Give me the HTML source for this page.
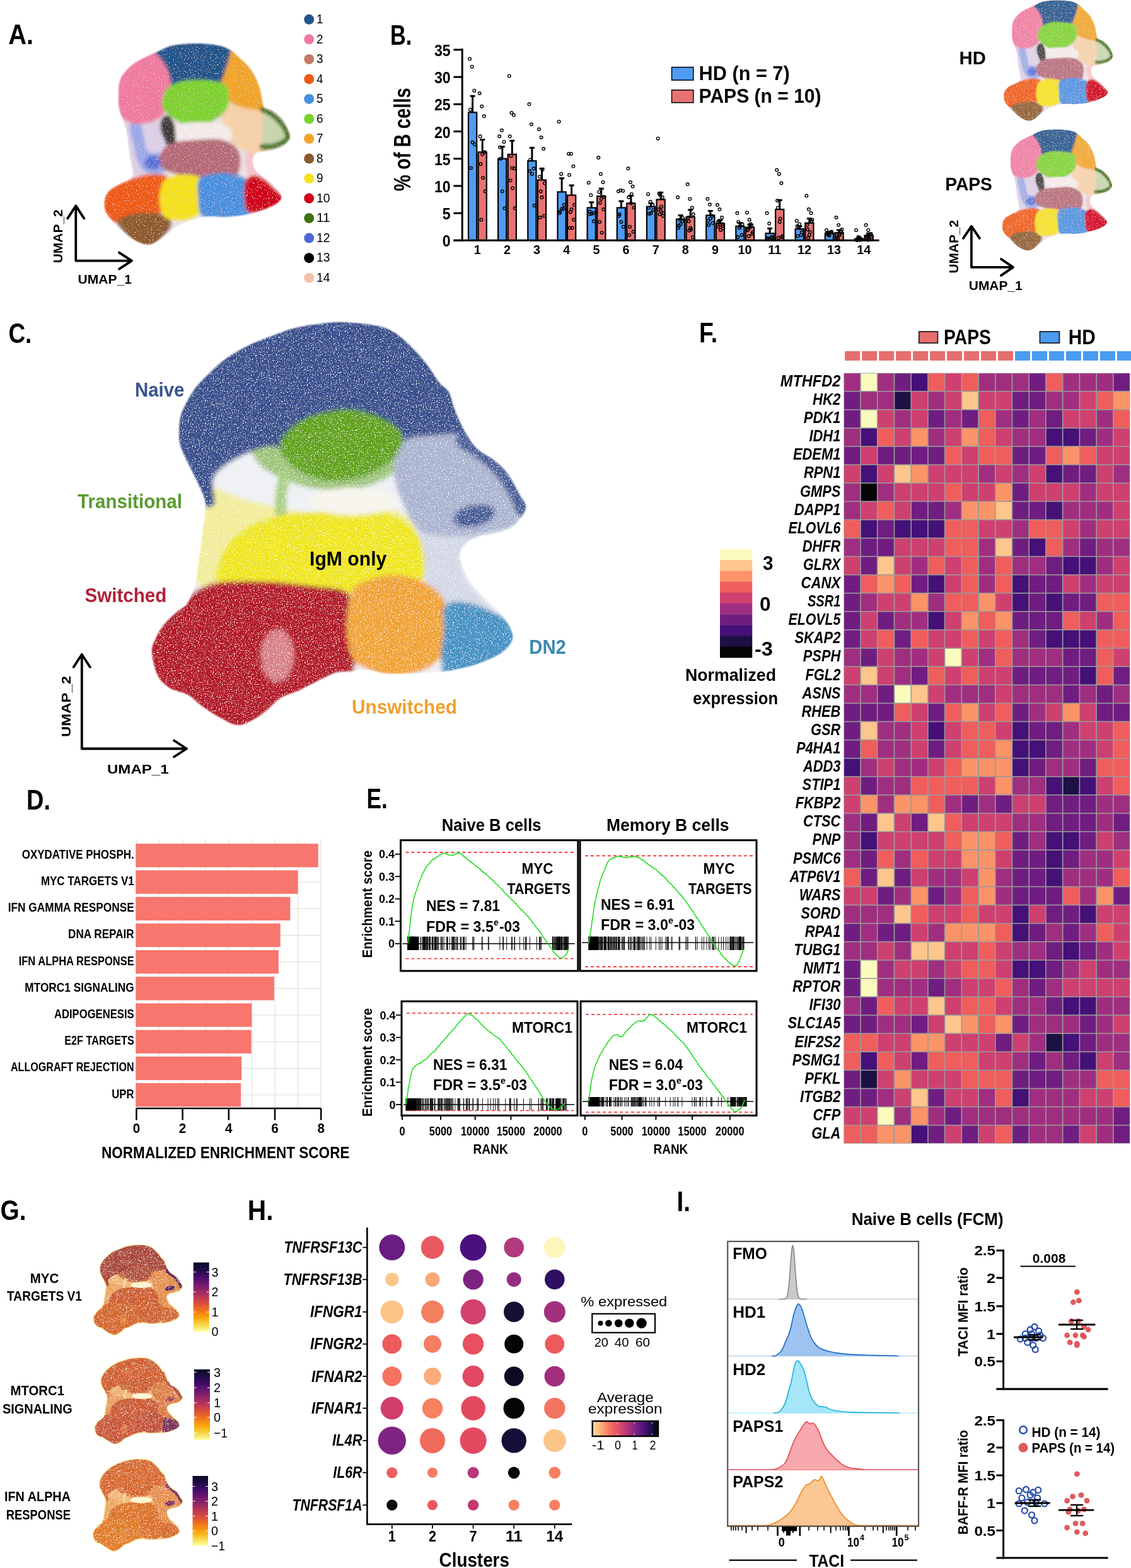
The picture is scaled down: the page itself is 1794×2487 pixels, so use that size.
<!DOCTYPE html>
<html><head><meta charset="utf-8"><title>Figure</title>
<style>
html,body{margin:0;padding:0;background:#fff;overflow:hidden;}
svg{display:block;}
text{font-family:"Liberation Sans",Arial,sans-serif;}
</style></head><body>
<svg width="1794" height="2487" viewBox="0 0 1794 2487">
<rect width="1794" height="2487" fill="#fff"/>
<defs><filter id="soft" x="-5%" y="-5%" width="110%" height="110%"><feGaussianBlur stdDeviation="1.1"/></filter><filter id="blA" x="-10%" y="-10%" width="120%" height="120%"><feGaussianBlur stdDeviation="2.2"/></filter><filter id="blC" x="-10%" y="-10%" width="120%" height="120%"><feGaussianBlur stdDeviation="3"/></filter><filter id="speck" x="0" y="0" width="100%" height="100%"><feTurbulence type="fractalNoise" baseFrequency="0.55" numOctaves="2" seed="4" result="n"/><feColorMatrix in="n" type="matrix" values="0 0 0 0 1  0 0 0 0 1  0 0 0 0 1  -7 0 0 0 2.75" result="w"/><feComposite in="w" in2="SourceAlpha" operator="in" result="wd"/><feMerge><feMergeNode in="SourceGraphic"/><feMergeNode in="wd"/></feMerge></filter><filter id="speckA" x="0" y="0" width="100%" height="100%"><feTurbulence type="fractalNoise" baseFrequency="0.5" numOctaves="2" seed="9" result="n"/><feColorMatrix in="n" type="matrix" values="0 0 0 0 0.85  0 0 0 0 0.6  0 0 0 0 0.5  -8 0 0 0 2.95" result="w"/><feComposite in="w" in2="SourceAlpha" operator="in" result="wd"/><feMerge><feMergeNode in="SourceGraphic"/><feMergeNode in="wd"/></feMerge></filter><clipPath id="silA"><path d="M188.0,150.0 C188.2,142.7 188.0,134.3 190.0,128.0 C192.0,121.7 195.8,116.8 200.0,112.0 C204.2,107.2 209.7,102.7 215.0,99.0 C220.3,95.3 226.2,92.8 232.0,90.0 C237.8,87.2 243.7,84.8 250.0,82.0 C256.3,79.2 262.5,75.1 270.0,73.0 C277.5,70.9 285.8,70.1 295.0,69.5 C304.2,68.9 315.8,68.9 325.0,69.5 C334.2,70.1 342.8,71.1 350.0,73.0 C357.2,74.9 363.0,77.8 368.0,81.0 C373.0,84.2 375.8,88.2 380.0,92.0 C384.2,95.8 389.0,99.3 393.0,104.0 C397.0,108.7 400.8,114.0 404.0,120.0 C407.2,126.0 410.0,133.3 412.0,140.0 C414.0,146.7 414.8,155.0 416.0,160.0 C417.2,165.0 416.2,167.3 419.0,170.0 C421.8,172.7 428.3,173.0 433.0,176.0 C437.7,179.0 443.2,183.3 447.0,188.0 C450.8,192.7 453.8,199.0 456.0,204.0 C458.2,209.0 460.7,213.8 460.0,218.0 C459.3,222.2 455.7,226.0 452.0,229.0 C448.3,232.0 443.3,234.2 438.0,236.0 C432.7,237.8 425.3,238.8 420.0,240.0 C414.7,241.2 409.2,240.5 406.0,243.0 C402.8,245.5 401.2,250.5 401.0,255.0 C400.8,259.5 402.5,265.8 405.0,270.0 C407.5,274.2 411.7,276.3 416.0,280.0 C420.3,283.7 426.0,287.0 431.0,292.0 C436.0,297.0 444.5,305.0 446.0,310.0 C447.5,315.0 444.3,318.3 440.0,322.0 C435.7,325.7 426.7,329.3 420.0,332.0 C413.3,334.7 406.7,336.3 400.0,338.0 C393.3,339.7 387.5,341.0 380.0,342.0 C372.5,343.0 362.5,343.8 355.0,344.0 C347.5,344.2 341.2,342.8 335.0,343.0 C328.8,343.2 323.8,343.8 318.0,345.0 C312.2,346.2 306.0,347.8 300.0,350.0 C294.0,352.2 287.7,354.7 282.0,358.0 C276.3,361.3 271.3,366.0 266.0,370.0 C260.7,374.0 255.2,379.0 250.0,382.0 C244.8,385.0 240.3,387.8 235.0,388.0 C229.7,388.2 223.8,385.8 218.0,383.0 C212.2,380.2 206.2,376.0 200.0,371.0 C193.8,366.0 186.3,358.8 181.0,353.0 C175.7,347.2 170.5,341.8 168.0,336.0 C165.5,330.2 165.2,323.5 166.0,318.0 C166.8,312.5 169.0,307.3 173.0,303.0 C177.0,298.7 184.7,295.0 190.0,292.0 C195.3,289.0 201.5,287.8 205.0,285.0 C208.5,282.2 210.5,279.5 211.0,275.0 C211.5,270.5 209.0,263.8 208.0,258.0 C207.0,252.2 205.8,246.0 205.0,240.0 C204.2,234.0 203.8,227.8 203.0,222.0 C202.2,216.2 201.3,210.3 200.0,205.0 C198.7,199.7 196.8,195.5 195.0,190.0 C193.2,184.5 190.2,178.7 189.0,172.0 C187.8,165.3 187.8,157.3 188.0,150.0Z"/></clipPath><clipPath id="silC"><path d="M284.0,690.0 C284.0,682.7 284.0,670.7 286.0,662.0 C288.0,653.3 291.8,646.0 296.0,638.0 C300.2,630.0 305.7,621.0 311.0,614.0 C316.3,607.0 322.0,602.0 328.0,596.0 C334.0,590.0 340.5,583.5 347.0,578.0 C353.5,572.5 358.8,568.2 367.0,563.0 C375.2,557.8 386.2,551.7 396.0,547.0 C405.8,542.3 414.5,539.3 426.0,535.0 C437.5,530.7 452.0,524.5 465.0,521.0 C478.0,517.5 491.0,515.7 504.0,514.0 C517.0,512.3 527.2,510.5 543.0,511.0 C558.8,511.5 584.8,514.0 599.0,517.0 C613.2,520.0 618.3,522.7 628.0,529.0 C637.7,535.3 648.8,546.8 657.0,555.0 C665.2,563.2 670.3,569.3 677.0,578.0 C683.7,586.7 691.2,599.7 697.0,607.0 C702.8,614.3 708.0,615.0 712.0,622.0 C716.0,629.0 717.0,639.0 721.0,649.0 C725.0,659.0 730.2,671.7 736.0,682.0 C741.8,692.3 747.8,702.8 756.0,711.0 C764.2,719.2 776.8,724.3 785.0,731.0 C793.2,737.7 798.5,742.2 805.0,751.0 C811.5,759.8 819.2,774.8 824.0,784.0 C828.8,793.2 835.3,797.8 834.0,806.0 C832.7,814.2 823.3,826.5 816.0,833.0 C808.7,839.5 799.3,842.0 790.0,845.0 C780.7,848.0 768.3,848.3 760.0,851.0 C751.7,853.7 745.2,856.2 740.0,861.0 C734.8,865.8 729.7,872.7 729.0,880.0 C728.3,887.3 732.3,896.7 736.0,905.0 C739.7,913.3 745.2,922.5 751.0,930.0 C756.8,937.5 764.3,943.3 771.0,950.0 C777.7,956.7 785.2,963.3 791.0,970.0 C796.8,976.7 802.3,982.8 806.0,990.0 C809.7,997.2 814.7,1005.5 813.0,1013.0 C811.3,1020.5 804.8,1028.5 796.0,1035.0 C787.2,1041.5 772.3,1047.5 760.0,1052.0 C747.7,1056.5 733.7,1059.7 722.0,1062.0 C710.3,1064.3 702.0,1065.0 690.0,1066.0 C678.0,1067.0 663.0,1067.7 650.0,1068.0 C637.0,1068.3 623.7,1069.0 612.0,1068.0 C600.3,1067.0 589.2,1062.5 580.0,1062.0 C570.8,1061.5 564.8,1064.2 557.0,1065.0 C549.2,1065.8 541.8,1064.5 533.0,1067.0 C524.2,1069.5 513.8,1075.3 504.0,1080.0 C494.2,1084.7 483.8,1090.5 474.0,1095.0 C464.2,1099.5 453.0,1102.2 445.0,1107.0 C437.0,1111.8 432.5,1118.7 426.0,1124.0 C419.5,1129.3 414.2,1134.7 406.0,1139.0 C397.8,1143.3 386.8,1150.3 377.0,1150.0 C367.2,1149.7 356.8,1142.3 347.0,1137.0 C337.2,1131.7 326.2,1123.8 318.0,1118.0 C309.8,1112.2 306.2,1106.5 298.0,1102.0 C289.8,1097.5 277.0,1096.2 269.0,1091.0 C261.0,1085.8 254.7,1080.3 250.0,1071.0 C245.3,1061.7 241.7,1044.3 241.0,1035.0 C240.3,1025.7 243.0,1022.2 246.0,1015.0 C249.0,1007.8 253.5,999.2 259.0,992.0 C264.5,984.8 272.5,978.0 279.0,972.0 C285.5,966.0 292.8,963.8 298.0,956.0 C303.2,948.2 307.0,936.8 310.0,925.0 C313.0,913.2 314.0,899.2 316.0,885.0 C318.0,870.8 320.3,854.2 322.0,840.0 C323.7,825.8 326.7,810.8 326.0,800.0 C325.3,789.2 321.2,783.0 318.0,775.0 C314.8,767.0 310.8,759.8 307.0,752.0 C303.2,744.2 298.5,735.7 295.0,728.0 C291.5,720.3 287.8,712.3 286.0,706.0 C284.2,699.7 284.0,697.3 284.0,690.0Z"/></clipPath></defs>
<g id="umapC" filter="url(#speck)">
<g filter="url(#soft)"><g clip-path="url(#silC)"><g filter="url(#blC)">
<rect x="200" y="470" width="680" height="720" fill="#EEF0F4"/>
<path d="M700.0,690.0 C710.8,685.3 725.8,678.5 735.0,682.0 C744.2,685.5 746.7,702.8 755.0,711.0 C763.3,719.2 776.8,724.5 785.0,731.0 C793.2,737.5 797.5,741.2 804.0,750.0 C810.5,758.8 819.2,774.8 824.0,784.0 C828.8,793.2 834.5,797.3 833.0,805.0 C831.5,812.7 822.2,823.7 815.0,830.0 C807.8,836.3 799.2,839.7 790.0,843.0 C780.8,846.3 768.3,844.7 760.0,850.0 C751.7,855.3 744.2,865.0 740.0,875.0 C735.8,885.0 731.7,898.3 735.0,910.0 C738.3,921.7 751.7,934.2 760.0,945.0 C768.3,955.8 785.0,967.5 785.0,975.0 C785.0,982.5 773.3,992.5 760.0,990.0 C746.7,987.5 719.7,972.5 705.0,960.0 C690.3,947.5 678.8,930.0 672.0,915.0 C665.2,900.0 667.7,884.2 664.0,870.0 C660.3,855.8 654.0,843.3 650.0,830.0 C646.0,816.7 640.0,803.3 640.0,790.0 C640.0,776.7 645.0,763.3 650.0,750.0 C655.0,736.7 661.7,720.0 670.0,710.0 C678.3,700.0 689.2,694.7 700.0,690.0Z" fill="#D3D8E6"/>
<path d="M300.0,760.0 C308.3,749.2 331.7,770.0 345.0,775.0 C358.3,780.0 367.5,785.8 380.0,790.0 C392.5,794.2 405.0,796.7 420.0,800.0 C435.0,803.3 453.3,808.0 470.0,810.0 C486.7,812.0 498.3,812.3 520.0,812.0 C541.7,811.7 580.0,807.5 600.0,808.0 C620.0,808.5 630.0,808.0 640.0,815.0 C650.0,822.0 666.7,844.2 660.0,850.0 C653.3,855.8 633.3,848.3 600.0,850.0 C566.7,851.7 493.3,856.7 460.0,860.0 C426.7,863.3 415.0,863.3 400.0,870.0 C385.0,876.7 381.7,889.2 370.0,900.0 C358.3,910.8 341.7,935.0 330.0,935.0 C318.3,935.0 305.8,915.8 300.0,900.0 C294.2,884.2 295.0,863.3 295.0,840.0 C295.0,816.7 291.7,770.8 300.0,760.0Z" fill="#F2EC98"/>
<path d="M400.0,700.0 C405.0,688.8 423.3,677.2 440.0,668.0 C456.7,658.8 480.0,649.7 500.0,645.0 C520.0,640.3 540.0,638.3 560.0,640.0 C580.0,641.7 605.0,646.7 620.0,655.0 C635.0,663.3 646.7,677.5 650.0,690.0 C653.3,702.5 646.7,718.3 640.0,730.0 C633.3,741.7 623.3,752.5 610.0,760.0 C596.7,767.5 578.3,772.5 560.0,775.0 C541.7,777.5 518.3,777.5 500.0,775.0 C481.7,772.5 465.0,766.7 450.0,760.0 C435.0,753.3 418.3,745.0 410.0,735.0 C401.7,725.0 395.0,711.2 400.0,700.0Z" fill="#9DC47A"/>
<path d="M250.0,700.0 C245.0,685.0 250.8,656.7 255.0,640.0 C259.2,623.3 267.5,611.7 275.0,600.0 C282.5,588.3 290.8,579.2 300.0,570.0 C309.2,560.8 320.0,552.5 330.0,545.0 C340.0,537.5 349.0,531.7 360.0,525.0 C371.0,518.3 382.7,510.8 396.0,505.0 C409.3,499.2 422.7,494.2 440.0,490.0 C457.3,485.8 480.0,482.0 500.0,480.0 C520.0,478.0 540.0,476.3 560.0,478.0 C580.0,479.7 603.3,483.8 620.0,490.0 C636.7,496.2 648.3,505.8 660.0,515.0 C671.7,524.2 680.8,534.2 690.0,545.0 C699.2,555.8 707.5,568.3 715.0,580.0 C722.5,591.7 730.0,603.3 735.0,615.0 C740.0,626.7 743.3,639.2 745.0,650.0 C746.7,660.8 749.8,672.0 745.0,680.0 C740.2,688.0 731.8,694.3 716.0,698.0 C700.2,701.7 669.3,698.3 650.0,702.0 C630.7,705.7 618.3,713.7 600.0,720.0 C581.7,726.3 561.7,739.7 540.0,740.0 C518.3,740.3 488.3,727.3 470.0,722.0 C451.7,716.7 443.3,708.3 430.0,708.0 C416.7,707.7 402.5,714.7 390.0,720.0 C377.5,725.3 363.7,733.0 355.0,740.0 C346.3,747.0 340.5,752.0 338.0,762.0 C335.5,772.0 343.0,793.7 340.0,800.0 C337.0,806.3 326.7,806.7 320.0,800.0 C313.3,793.3 305.8,771.7 300.0,760.0 C294.2,748.3 293.3,740.0 285.0,730.0 C276.7,720.0 255.0,715.0 250.0,700.0Z" fill="#3B518E"/>
<path d="M640.0,700.0 C652.5,690.0 684.2,691.7 700.0,690.0 C715.8,688.3 723.3,686.3 735.0,690.0 C746.7,693.7 757.5,702.8 770.0,712.0 C782.5,721.2 800.0,732.0 810.0,745.0 C820.0,758.0 828.3,775.8 830.0,790.0 C831.7,804.2 828.3,820.8 820.0,830.0 C811.7,839.2 793.3,841.7 780.0,845.0 C766.7,848.3 753.3,849.2 740.0,850.0 C726.7,850.8 712.5,851.7 700.0,850.0 C687.5,848.3 675.0,848.3 665.0,840.0 C655.0,831.7 646.7,815.0 640.0,800.0 C633.3,785.0 625.0,766.7 625.0,750.0 C625.0,733.3 627.5,710.0 640.0,700.0Z" fill="#AAB4D0"/>
<path d="M738,698 C772,716 812,748 832,806" fill="none" stroke="#4C5F98" stroke-width="30" stroke-linecap="round"/>
<ellipse cx="752" cy="818" rx="34" ry="17" transform="rotate(-12 752 818)" fill="#4C5F98"/>
<path d="M445.0,700.0 C448.3,691.2 459.2,679.5 470.0,672.0 C480.8,664.5 495.0,658.7 510.0,655.0 C525.0,651.3 543.3,648.3 560.0,650.0 C576.7,651.7 597.0,658.3 610.0,665.0 C623.0,671.7 634.7,680.8 638.0,690.0 C641.3,699.2 636.3,710.8 630.0,720.0 C623.7,729.2 611.7,738.3 600.0,745.0 C588.3,751.7 573.3,757.2 560.0,760.0 C546.7,762.8 533.3,763.7 520.0,762.0 C506.7,760.3 491.7,756.2 480.0,750.0 C468.3,743.8 455.8,733.3 450.0,725.0 C444.2,716.7 441.7,708.8 445.0,700.0Z" fill="#62A21E"/>
<path d="M452,755 Q438,800 452,842 Q462,866 478,880" fill="none" stroke="#A8CE82" stroke-width="18" stroke-linecap="round"/>
<path d="M345.0,900.0 C347.8,890.3 353.7,872.8 362.0,862.0 C370.3,851.2 382.0,842.3 395.0,835.0 C408.0,827.7 422.5,821.8 440.0,818.0 C457.5,814.2 480.0,813.3 500.0,812.0 C520.0,810.7 541.7,809.7 560.0,810.0 C578.3,810.3 595.8,811.0 610.0,814.0 C624.2,817.0 635.3,820.3 645.0,828.0 C654.7,835.7 663.5,845.3 668.0,860.0 C672.5,874.7 676.7,902.7 672.0,916.0 C667.3,929.3 655.5,934.8 640.0,940.0 C624.5,945.2 594.7,947.0 579.0,947.0 C563.3,947.0 562.5,942.0 546.0,940.0 C529.5,938.0 501.0,936.3 480.0,935.0 C459.0,933.7 438.3,932.8 420.0,932.0 C401.7,931.2 382.5,932.0 370.0,930.0 C357.5,928.0 349.2,925.0 345.0,920.0 C340.8,915.0 342.2,909.7 345.0,900.0Z" fill="#EFE61C"/>
<path d="M215.0,1035.0 C214.2,1022.5 215.8,1010.0 220.0,1000.0 C224.2,990.0 232.0,982.5 240.0,975.0 C248.0,967.5 258.3,960.0 268.0,955.0 C277.7,950.0 289.7,948.7 298.0,945.0 C306.3,941.3 311.0,936.3 318.0,933.0 C325.0,929.7 331.8,926.8 340.0,925.0 C348.2,923.2 356.0,922.5 367.0,922.0 C378.0,921.5 393.0,921.7 406.0,922.0 C419.0,922.3 429.3,922.7 445.0,924.0 C460.7,925.3 484.2,928.2 500.0,930.0 C515.8,931.8 530.5,931.7 540.0,935.0 C549.5,938.3 552.8,939.2 557.0,950.0 C561.2,960.8 564.5,980.8 565.0,1000.0 C565.5,1019.2 565.3,1053.3 560.0,1065.0 C554.7,1076.7 542.3,1065.8 533.0,1070.0 C523.7,1074.2 513.8,1083.3 504.0,1090.0 C494.2,1096.7 483.8,1104.2 474.0,1110.0 C464.2,1115.8 453.0,1119.2 445.0,1125.0 C437.0,1130.8 432.5,1138.3 426.0,1145.0 C419.5,1151.7 414.2,1160.0 406.0,1165.0 C397.8,1170.0 386.8,1175.0 377.0,1175.0 C367.2,1175.0 356.8,1170.0 347.0,1165.0 C337.2,1160.0 327.5,1151.7 318.0,1145.0 C308.5,1138.3 300.5,1131.7 290.0,1125.0 C279.5,1118.3 265.8,1113.3 255.0,1105.0 C244.2,1096.7 231.7,1086.7 225.0,1075.0 C218.3,1063.3 215.8,1047.5 215.0,1035.0Z" fill="#B31C2C"/>
<path d="M557.0,940.0 C562.0,927.0 569.5,926.7 580.0,922.0 C590.5,917.3 605.8,912.3 620.0,912.0 C634.2,911.7 651.7,914.5 665.0,920.0 C678.3,925.5 691.8,933.3 700.0,945.0 C708.2,956.7 712.7,975.8 714.0,990.0 C715.3,1004.2 713.3,1018.7 708.0,1030.0 C702.7,1041.3 693.3,1051.0 682.0,1058.0 C670.7,1065.0 651.7,1069.7 640.0,1072.0 C628.3,1074.3 622.0,1074.0 612.0,1072.0 C602.0,1070.0 588.7,1064.5 580.0,1060.0 C571.3,1055.5 565.0,1055.0 560.0,1045.0 C555.0,1035.0 550.5,1017.5 550.0,1000.0 C549.5,982.5 552.0,953.0 557.0,940.0Z" fill="#F0A334"/>
<path d="M705.0,962.0 C710.2,954.5 723.0,954.0 735.0,955.0 C747.0,956.0 763.7,962.2 777.0,968.0 C790.3,973.8 805.3,982.5 815.0,990.0 C824.7,997.5 835.8,1003.8 835.0,1013.0 C834.2,1022.2 820.8,1036.3 810.0,1045.0 C799.2,1053.7 783.3,1059.2 770.0,1065.0 C756.7,1070.8 740.8,1077.5 730.0,1080.0 C719.2,1082.5 710.0,1086.7 705.0,1080.0 C700.0,1073.3 700.2,1053.3 700.0,1040.0 C699.8,1026.7 703.2,1013.0 704.0,1000.0 C704.8,987.0 699.8,969.5 705.0,962.0Z" fill="#4792C4"/>
<ellipse cx="440" cy="1040" rx="26" ry="42" fill="#E6A0A6" opacity="0.75"/>
<ellipse cx="560" cy="795" rx="70" ry="22" fill="#F6F4EC"/>
</g></g></g></g>
<defs>
<g id="g1src" filter="url(#speck)">
<path d="M284.0,690.0 C284.0,682.7 284.0,670.7 286.0,662.0 C288.0,653.3 291.8,646.0 296.0,638.0 C300.2,630.0 305.7,621.0 311.0,614.0 C316.3,607.0 322.0,602.0 328.0,596.0 C334.0,590.0 340.5,583.5 347.0,578.0 C353.5,572.5 358.8,568.2 367.0,563.0 C375.2,557.8 386.2,551.7 396.0,547.0 C405.8,542.3 414.5,539.3 426.0,535.0 C437.5,530.7 452.0,524.5 465.0,521.0 C478.0,517.5 491.0,515.7 504.0,514.0 C517.0,512.3 527.2,510.5 543.0,511.0 C558.8,511.5 584.8,514.0 599.0,517.0 C613.2,520.0 618.3,522.7 628.0,529.0 C637.7,535.3 648.8,546.8 657.0,555.0 C665.2,563.2 670.3,569.3 677.0,578.0 C683.7,586.7 691.2,599.7 697.0,607.0 C702.8,614.3 708.0,615.0 712.0,622.0 C716.0,629.0 717.0,639.0 721.0,649.0 C725.0,659.0 730.2,671.7 736.0,682.0 C741.8,692.3 747.8,702.8 756.0,711.0 C764.2,719.2 776.8,724.3 785.0,731.0 C793.2,737.7 798.5,742.2 805.0,751.0 C811.5,759.8 819.2,774.8 824.0,784.0 C828.8,793.2 835.3,797.8 834.0,806.0 C832.7,814.2 823.3,826.5 816.0,833.0 C808.7,839.5 799.3,842.0 790.0,845.0 C780.7,848.0 768.3,848.3 760.0,851.0 C751.7,853.7 745.2,856.2 740.0,861.0 C734.8,865.8 729.7,872.7 729.0,880.0 C728.3,887.3 732.3,896.7 736.0,905.0 C739.7,913.3 745.2,922.5 751.0,930.0 C756.8,937.5 764.3,943.3 771.0,950.0 C777.7,956.7 785.2,963.3 791.0,970.0 C796.8,976.7 802.3,982.8 806.0,990.0 C809.7,997.2 814.7,1005.5 813.0,1013.0 C811.3,1020.5 804.8,1028.5 796.0,1035.0 C787.2,1041.5 772.3,1047.5 760.0,1052.0 C747.7,1056.5 733.7,1059.7 722.0,1062.0 C710.3,1064.3 702.0,1065.0 690.0,1066.0 C678.0,1067.0 663.0,1067.7 650.0,1068.0 C637.0,1068.3 623.7,1069.0 612.0,1068.0 C600.3,1067.0 589.2,1062.5 580.0,1062.0 C570.8,1061.5 564.8,1064.2 557.0,1065.0 C549.2,1065.8 541.8,1064.5 533.0,1067.0 C524.2,1069.5 513.8,1075.3 504.0,1080.0 C494.2,1084.7 483.8,1090.5 474.0,1095.0 C464.2,1099.5 453.0,1102.2 445.0,1107.0 C437.0,1111.8 432.5,1118.7 426.0,1124.0 C419.5,1129.3 414.2,1134.7 406.0,1139.0 C397.8,1143.3 386.8,1150.3 377.0,1150.0 C367.2,1149.7 356.8,1142.3 347.0,1137.0 C337.2,1131.7 326.2,1123.8 318.0,1118.0 C309.8,1112.2 306.2,1106.5 298.0,1102.0 C289.8,1097.5 277.0,1096.2 269.0,1091.0 C261.0,1085.8 254.7,1080.3 250.0,1071.0 C245.3,1061.7 241.7,1044.3 241.0,1035.0 C240.3,1025.7 243.0,1022.2 246.0,1015.0 C249.0,1007.8 253.5,999.2 259.0,992.0 C264.5,984.8 272.5,978.0 279.0,972.0 C285.5,966.0 292.8,963.8 298.0,956.0 C303.2,948.2 307.0,936.8 310.0,925.0 C313.0,913.2 314.0,899.2 316.0,885.0 C318.0,870.8 320.3,854.2 322.0,840.0 C323.7,825.8 326.7,810.8 326.0,800.0 C325.3,789.2 321.2,783.0 318.0,775.0 C314.8,767.0 310.8,759.8 307.0,752.0 C303.2,744.2 298.5,735.7 295.0,728.0 C291.5,720.3 287.8,712.3 286.0,706.0 C284.2,699.7 284.0,697.3 284.0,690.0Z" fill="#FBEFB4" stroke="#FBEFB4" stroke-width="14" stroke-linejoin="round"/>
<g filter="url(#soft)"><g clip-path="url(#silC)"><g filter="url(#blC)">
<rect x="200" y="470" width="680" height="720" fill="#F2B676"/>
<path d="M700.0,690.0 C710.8,685.3 725.8,678.5 735.0,682.0 C744.2,685.5 746.7,702.8 755.0,711.0 C763.3,719.2 776.8,724.5 785.0,731.0 C793.2,737.5 797.5,741.2 804.0,750.0 C810.5,758.8 819.2,774.8 824.0,784.0 C828.8,793.2 834.5,797.3 833.0,805.0 C831.5,812.7 822.2,823.7 815.0,830.0 C807.8,836.3 799.2,839.7 790.0,843.0 C780.8,846.3 768.3,844.7 760.0,850.0 C751.7,855.3 744.2,865.0 740.0,875.0 C735.8,885.0 731.7,898.3 735.0,910.0 C738.3,921.7 751.7,934.2 760.0,945.0 C768.3,955.8 785.0,967.5 785.0,975.0 C785.0,982.5 773.3,992.5 760.0,990.0 C746.7,987.5 719.7,972.5 705.0,960.0 C690.3,947.5 678.8,930.0 672.0,915.0 C665.2,900.0 667.7,884.2 664.0,870.0 C660.3,855.8 654.0,843.3 650.0,830.0 C646.0,816.7 640.0,803.3 640.0,790.0 C640.0,776.7 645.0,763.3 650.0,750.0 C655.0,736.7 661.7,720.0 670.0,710.0 C678.3,700.0 689.2,694.7 700.0,690.0Z" fill="#E2904E"/>
<path d="M300.0,760.0 C308.3,749.2 331.7,770.0 345.0,775.0 C358.3,780.0 367.5,785.8 380.0,790.0 C392.5,794.2 405.0,796.7 420.0,800.0 C435.0,803.3 453.3,808.0 470.0,810.0 C486.7,812.0 498.3,812.3 520.0,812.0 C541.7,811.7 580.0,807.5 600.0,808.0 C620.0,808.5 630.0,808.0 640.0,815.0 C650.0,822.0 666.7,844.2 660.0,850.0 C653.3,855.8 633.3,848.3 600.0,850.0 C566.7,851.7 493.3,856.7 460.0,860.0 C426.7,863.3 415.0,863.3 400.0,870.0 C385.0,876.7 381.7,889.2 370.0,900.0 C358.3,910.8 341.7,935.0 330.0,935.0 C318.3,935.0 305.8,915.8 300.0,900.0 C294.2,884.2 295.0,863.3 295.0,840.0 C295.0,816.7 291.7,770.8 300.0,760.0Z" fill="#EAA462"/>
<path d="M400.0,700.0 C405.0,688.8 423.3,677.2 440.0,668.0 C456.7,658.8 480.0,649.7 500.0,645.0 C520.0,640.3 540.0,638.3 560.0,640.0 C580.0,641.7 605.0,646.7 620.0,655.0 C635.0,663.3 646.7,677.5 650.0,690.0 C653.3,702.5 646.7,718.3 640.0,730.0 C633.3,741.7 623.3,752.5 610.0,760.0 C596.7,767.5 578.3,772.5 560.0,775.0 C541.7,777.5 518.3,777.5 500.0,775.0 C481.7,772.5 465.0,766.7 450.0,760.0 C435.0,753.3 418.3,745.0 410.0,735.0 C401.7,725.0 395.0,711.2 400.0,700.0Z" fill="#C8704A"/>
<path d="M250.0,700.0 C245.0,685.0 250.8,656.7 255.0,640.0 C259.2,623.3 267.5,611.7 275.0,600.0 C282.5,588.3 290.8,579.2 300.0,570.0 C309.2,560.8 320.0,552.5 330.0,545.0 C340.0,537.5 349.0,531.7 360.0,525.0 C371.0,518.3 382.7,510.8 396.0,505.0 C409.3,499.2 422.7,494.2 440.0,490.0 C457.3,485.8 480.0,482.0 500.0,480.0 C520.0,478.0 540.0,476.3 560.0,478.0 C580.0,479.7 603.3,483.8 620.0,490.0 C636.7,496.2 648.3,505.8 660.0,515.0 C671.7,524.2 680.8,534.2 690.0,545.0 C699.2,555.8 707.5,568.3 715.0,580.0 C722.5,591.7 730.0,603.3 735.0,615.0 C740.0,626.7 743.3,639.2 745.0,650.0 C746.7,660.8 749.8,672.0 745.0,680.0 C740.2,688.0 731.8,694.3 716.0,698.0 C700.2,701.7 669.3,698.3 650.0,702.0 C630.7,705.7 618.3,713.7 600.0,720.0 C581.7,726.3 561.7,739.7 540.0,740.0 C518.3,740.3 488.3,727.3 470.0,722.0 C451.7,716.7 443.3,708.3 430.0,708.0 C416.7,707.7 402.5,714.7 390.0,720.0 C377.5,725.3 363.7,733.0 355.0,740.0 C346.3,747.0 340.5,752.0 338.0,762.0 C335.5,772.0 343.0,793.7 340.0,800.0 C337.0,806.3 326.7,806.7 320.0,800.0 C313.3,793.3 305.8,771.7 300.0,760.0 C294.2,748.3 293.3,740.0 285.0,730.0 C276.7,720.0 255.0,715.0 250.0,700.0Z" fill="#AA4A3E"/>
<path d="M640.0,700.0 C652.5,690.0 684.2,691.7 700.0,690.0 C715.8,688.3 723.3,686.3 735.0,690.0 C746.7,693.7 757.5,702.8 770.0,712.0 C782.5,721.2 800.0,732.0 810.0,745.0 C820.0,758.0 828.3,775.8 830.0,790.0 C831.7,804.2 828.3,820.8 820.0,830.0 C811.7,839.2 793.3,841.7 780.0,845.0 C766.7,848.3 753.3,849.2 740.0,850.0 C726.7,850.8 712.5,851.7 700.0,850.0 C687.5,848.3 675.0,848.3 665.0,840.0 C655.0,831.7 646.7,815.0 640.0,800.0 C633.3,785.0 625.0,766.7 625.0,750.0 C625.0,733.3 627.5,710.0 640.0,700.0Z" fill="#E2904E"/>
<path d="M738,698 C772,716 812,748 832,806" fill="none" stroke="#5E2462" stroke-width="30" stroke-linecap="round"/>
<ellipse cx="752" cy="818" rx="34" ry="17" transform="rotate(-12 752 818)" fill="#5E2462"/>
<path d="M445.0,700.0 C448.3,691.2 459.2,679.5 470.0,672.0 C480.8,664.5 495.0,658.7 510.0,655.0 C525.0,651.3 543.3,648.3 560.0,650.0 C576.7,651.7 597.0,658.3 610.0,665.0 C623.0,671.7 634.7,680.8 638.0,690.0 C641.3,699.2 636.3,710.8 630.0,720.0 C623.7,729.2 611.7,738.3 600.0,745.0 C588.3,751.7 573.3,757.2 560.0,760.0 C546.7,762.8 533.3,763.7 520.0,762.0 C506.7,760.3 491.7,756.2 480.0,750.0 C468.3,743.8 455.8,733.3 450.0,725.0 C444.2,716.7 441.7,708.8 445.0,700.0Z" fill="#B0503C"/>
<path d="M452,755 Q438,800 452,842 Q462,866 478,880" fill="none" stroke="#F4D090" stroke-width="18" stroke-linecap="round"/>
<path d="M345.0,900.0 C347.8,890.3 353.7,872.8 362.0,862.0 C370.3,851.2 382.0,842.3 395.0,835.0 C408.0,827.7 422.5,821.8 440.0,818.0 C457.5,814.2 480.0,813.3 500.0,812.0 C520.0,810.7 541.7,809.7 560.0,810.0 C578.3,810.3 595.8,811.0 610.0,814.0 C624.2,817.0 635.3,820.3 645.0,828.0 C654.7,835.7 663.5,845.3 668.0,860.0 C672.5,874.7 676.7,902.7 672.0,916.0 C667.3,929.3 655.5,934.8 640.0,940.0 C624.5,945.2 594.7,947.0 579.0,947.0 C563.3,947.0 562.5,942.0 546.0,940.0 C529.5,938.0 501.0,936.3 480.0,935.0 C459.0,933.7 438.3,932.8 420.0,932.0 C401.7,931.2 382.5,932.0 370.0,930.0 C357.5,928.0 349.2,925.0 345.0,920.0 C340.8,915.0 342.2,909.7 345.0,900.0Z" fill="#CE5E30"/>
<path d="M215.0,1035.0 C214.2,1022.5 215.8,1010.0 220.0,1000.0 C224.2,990.0 232.0,982.5 240.0,975.0 C248.0,967.5 258.3,960.0 268.0,955.0 C277.7,950.0 289.7,948.7 298.0,945.0 C306.3,941.3 311.0,936.3 318.0,933.0 C325.0,929.7 331.8,926.8 340.0,925.0 C348.2,923.2 356.0,922.5 367.0,922.0 C378.0,921.5 393.0,921.7 406.0,922.0 C419.0,922.3 429.3,922.7 445.0,924.0 C460.7,925.3 484.2,928.2 500.0,930.0 C515.8,931.8 530.5,931.7 540.0,935.0 C549.5,938.3 552.8,939.2 557.0,950.0 C561.2,960.8 564.5,980.8 565.0,1000.0 C565.5,1019.2 565.3,1053.3 560.0,1065.0 C554.7,1076.7 542.3,1065.8 533.0,1070.0 C523.7,1074.2 513.8,1083.3 504.0,1090.0 C494.2,1096.7 483.8,1104.2 474.0,1110.0 C464.2,1115.8 453.0,1119.2 445.0,1125.0 C437.0,1130.8 432.5,1138.3 426.0,1145.0 C419.5,1151.7 414.2,1160.0 406.0,1165.0 C397.8,1170.0 386.8,1175.0 377.0,1175.0 C367.2,1175.0 356.8,1170.0 347.0,1165.0 C337.2,1160.0 327.5,1151.7 318.0,1145.0 C308.5,1138.3 300.5,1131.7 290.0,1125.0 C279.5,1118.3 265.8,1113.3 255.0,1105.0 C244.2,1096.7 231.7,1086.7 225.0,1075.0 C218.3,1063.3 215.8,1047.5 215.0,1035.0Z" fill="#D4682E"/>
<path d="M557.0,940.0 C562.0,927.0 569.5,926.7 580.0,922.0 C590.5,917.3 605.8,912.3 620.0,912.0 C634.2,911.7 651.7,914.5 665.0,920.0 C678.3,925.5 691.8,933.3 700.0,945.0 C708.2,956.7 712.7,975.8 714.0,990.0 C715.3,1004.2 713.3,1018.7 708.0,1030.0 C702.7,1041.3 693.3,1051.0 682.0,1058.0 C670.7,1065.0 651.7,1069.7 640.0,1072.0 C628.3,1074.3 622.0,1074.0 612.0,1072.0 C602.0,1070.0 588.7,1064.5 580.0,1060.0 C571.3,1055.5 565.0,1055.0 560.0,1045.0 C555.0,1035.0 550.5,1017.5 550.0,1000.0 C549.5,982.5 552.0,953.0 557.0,940.0Z" fill="#CE6232"/>
<path d="M705.0,962.0 C710.2,954.5 723.0,954.0 735.0,955.0 C747.0,956.0 763.7,962.2 777.0,968.0 C790.3,973.8 805.3,982.5 815.0,990.0 C824.7,997.5 835.8,1003.8 835.0,1013.0 C834.2,1022.2 820.8,1036.3 810.0,1045.0 C799.2,1053.7 783.3,1059.2 770.0,1065.0 C756.7,1070.8 740.8,1077.5 730.0,1080.0 C719.2,1082.5 710.0,1086.7 705.0,1080.0 C700.0,1073.3 700.2,1053.3 700.0,1040.0 C699.8,1026.7 703.2,1013.0 704.0,1000.0 C704.8,987.0 699.8,969.5 705.0,962.0Z" fill="#D26A30"/>
<ellipse cx="440" cy="1040" rx="26" ry="42" fill="#E0843E" opacity="0.75"/>
<ellipse cx="560" cy="795" rx="70" ry="22" fill="#FFF4D0"/>
</g></g></g></g>
<g id="g2src" filter="url(#speck)">
<path d="M284.0,690.0 C284.0,682.7 284.0,670.7 286.0,662.0 C288.0,653.3 291.8,646.0 296.0,638.0 C300.2,630.0 305.7,621.0 311.0,614.0 C316.3,607.0 322.0,602.0 328.0,596.0 C334.0,590.0 340.5,583.5 347.0,578.0 C353.5,572.5 358.8,568.2 367.0,563.0 C375.2,557.8 386.2,551.7 396.0,547.0 C405.8,542.3 414.5,539.3 426.0,535.0 C437.5,530.7 452.0,524.5 465.0,521.0 C478.0,517.5 491.0,515.7 504.0,514.0 C517.0,512.3 527.2,510.5 543.0,511.0 C558.8,511.5 584.8,514.0 599.0,517.0 C613.2,520.0 618.3,522.7 628.0,529.0 C637.7,535.3 648.8,546.8 657.0,555.0 C665.2,563.2 670.3,569.3 677.0,578.0 C683.7,586.7 691.2,599.7 697.0,607.0 C702.8,614.3 708.0,615.0 712.0,622.0 C716.0,629.0 717.0,639.0 721.0,649.0 C725.0,659.0 730.2,671.7 736.0,682.0 C741.8,692.3 747.8,702.8 756.0,711.0 C764.2,719.2 776.8,724.3 785.0,731.0 C793.2,737.7 798.5,742.2 805.0,751.0 C811.5,759.8 819.2,774.8 824.0,784.0 C828.8,793.2 835.3,797.8 834.0,806.0 C832.7,814.2 823.3,826.5 816.0,833.0 C808.7,839.5 799.3,842.0 790.0,845.0 C780.7,848.0 768.3,848.3 760.0,851.0 C751.7,853.7 745.2,856.2 740.0,861.0 C734.8,865.8 729.7,872.7 729.0,880.0 C728.3,887.3 732.3,896.7 736.0,905.0 C739.7,913.3 745.2,922.5 751.0,930.0 C756.8,937.5 764.3,943.3 771.0,950.0 C777.7,956.7 785.2,963.3 791.0,970.0 C796.8,976.7 802.3,982.8 806.0,990.0 C809.7,997.2 814.7,1005.5 813.0,1013.0 C811.3,1020.5 804.8,1028.5 796.0,1035.0 C787.2,1041.5 772.3,1047.5 760.0,1052.0 C747.7,1056.5 733.7,1059.7 722.0,1062.0 C710.3,1064.3 702.0,1065.0 690.0,1066.0 C678.0,1067.0 663.0,1067.7 650.0,1068.0 C637.0,1068.3 623.7,1069.0 612.0,1068.0 C600.3,1067.0 589.2,1062.5 580.0,1062.0 C570.8,1061.5 564.8,1064.2 557.0,1065.0 C549.2,1065.8 541.8,1064.5 533.0,1067.0 C524.2,1069.5 513.8,1075.3 504.0,1080.0 C494.2,1084.7 483.8,1090.5 474.0,1095.0 C464.2,1099.5 453.0,1102.2 445.0,1107.0 C437.0,1111.8 432.5,1118.7 426.0,1124.0 C419.5,1129.3 414.2,1134.7 406.0,1139.0 C397.8,1143.3 386.8,1150.3 377.0,1150.0 C367.2,1149.7 356.8,1142.3 347.0,1137.0 C337.2,1131.7 326.2,1123.8 318.0,1118.0 C309.8,1112.2 306.2,1106.5 298.0,1102.0 C289.8,1097.5 277.0,1096.2 269.0,1091.0 C261.0,1085.8 254.7,1080.3 250.0,1071.0 C245.3,1061.7 241.7,1044.3 241.0,1035.0 C240.3,1025.7 243.0,1022.2 246.0,1015.0 C249.0,1007.8 253.5,999.2 259.0,992.0 C264.5,984.8 272.5,978.0 279.0,972.0 C285.5,966.0 292.8,963.8 298.0,956.0 C303.2,948.2 307.0,936.8 310.0,925.0 C313.0,913.2 314.0,899.2 316.0,885.0 C318.0,870.8 320.3,854.2 322.0,840.0 C323.7,825.8 326.7,810.8 326.0,800.0 C325.3,789.2 321.2,783.0 318.0,775.0 C314.8,767.0 310.8,759.8 307.0,752.0 C303.2,744.2 298.5,735.7 295.0,728.0 C291.5,720.3 287.8,712.3 286.0,706.0 C284.2,699.7 284.0,697.3 284.0,690.0Z" fill="#FBEFB4" stroke="#FBEFB4" stroke-width="14" stroke-linejoin="round"/>
<g filter="url(#soft)"><g clip-path="url(#silC)"><g filter="url(#blC)">
<rect x="200" y="470" width="680" height="720" fill="#F0B070"/>
<path d="M700.0,690.0 C710.8,685.3 725.8,678.5 735.0,682.0 C744.2,685.5 746.7,702.8 755.0,711.0 C763.3,719.2 776.8,724.5 785.0,731.0 C793.2,737.5 797.5,741.2 804.0,750.0 C810.5,758.8 819.2,774.8 824.0,784.0 C828.8,793.2 834.5,797.3 833.0,805.0 C831.5,812.7 822.2,823.7 815.0,830.0 C807.8,836.3 799.2,839.7 790.0,843.0 C780.8,846.3 768.3,844.7 760.0,850.0 C751.7,855.3 744.2,865.0 740.0,875.0 C735.8,885.0 731.7,898.3 735.0,910.0 C738.3,921.7 751.7,934.2 760.0,945.0 C768.3,955.8 785.0,967.5 785.0,975.0 C785.0,982.5 773.3,992.5 760.0,990.0 C746.7,987.5 719.7,972.5 705.0,960.0 C690.3,947.5 678.8,930.0 672.0,915.0 C665.2,900.0 667.7,884.2 664.0,870.0 C660.3,855.8 654.0,843.3 650.0,830.0 C646.0,816.7 640.0,803.3 640.0,790.0 C640.0,776.7 645.0,763.3 650.0,750.0 C655.0,736.7 661.7,720.0 670.0,710.0 C678.3,700.0 689.2,694.7 700.0,690.0Z" fill="#DC8048"/>
<path d="M300.0,760.0 C308.3,749.2 331.7,770.0 345.0,775.0 C358.3,780.0 367.5,785.8 380.0,790.0 C392.5,794.2 405.0,796.7 420.0,800.0 C435.0,803.3 453.3,808.0 470.0,810.0 C486.7,812.0 498.3,812.3 520.0,812.0 C541.7,811.7 580.0,807.5 600.0,808.0 C620.0,808.5 630.0,808.0 640.0,815.0 C650.0,822.0 666.7,844.2 660.0,850.0 C653.3,855.8 633.3,848.3 600.0,850.0 C566.7,851.7 493.3,856.7 460.0,860.0 C426.7,863.3 415.0,863.3 400.0,870.0 C385.0,876.7 381.7,889.2 370.0,900.0 C358.3,910.8 341.7,935.0 330.0,935.0 C318.3,935.0 305.8,915.8 300.0,900.0 C294.2,884.2 295.0,863.3 295.0,840.0 C295.0,816.7 291.7,770.8 300.0,760.0Z" fill="#E89C5C"/>
<path d="M400.0,700.0 C405.0,688.8 423.3,677.2 440.0,668.0 C456.7,658.8 480.0,649.7 500.0,645.0 C520.0,640.3 540.0,638.3 560.0,640.0 C580.0,641.7 605.0,646.7 620.0,655.0 C635.0,663.3 646.7,677.5 650.0,690.0 C653.3,702.5 646.7,718.3 640.0,730.0 C633.3,741.7 623.3,752.5 610.0,760.0 C596.7,767.5 578.3,772.5 560.0,775.0 C541.7,777.5 518.3,777.5 500.0,775.0 C481.7,772.5 465.0,766.7 450.0,760.0 C435.0,753.3 418.3,745.0 410.0,735.0 C401.7,725.0 395.0,711.2 400.0,700.0Z" fill="#D06E40"/>
<path d="M250.0,700.0 C245.0,685.0 250.8,656.7 255.0,640.0 C259.2,623.3 267.5,611.7 275.0,600.0 C282.5,588.3 290.8,579.2 300.0,570.0 C309.2,560.8 320.0,552.5 330.0,545.0 C340.0,537.5 349.0,531.7 360.0,525.0 C371.0,518.3 382.7,510.8 396.0,505.0 C409.3,499.2 422.7,494.2 440.0,490.0 C457.3,485.8 480.0,482.0 500.0,480.0 C520.0,478.0 540.0,476.3 560.0,478.0 C580.0,479.7 603.3,483.8 620.0,490.0 C636.7,496.2 648.3,505.8 660.0,515.0 C671.7,524.2 680.8,534.2 690.0,545.0 C699.2,555.8 707.5,568.3 715.0,580.0 C722.5,591.7 730.0,603.3 735.0,615.0 C740.0,626.7 743.3,639.2 745.0,650.0 C746.7,660.8 749.8,672.0 745.0,680.0 C740.2,688.0 731.8,694.3 716.0,698.0 C700.2,701.7 669.3,698.3 650.0,702.0 C630.7,705.7 618.3,713.7 600.0,720.0 C581.7,726.3 561.7,739.7 540.0,740.0 C518.3,740.3 488.3,727.3 470.0,722.0 C451.7,716.7 443.3,708.3 430.0,708.0 C416.7,707.7 402.5,714.7 390.0,720.0 C377.5,725.3 363.7,733.0 355.0,740.0 C346.3,747.0 340.5,752.0 338.0,762.0 C335.5,772.0 343.0,793.7 340.0,800.0 C337.0,806.3 326.7,806.7 320.0,800.0 C313.3,793.3 305.8,771.7 300.0,760.0 C294.2,748.3 293.3,740.0 285.0,730.0 C276.7,720.0 255.0,715.0 250.0,700.0Z" fill="#D06232"/>
<path d="M640.0,700.0 C652.5,690.0 684.2,691.7 700.0,690.0 C715.8,688.3 723.3,686.3 735.0,690.0 C746.7,693.7 757.5,702.8 770.0,712.0 C782.5,721.2 800.0,732.0 810.0,745.0 C820.0,758.0 828.3,775.8 830.0,790.0 C831.7,804.2 828.3,820.8 820.0,830.0 C811.7,839.2 793.3,841.7 780.0,845.0 C766.7,848.3 753.3,849.2 740.0,850.0 C726.7,850.8 712.5,851.7 700.0,850.0 C687.5,848.3 675.0,848.3 665.0,840.0 C655.0,831.7 646.7,815.0 640.0,800.0 C633.3,785.0 625.0,766.7 625.0,750.0 C625.0,733.3 627.5,710.0 640.0,700.0Z" fill="#DC8048"/>
<path d="M738,698 C772,716 812,748 832,806" fill="none" stroke="#A84850" stroke-width="30" stroke-linecap="round"/>
<ellipse cx="752" cy="818" rx="34" ry="17" transform="rotate(-12 752 818)" fill="#A84850"/>
<path d="M445.0,700.0 C448.3,691.2 459.2,679.5 470.0,672.0 C480.8,664.5 495.0,658.7 510.0,655.0 C525.0,651.3 543.3,648.3 560.0,650.0 C576.7,651.7 597.0,658.3 610.0,665.0 C623.0,671.7 634.7,680.8 638.0,690.0 C641.3,699.2 636.3,710.8 630.0,720.0 C623.7,729.2 611.7,738.3 600.0,745.0 C588.3,751.7 573.3,757.2 560.0,760.0 C546.7,762.8 533.3,763.7 520.0,762.0 C506.7,760.3 491.7,756.2 480.0,750.0 C468.3,743.8 455.8,733.3 450.0,725.0 C444.2,716.7 441.7,708.8 445.0,700.0Z" fill="#CC5E32"/>
<path d="M452,755 Q438,800 452,842 Q462,866 478,880" fill="none" stroke="#F4D090" stroke-width="18" stroke-linecap="round"/>
<path d="M345.0,900.0 C347.8,890.3 353.7,872.8 362.0,862.0 C370.3,851.2 382.0,842.3 395.0,835.0 C408.0,827.7 422.5,821.8 440.0,818.0 C457.5,814.2 480.0,813.3 500.0,812.0 C520.0,810.7 541.7,809.7 560.0,810.0 C578.3,810.3 595.8,811.0 610.0,814.0 C624.2,817.0 635.3,820.3 645.0,828.0 C654.7,835.7 663.5,845.3 668.0,860.0 C672.5,874.7 676.7,902.7 672.0,916.0 C667.3,929.3 655.5,934.8 640.0,940.0 C624.5,945.2 594.7,947.0 579.0,947.0 C563.3,947.0 562.5,942.0 546.0,940.0 C529.5,938.0 501.0,936.3 480.0,935.0 C459.0,933.7 438.3,932.8 420.0,932.0 C401.7,931.2 382.5,932.0 370.0,930.0 C357.5,928.0 349.2,925.0 345.0,920.0 C340.8,915.0 342.2,909.7 345.0,900.0Z" fill="#CC5C36"/>
<path d="M215.0,1035.0 C214.2,1022.5 215.8,1010.0 220.0,1000.0 C224.2,990.0 232.0,982.5 240.0,975.0 C248.0,967.5 258.3,960.0 268.0,955.0 C277.7,950.0 289.7,948.7 298.0,945.0 C306.3,941.3 311.0,936.3 318.0,933.0 C325.0,929.7 331.8,926.8 340.0,925.0 C348.2,923.2 356.0,922.5 367.0,922.0 C378.0,921.5 393.0,921.7 406.0,922.0 C419.0,922.3 429.3,922.7 445.0,924.0 C460.7,925.3 484.2,928.2 500.0,930.0 C515.8,931.8 530.5,931.7 540.0,935.0 C549.5,938.3 552.8,939.2 557.0,950.0 C561.2,960.8 564.5,980.8 565.0,1000.0 C565.5,1019.2 565.3,1053.3 560.0,1065.0 C554.7,1076.7 542.3,1065.8 533.0,1070.0 C523.7,1074.2 513.8,1083.3 504.0,1090.0 C494.2,1096.7 483.8,1104.2 474.0,1110.0 C464.2,1115.8 453.0,1119.2 445.0,1125.0 C437.0,1130.8 432.5,1138.3 426.0,1145.0 C419.5,1151.7 414.2,1160.0 406.0,1165.0 C397.8,1170.0 386.8,1175.0 377.0,1175.0 C367.2,1175.0 356.8,1170.0 347.0,1165.0 C337.2,1160.0 327.5,1151.7 318.0,1145.0 C308.5,1138.3 300.5,1131.7 290.0,1125.0 C279.5,1118.3 265.8,1113.3 255.0,1105.0 C244.2,1096.7 231.7,1086.7 225.0,1075.0 C218.3,1063.3 215.8,1047.5 215.0,1035.0Z" fill="#C85838"/>
<path d="M557.0,940.0 C562.0,927.0 569.5,926.7 580.0,922.0 C590.5,917.3 605.8,912.3 620.0,912.0 C634.2,911.7 651.7,914.5 665.0,920.0 C678.3,925.5 691.8,933.3 700.0,945.0 C708.2,956.7 712.7,975.8 714.0,990.0 C715.3,1004.2 713.3,1018.7 708.0,1030.0 C702.7,1041.3 693.3,1051.0 682.0,1058.0 C670.7,1065.0 651.7,1069.7 640.0,1072.0 C628.3,1074.3 622.0,1074.0 612.0,1072.0 C602.0,1070.0 588.7,1064.5 580.0,1060.0 C571.3,1055.5 565.0,1055.0 560.0,1045.0 C555.0,1035.0 550.5,1017.5 550.0,1000.0 C549.5,982.5 552.0,953.0 557.0,940.0Z" fill="#C4543C"/>
<path d="M705.0,962.0 C710.2,954.5 723.0,954.0 735.0,955.0 C747.0,956.0 763.7,962.2 777.0,968.0 C790.3,973.8 805.3,982.5 815.0,990.0 C824.7,997.5 835.8,1003.8 835.0,1013.0 C834.2,1022.2 820.8,1036.3 810.0,1045.0 C799.2,1053.7 783.3,1059.2 770.0,1065.0 C756.7,1070.8 740.8,1077.5 730.0,1080.0 C719.2,1082.5 710.0,1086.7 705.0,1080.0 C700.0,1073.3 700.2,1053.3 700.0,1040.0 C699.8,1026.7 703.2,1013.0 704.0,1000.0 C704.8,987.0 699.8,969.5 705.0,962.0Z" fill="#7C3058"/>
<ellipse cx="440" cy="1040" rx="26" ry="42" fill="#D8743C" opacity="0.75"/>
<ellipse cx="560" cy="795" rx="70" ry="22" fill="#FFF4D0"/>
</g></g></g></g>
<g id="g3src" filter="url(#speck)">
<path d="M284.0,690.0 C284.0,682.7 284.0,670.7 286.0,662.0 C288.0,653.3 291.8,646.0 296.0,638.0 C300.2,630.0 305.7,621.0 311.0,614.0 C316.3,607.0 322.0,602.0 328.0,596.0 C334.0,590.0 340.5,583.5 347.0,578.0 C353.5,572.5 358.8,568.2 367.0,563.0 C375.2,557.8 386.2,551.7 396.0,547.0 C405.8,542.3 414.5,539.3 426.0,535.0 C437.5,530.7 452.0,524.5 465.0,521.0 C478.0,517.5 491.0,515.7 504.0,514.0 C517.0,512.3 527.2,510.5 543.0,511.0 C558.8,511.5 584.8,514.0 599.0,517.0 C613.2,520.0 618.3,522.7 628.0,529.0 C637.7,535.3 648.8,546.8 657.0,555.0 C665.2,563.2 670.3,569.3 677.0,578.0 C683.7,586.7 691.2,599.7 697.0,607.0 C702.8,614.3 708.0,615.0 712.0,622.0 C716.0,629.0 717.0,639.0 721.0,649.0 C725.0,659.0 730.2,671.7 736.0,682.0 C741.8,692.3 747.8,702.8 756.0,711.0 C764.2,719.2 776.8,724.3 785.0,731.0 C793.2,737.7 798.5,742.2 805.0,751.0 C811.5,759.8 819.2,774.8 824.0,784.0 C828.8,793.2 835.3,797.8 834.0,806.0 C832.7,814.2 823.3,826.5 816.0,833.0 C808.7,839.5 799.3,842.0 790.0,845.0 C780.7,848.0 768.3,848.3 760.0,851.0 C751.7,853.7 745.2,856.2 740.0,861.0 C734.8,865.8 729.7,872.7 729.0,880.0 C728.3,887.3 732.3,896.7 736.0,905.0 C739.7,913.3 745.2,922.5 751.0,930.0 C756.8,937.5 764.3,943.3 771.0,950.0 C777.7,956.7 785.2,963.3 791.0,970.0 C796.8,976.7 802.3,982.8 806.0,990.0 C809.7,997.2 814.7,1005.5 813.0,1013.0 C811.3,1020.5 804.8,1028.5 796.0,1035.0 C787.2,1041.5 772.3,1047.5 760.0,1052.0 C747.7,1056.5 733.7,1059.7 722.0,1062.0 C710.3,1064.3 702.0,1065.0 690.0,1066.0 C678.0,1067.0 663.0,1067.7 650.0,1068.0 C637.0,1068.3 623.7,1069.0 612.0,1068.0 C600.3,1067.0 589.2,1062.5 580.0,1062.0 C570.8,1061.5 564.8,1064.2 557.0,1065.0 C549.2,1065.8 541.8,1064.5 533.0,1067.0 C524.2,1069.5 513.8,1075.3 504.0,1080.0 C494.2,1084.7 483.8,1090.5 474.0,1095.0 C464.2,1099.5 453.0,1102.2 445.0,1107.0 C437.0,1111.8 432.5,1118.7 426.0,1124.0 C419.5,1129.3 414.2,1134.7 406.0,1139.0 C397.8,1143.3 386.8,1150.3 377.0,1150.0 C367.2,1149.7 356.8,1142.3 347.0,1137.0 C337.2,1131.7 326.2,1123.8 318.0,1118.0 C309.8,1112.2 306.2,1106.5 298.0,1102.0 C289.8,1097.5 277.0,1096.2 269.0,1091.0 C261.0,1085.8 254.7,1080.3 250.0,1071.0 C245.3,1061.7 241.7,1044.3 241.0,1035.0 C240.3,1025.7 243.0,1022.2 246.0,1015.0 C249.0,1007.8 253.5,999.2 259.0,992.0 C264.5,984.8 272.5,978.0 279.0,972.0 C285.5,966.0 292.8,963.8 298.0,956.0 C303.2,948.2 307.0,936.8 310.0,925.0 C313.0,913.2 314.0,899.2 316.0,885.0 C318.0,870.8 320.3,854.2 322.0,840.0 C323.7,825.8 326.7,810.8 326.0,800.0 C325.3,789.2 321.2,783.0 318.0,775.0 C314.8,767.0 310.8,759.8 307.0,752.0 C303.2,744.2 298.5,735.7 295.0,728.0 C291.5,720.3 287.8,712.3 286.0,706.0 C284.2,699.7 284.0,697.3 284.0,690.0Z" fill="#FBEFB4" stroke="#FBEFB4" stroke-width="14" stroke-linejoin="round"/>
<g filter="url(#soft)"><g clip-path="url(#silC)"><g filter="url(#blC)">
<rect x="200" y="470" width="680" height="720" fill="#F2B676"/>
<path d="M700.0,690.0 C710.8,685.3 725.8,678.5 735.0,682.0 C744.2,685.5 746.7,702.8 755.0,711.0 C763.3,719.2 776.8,724.5 785.0,731.0 C793.2,737.5 797.5,741.2 804.0,750.0 C810.5,758.8 819.2,774.8 824.0,784.0 C828.8,793.2 834.5,797.3 833.0,805.0 C831.5,812.7 822.2,823.7 815.0,830.0 C807.8,836.3 799.2,839.7 790.0,843.0 C780.8,846.3 768.3,844.7 760.0,850.0 C751.7,855.3 744.2,865.0 740.0,875.0 C735.8,885.0 731.7,898.3 735.0,910.0 C738.3,921.7 751.7,934.2 760.0,945.0 C768.3,955.8 785.0,967.5 785.0,975.0 C785.0,982.5 773.3,992.5 760.0,990.0 C746.7,987.5 719.7,972.5 705.0,960.0 C690.3,947.5 678.8,930.0 672.0,915.0 C665.2,900.0 667.7,884.2 664.0,870.0 C660.3,855.8 654.0,843.3 650.0,830.0 C646.0,816.7 640.0,803.3 640.0,790.0 C640.0,776.7 645.0,763.3 650.0,750.0 C655.0,736.7 661.7,720.0 670.0,710.0 C678.3,700.0 689.2,694.7 700.0,690.0Z" fill="#E49050"/>
<path d="M300.0,760.0 C308.3,749.2 331.7,770.0 345.0,775.0 C358.3,780.0 367.5,785.8 380.0,790.0 C392.5,794.2 405.0,796.7 420.0,800.0 C435.0,803.3 453.3,808.0 470.0,810.0 C486.7,812.0 498.3,812.3 520.0,812.0 C541.7,811.7 580.0,807.5 600.0,808.0 C620.0,808.5 630.0,808.0 640.0,815.0 C650.0,822.0 666.7,844.2 660.0,850.0 C653.3,855.8 633.3,848.3 600.0,850.0 C566.7,851.7 493.3,856.7 460.0,860.0 C426.7,863.3 415.0,863.3 400.0,870.0 C385.0,876.7 381.7,889.2 370.0,900.0 C358.3,910.8 341.7,935.0 330.0,935.0 C318.3,935.0 305.8,915.8 300.0,900.0 C294.2,884.2 295.0,863.3 295.0,840.0 C295.0,816.7 291.7,770.8 300.0,760.0Z" fill="#ECA864"/>
<path d="M400.0,700.0 C405.0,688.8 423.3,677.2 440.0,668.0 C456.7,658.8 480.0,649.7 500.0,645.0 C520.0,640.3 540.0,638.3 560.0,640.0 C580.0,641.7 605.0,646.7 620.0,655.0 C635.0,663.3 646.7,677.5 650.0,690.0 C653.3,702.5 646.7,718.3 640.0,730.0 C633.3,741.7 623.3,752.5 610.0,760.0 C596.7,767.5 578.3,772.5 560.0,775.0 C541.7,777.5 518.3,777.5 500.0,775.0 C481.7,772.5 465.0,766.7 450.0,760.0 C435.0,753.3 418.3,745.0 410.0,735.0 C401.7,725.0 395.0,711.2 400.0,700.0Z" fill="#DA7A44"/>
<path d="M250.0,700.0 C245.0,685.0 250.8,656.7 255.0,640.0 C259.2,623.3 267.5,611.7 275.0,600.0 C282.5,588.3 290.8,579.2 300.0,570.0 C309.2,560.8 320.0,552.5 330.0,545.0 C340.0,537.5 349.0,531.7 360.0,525.0 C371.0,518.3 382.7,510.8 396.0,505.0 C409.3,499.2 422.7,494.2 440.0,490.0 C457.3,485.8 480.0,482.0 500.0,480.0 C520.0,478.0 540.0,476.3 560.0,478.0 C580.0,479.7 603.3,483.8 620.0,490.0 C636.7,496.2 648.3,505.8 660.0,515.0 C671.7,524.2 680.8,534.2 690.0,545.0 C699.2,555.8 707.5,568.3 715.0,580.0 C722.5,591.7 730.0,603.3 735.0,615.0 C740.0,626.7 743.3,639.2 745.0,650.0 C746.7,660.8 749.8,672.0 745.0,680.0 C740.2,688.0 731.8,694.3 716.0,698.0 C700.2,701.7 669.3,698.3 650.0,702.0 C630.7,705.7 618.3,713.7 600.0,720.0 C581.7,726.3 561.7,739.7 540.0,740.0 C518.3,740.3 488.3,727.3 470.0,722.0 C451.7,716.7 443.3,708.3 430.0,708.0 C416.7,707.7 402.5,714.7 390.0,720.0 C377.5,725.3 363.7,733.0 355.0,740.0 C346.3,747.0 340.5,752.0 338.0,762.0 C335.5,772.0 343.0,793.7 340.0,800.0 C337.0,806.3 326.7,806.7 320.0,800.0 C313.3,793.3 305.8,771.7 300.0,760.0 C294.2,748.3 293.3,740.0 285.0,730.0 C276.7,720.0 255.0,715.0 250.0,700.0Z" fill="#D66A30"/>
<path d="M640.0,700.0 C652.5,690.0 684.2,691.7 700.0,690.0 C715.8,688.3 723.3,686.3 735.0,690.0 C746.7,693.7 757.5,702.8 770.0,712.0 C782.5,721.2 800.0,732.0 810.0,745.0 C820.0,758.0 828.3,775.8 830.0,790.0 C831.7,804.2 828.3,820.8 820.0,830.0 C811.7,839.2 793.3,841.7 780.0,845.0 C766.7,848.3 753.3,849.2 740.0,850.0 C726.7,850.8 712.5,851.7 700.0,850.0 C687.5,848.3 675.0,848.3 665.0,840.0 C655.0,831.7 646.7,815.0 640.0,800.0 C633.3,785.0 625.0,766.7 625.0,750.0 C625.0,733.3 627.5,710.0 640.0,700.0Z" fill="#E49050"/>
<path d="M738,698 C772,716 812,748 832,806" fill="none" stroke="#7A3060" stroke-width="30" stroke-linecap="round"/>
<ellipse cx="752" cy="818" rx="34" ry="17" transform="rotate(-12 752 818)" fill="#7A3060"/>
<path d="M445.0,700.0 C448.3,691.2 459.2,679.5 470.0,672.0 C480.8,664.5 495.0,658.7 510.0,655.0 C525.0,651.3 543.3,648.3 560.0,650.0 C576.7,651.7 597.0,658.3 610.0,665.0 C623.0,671.7 634.7,680.8 638.0,690.0 C641.3,699.2 636.3,710.8 630.0,720.0 C623.7,729.2 611.7,738.3 600.0,745.0 C588.3,751.7 573.3,757.2 560.0,760.0 C546.7,762.8 533.3,763.7 520.0,762.0 C506.7,760.3 491.7,756.2 480.0,750.0 C468.3,743.8 455.8,733.3 450.0,725.0 C444.2,716.7 441.7,708.8 445.0,700.0Z" fill="#D4682E"/>
<path d="M452,755 Q438,800 452,842 Q462,866 478,880" fill="none" stroke="#F4D090" stroke-width="18" stroke-linecap="round"/>
<path d="M345.0,900.0 C347.8,890.3 353.7,872.8 362.0,862.0 C370.3,851.2 382.0,842.3 395.0,835.0 C408.0,827.7 422.5,821.8 440.0,818.0 C457.5,814.2 480.0,813.3 500.0,812.0 C520.0,810.7 541.7,809.7 560.0,810.0 C578.3,810.3 595.8,811.0 610.0,814.0 C624.2,817.0 635.3,820.3 645.0,828.0 C654.7,835.7 663.5,845.3 668.0,860.0 C672.5,874.7 676.7,902.7 672.0,916.0 C667.3,929.3 655.5,934.8 640.0,940.0 C624.5,945.2 594.7,947.0 579.0,947.0 C563.3,947.0 562.5,942.0 546.0,940.0 C529.5,938.0 501.0,936.3 480.0,935.0 C459.0,933.7 438.3,932.8 420.0,932.0 C401.7,931.2 382.5,932.0 370.0,930.0 C357.5,928.0 349.2,925.0 345.0,920.0 C340.8,915.0 342.2,909.7 345.0,900.0Z" fill="#DC742C"/>
<path d="M215.0,1035.0 C214.2,1022.5 215.8,1010.0 220.0,1000.0 C224.2,990.0 232.0,982.5 240.0,975.0 C248.0,967.5 258.3,960.0 268.0,955.0 C277.7,950.0 289.7,948.7 298.0,945.0 C306.3,941.3 311.0,936.3 318.0,933.0 C325.0,929.7 331.8,926.8 340.0,925.0 C348.2,923.2 356.0,922.5 367.0,922.0 C378.0,921.5 393.0,921.7 406.0,922.0 C419.0,922.3 429.3,922.7 445.0,924.0 C460.7,925.3 484.2,928.2 500.0,930.0 C515.8,931.8 530.5,931.7 540.0,935.0 C549.5,938.3 552.8,939.2 557.0,950.0 C561.2,960.8 564.5,980.8 565.0,1000.0 C565.5,1019.2 565.3,1053.3 560.0,1065.0 C554.7,1076.7 542.3,1065.8 533.0,1070.0 C523.7,1074.2 513.8,1083.3 504.0,1090.0 C494.2,1096.7 483.8,1104.2 474.0,1110.0 C464.2,1115.8 453.0,1119.2 445.0,1125.0 C437.0,1130.8 432.5,1138.3 426.0,1145.0 C419.5,1151.7 414.2,1160.0 406.0,1165.0 C397.8,1170.0 386.8,1175.0 377.0,1175.0 C367.2,1175.0 356.8,1170.0 347.0,1165.0 C337.2,1160.0 327.5,1151.7 318.0,1145.0 C308.5,1138.3 300.5,1131.7 290.0,1125.0 C279.5,1118.3 265.8,1113.3 255.0,1105.0 C244.2,1096.7 231.7,1086.7 225.0,1075.0 C218.3,1063.3 215.8,1047.5 215.0,1035.0Z" fill="#E07C2C"/>
<path d="M557.0,940.0 C562.0,927.0 569.5,926.7 580.0,922.0 C590.5,917.3 605.8,912.3 620.0,912.0 C634.2,911.7 651.7,914.5 665.0,920.0 C678.3,925.5 691.8,933.3 700.0,945.0 C708.2,956.7 712.7,975.8 714.0,990.0 C715.3,1004.2 713.3,1018.7 708.0,1030.0 C702.7,1041.3 693.3,1051.0 682.0,1058.0 C670.7,1065.0 651.7,1069.7 640.0,1072.0 C628.3,1074.3 622.0,1074.0 612.0,1072.0 C602.0,1070.0 588.7,1064.5 580.0,1060.0 C571.3,1055.5 565.0,1055.0 560.0,1045.0 C555.0,1035.0 550.5,1017.5 550.0,1000.0 C549.5,982.5 552.0,953.0 557.0,940.0Z" fill="#DA702E"/>
<path d="M705.0,962.0 C710.2,954.5 723.0,954.0 735.0,955.0 C747.0,956.0 763.7,962.2 777.0,968.0 C790.3,973.8 805.3,982.5 815.0,990.0 C824.7,997.5 835.8,1003.8 835.0,1013.0 C834.2,1022.2 820.8,1036.3 810.0,1045.0 C799.2,1053.7 783.3,1059.2 770.0,1065.0 C756.7,1070.8 740.8,1077.5 730.0,1080.0 C719.2,1082.5 710.0,1086.7 705.0,1080.0 C700.0,1073.3 700.2,1053.3 700.0,1040.0 C699.8,1026.7 703.2,1013.0 704.0,1000.0 C704.8,987.0 699.8,969.5 705.0,962.0Z" fill="#D66C30"/>
<ellipse cx="440" cy="1040" rx="26" ry="42" fill="#E8903C" opacity="0.75"/>
<ellipse cx="560" cy="795" rx="70" ry="22" fill="#FFF4D0"/>
</g></g></g></g>
</defs>
<use href="#g1src" transform="translate(91.85,1861.16) scale(0.2361,0.2225)"/>
<use href="#g2src" transform="translate(94.36,2044.97) scale(0.2335,0.2131)"/>
<use href="#g3src" transform="translate(90.71,2198.22) scale(0.2379,0.2276)"/>
<defs><g id="umapAsrc" filter="url(#speckA)"><g filter="url(#soft)"><g clip-path="url(#silA)"><g filter="url(#blA)">
<rect x="150" y="55" width="330" height="350" fill="#ECE2E6"/>
<path d="M352.0,165.0 C357.8,162.2 374.2,164.8 385.0,165.0 C395.8,165.2 410.2,162.7 417.0,166.0 C423.8,169.3 423.8,177.7 426.0,185.0 C428.2,192.3 429.8,200.8 430.0,210.0 C430.2,219.2 431.2,234.3 427.0,240.0 C422.8,245.7 412.5,244.7 405.0,244.0 C397.5,243.3 388.5,239.7 382.0,236.0 C375.5,232.3 370.3,228.0 366.0,222.0 C361.7,216.0 358.7,206.7 356.0,200.0 C353.3,193.3 350.7,187.8 350.0,182.0 C349.3,176.2 346.2,167.8 352.0,165.0Z" fill="#F6D2AA"/>
<path d="M198.0,185.0 C204.0,176.7 229.3,187.5 240.0,190.0 C250.7,192.5 258.0,190.8 262.0,200.0 C266.0,209.2 264.0,231.3 264.0,245.0 C264.0,258.7 267.7,275.5 262.0,282.0 C256.3,288.5 238.7,285.7 230.0,284.0 C221.3,282.3 214.3,279.3 210.0,272.0 C205.7,264.7 206.0,254.5 204.0,240.0 C202.0,225.5 192.0,193.3 198.0,185.0Z" fill="#DCD0E8"/>
<path d="M392.0,242.0 C395.3,239.2 405.0,243.3 410.0,248.0 C415.0,252.7 419.0,262.7 422.0,270.0 C425.0,277.3 431.3,289.2 428.0,292.0 C424.7,294.8 408.3,291.5 402.0,287.0 C395.7,282.5 391.7,272.5 390.0,265.0 C388.3,257.5 388.7,244.8 392.0,242.0Z" fill="#F4C6CC"/>
<path d="M210.0,192.0 C212.7,190.3 219.0,191.2 222.0,195.0 C225.0,198.8 225.8,207.5 228.0,215.0 C230.2,222.5 230.0,235.0 235.0,240.0 C240.0,245.0 253.5,240.3 258.0,245.0 C262.5,249.7 263.3,262.8 262.0,268.0 C260.7,273.2 255.3,275.3 250.0,276.0 C244.7,276.7 235.3,275.5 230.0,272.0 C224.7,268.5 221.0,262.0 218.0,255.0 C215.0,248.0 214.0,238.3 212.0,230.0 C210.0,221.7 206.3,211.3 206.0,205.0 C205.7,198.7 207.3,193.7 210.0,192.0Z" fill="#9AA8EA"/>
<path d="M181.3,167.5 C180.0,160.2 180.8,148.3 182.4,140.0 C184.1,131.8 187.0,124.8 191.2,118.0 C195.4,111.2 201.3,104.6 207.7,99.3 C214.1,94.0 222.0,90.0 229.7,86.1 C237.4,82.3 248.1,75.5 253.9,76.2 C259.8,77.0 261.6,85.0 264.9,90.5 C268.2,96.0 271.2,102.5 273.7,109.2 C276.3,116.0 280.7,124.3 280.3,131.2 C280.0,138.2 274.1,145.0 271.5,151.0 C269.0,157.1 267.3,162.0 264.9,167.5 C262.5,173.0 262.2,179.4 257.2,184.0 C252.3,188.6 243.5,193.2 235.2,195.0 C227.0,196.9 215.2,196.9 207.7,195.0 C200.2,193.2 194.5,188.6 190.1,184.0 C185.7,179.4 182.6,174.9 181.3,167.5Z" fill="#F07AA0"/>
<path d="M243.7,77.9 C245.5,73.5 258.7,71.1 267.9,69.1 C277.0,67.1 288.0,66.4 298.7,65.8 C309.3,65.3 322.1,65.1 331.7,65.8 C341.2,66.5 348.2,67.5 355.9,70.2 C363.6,73.0 375.3,77.4 377.9,82.3 C380.4,87.3 373.5,93.7 371.3,99.9 C369.1,106.1 366.9,113.1 364.7,119.7 C362.5,126.3 365.0,136.9 358.1,139.5 C351.1,142.1 333.5,136.0 322.9,135.1 C312.2,134.2 302.3,133.1 294.3,134.0 C286.2,134.9 278.9,143.5 274.5,140.6 C270.1,137.7 270.8,123.9 267.9,116.4 C264.9,108.9 260.9,101.9 256.9,95.5 C252.8,89.1 241.8,82.3 243.7,77.9Z" fill="#22548C"/>
<path d="M368.8,77.3 C372.1,75.5 377.6,82.1 382.0,86.1 C386.4,90.2 391.0,95.9 395.2,101.5 C399.4,107.2 403.8,113.3 407.3,120.2 C410.8,127.2 413.9,134.7 416.1,143.3 C418.3,152.0 423.3,166.8 420.5,171.9 C417.8,177.1 407.9,175.2 399.6,174.1 C391.4,173.0 378.7,169.0 371.0,165.3 C363.3,161.7 357.1,156.9 353.4,152.1 C349.8,147.4 348.7,142.6 349.0,136.7 C349.4,130.9 353.4,123.5 355.6,116.9 C357.8,110.3 360.0,103.7 362.2,97.1 C364.4,90.5 365.5,79.2 368.8,77.3Z" fill="#F0A428"/>
<path d="M257.2,159.7 C257.9,153.6 260.8,145.0 266.0,139.9 C271.1,134.8 278.8,131.1 288.0,128.9 C297.1,126.7 309.6,126.0 321.0,126.7 C332.3,127.4 349.2,129.3 356.2,133.3 C363.1,137.3 361.8,145.0 362.8,150.9 C363.7,156.8 363.9,163.0 361.7,168.5 C359.5,174.0 356.0,178.9 349.6,183.9 C343.1,188.8 331.6,195.4 323.2,198.2 C314.7,200.9 306.3,201.7 299.0,200.4 C291.6,199.1 285.4,194.5 279.2,190.5 C272.9,186.5 265.2,181.3 261.6,176.2 C257.9,171.1 256.4,165.7 257.2,159.7Z" fill="#7CD22E"/>
<path d="M280.7,198.8 C289.9,193.3 327.1,193.3 341.2,194.4 C355.3,195.5 361.8,200.6 365.4,205.4 C369.1,210.2 369.1,220.1 363.2,223.0 C357.4,225.9 343.1,222.3 330.2,223.0 C317.4,223.7 294.5,231.4 286.2,227.4 C278.0,223.4 271.5,204.3 280.7,198.8Z" fill="#F4ECEC"/>
<path d="M256.9,187.8 C259.1,184.3 264.6,181.5 267.9,183.4 C271.2,185.2 274.9,192.2 276.8,198.8 C278.6,205.4 278.2,216.4 278.9,223.0 C279.7,229.6 282.6,235.4 281.1,238.4 C279.7,241.3 273.4,243.1 270.1,240.6 C266.8,238.0 263.9,229.0 261.4,223.0 C258.8,216.9 255.5,210.1 254.8,204.3 C254.0,198.4 254.8,191.2 256.9,187.8Z" fill="#3A3A3A"/>
<path d="M252.7,249.0 C254.8,242.8 259.7,232.8 269.4,228.3 C279.2,223.7 297.2,223.0 311.1,222.0 C325.0,220.9 341.7,219.2 352.8,222.0 C363.9,224.8 373.3,230.6 377.8,238.6 C382.3,246.6 382.2,262.0 379.8,269.9 C377.3,277.9 373.0,284.5 363.2,286.6 C353.5,288.6 335.3,284.1 321.4,282.4 C307.6,280.6 290.6,278.8 279.9,276.0 C269.1,273.2 261.4,270.3 256.9,265.8 C252.4,261.3 250.6,255.3 252.7,249.0Z" fill="#B46A78"/>
<path d="M154.6,327.0 C154.6,320.9 155.0,311.9 160.1,306.1 C165.2,300.2 177.2,295.6 185.4,291.8 C193.7,287.9 201.0,285.5 209.6,283.0 C218.2,280.4 227.9,276.9 237.1,276.4 C246.3,275.8 259.1,276.0 264.6,279.7 C270.1,283.3 269.7,290.7 270.1,298.4 C270.5,306.1 269.2,319.4 266.8,325.9 C264.4,332.3 261.7,333.7 255.8,336.9 C249.9,340.0 240.2,342.5 231.6,344.6 C223.0,346.6 212.3,347.5 204.1,349.0 C195.8,350.4 189.4,354.5 182.1,353.4 C174.8,352.3 164.7,346.8 160.1,342.4 C155.5,338.0 154.6,333.0 154.6,327.0Z" fill="#EE5A14"/>
<path d="M185.9,351.0 C187.7,346.3 198.7,342.2 207.9,340.0 C217.1,337.8 231.4,337.3 240.9,337.8 C250.4,338.4 260.0,340.0 265.1,343.3 C270.2,346.6 272.8,352.3 271.7,357.6 C270.6,362.9 264.4,369.0 258.5,375.2 C252.6,381.5 243.8,393.0 236.5,395.0 C229.2,397.0 221.1,391.7 214.5,387.3 C207.9,382.9 201.7,374.7 196.9,368.6 C192.1,362.6 184.1,355.8 185.9,351.0Z" fill="#8C5A2E"/>
<path d="M255.1,298.6 C256.9,292.4 258.0,286.9 263.9,283.2 C269.8,279.6 280.8,276.6 290.3,276.6 C299.8,276.6 314.9,278.6 321.1,283.2 C327.3,287.8 327.3,296.1 327.7,304.1 C328.1,312.2 327.7,324.3 323.3,331.6 C318.9,339.0 309.6,345.2 301.3,348.1 C293.1,351.1 280.8,350.1 273.8,349.2 C266.8,348.3 263.0,347.4 259.5,342.6 C256.0,337.9 253.6,328.0 252.9,320.6 C252.2,313.3 253.3,304.9 255.1,298.6Z" fill="#F5E21E"/>
<path d="M314.3,287.9 C316.5,282.6 319.8,280.2 327.5,278.0 C335.2,275.8 350.5,274.0 360.5,274.7 C370.6,275.5 381.1,278.0 388.0,282.4 C395.0,286.8 400.0,292.3 402.3,301.1 C404.7,309.9 407.1,327.3 402.3,335.2 C397.6,343.1 383.5,346.0 373.7,348.4 C364.0,350.8 353.2,350.8 344.0,349.5 C334.9,348.2 323.7,347.3 318.7,340.7 C313.8,334.1 315.1,318.7 314.3,309.9 C313.6,301.1 312.1,293.2 314.3,287.9Z" fill="#4A90E0"/>
<path d="M389.7,285.9 C392.4,280.2 398.8,278.2 404.0,278.2 C409.1,278.2 414.8,282.0 420.5,285.9 C426.1,289.8 432.6,296.2 438.1,301.3 C443.6,306.4 453.5,312.3 453.5,316.7 C453.5,321.1 444.5,324.4 438.1,327.7 C431.6,331.0 422.5,335.0 415.0,336.5 C407.4,338.0 397.5,340.5 393.0,336.5 C388.4,332.5 388.0,320.7 387.5,312.3 C386.9,303.9 386.9,291.6 389.7,285.9Z" fill="#D0001C"/>
<path d="M417,174 C432,178 452,196 458,217 C452,228 436,234 416,233" fill="#C6D6AE" stroke="#3E7210" stroke-width="9" stroke-linecap="round"/>
<ellipse cx="242" cy="258" rx="13" ry="11" fill="#5A70D8"/>
</g></g></g></g></defs>
<use href="#umapAsrc"/>
<use href="#umapAsrc" opacity="0.9" transform="translate(1494.72,-41.01) scale(0.5881,0.5996)"/>
<use href="#umapAsrc" opacity="0.9" transform="translate(1491.64,163.55) scale(0.5922,0.6030)"/>
<text x="13.2" y="70.0" font-size="44.51" font-weight="bold" textLength="40.0" lengthAdjust="spacingAndGlyphs">A.</text>
<text x="618.9" y="71.1" font-size="44.51" font-weight="bold" textLength="34.3" lengthAdjust="spacingAndGlyphs">B.</text>
<text x="13.4" y="544.0" font-size="44.51" font-weight="bold" textLength="37.0" lengthAdjust="spacingAndGlyphs">C.</text>
<text x="42.0" y="1283.5" font-size="44.51" font-weight="bold" textLength="38.0" lengthAdjust="spacingAndGlyphs">D.</text>
<text x="581.5" y="1282.3" font-size="44.51" font-weight="bold" textLength="33.3" lengthAdjust="spacingAndGlyphs">E.</text>
<text x="1109.0" y="543.0" font-size="44.51" font-weight="bold" textLength="29.0" lengthAdjust="spacingAndGlyphs">F.</text>
<text x="0.5" y="1934.6" font-size="44.51" font-weight="bold" textLength="41.0" lengthAdjust="spacingAndGlyphs">G.</text>
<text x="392.8" y="1935.0" font-size="44.51" font-weight="bold" textLength="40.7" lengthAdjust="spacingAndGlyphs">H.</text>
<text x="1073.5" y="1920.6" font-size="44.51" font-weight="bold" textLength="21.5" lengthAdjust="spacingAndGlyphs">I.</text>
<rect x="743.0" y="178.3" width="13.2" height="203.0" fill="#4F9BF4" stroke="#000" stroke-width="2.2"/>
<line x1="749.6" y1="178.3" x2="749.6" y2="152.3" stroke="#000" stroke-width="3"/>
<line x1="745.6" y1="152.3" x2="753.6" y2="152.3" stroke="#000" stroke-width="3"/>
<circle cx="745.1" cy="93.6" r="2.3" fill="none" stroke="#000" stroke-width="1.4"/>
<circle cx="748.7" cy="105.7" r="2.3" fill="none" stroke="#000" stroke-width="1.4"/>
<circle cx="752.3" cy="143.7" r="2.3" fill="none" stroke="#000" stroke-width="1.4"/>
<circle cx="746.0" cy="173.9" r="2.3" fill="none" stroke="#000" stroke-width="1.4"/>
<circle cx="749.6" cy="225.8" r="2.3" fill="none" stroke="#000" stroke-width="1.4"/>
<circle cx="753.2" cy="229.2" r="2.3" fill="none" stroke="#000" stroke-width="1.4"/>
<circle cx="746.9" cy="266.4" r="2.3" fill="none" stroke="#000" stroke-width="1.4"/>
<rect x="758.6" y="241.3" width="13.2" height="140.0" fill="#E87272" stroke="#000" stroke-width="2.2"/>
<line x1="765.2" y1="241.3" x2="765.2" y2="221.5" stroke="#000" stroke-width="3"/>
<line x1="761.2" y1="221.5" x2="769.2" y2="221.5" stroke="#000" stroke-width="3"/>
<circle cx="760.7" cy="148.0" r="2.3" fill="none" stroke="#000" stroke-width="1.4"/>
<circle cx="764.3" cy="168.8" r="2.3" fill="none" stroke="#000" stroke-width="1.4"/>
<circle cx="767.9" cy="184.3" r="2.3" fill="none" stroke="#000" stroke-width="1.4"/>
<circle cx="761.6" cy="216.3" r="2.3" fill="none" stroke="#000" stroke-width="1.4"/>
<circle cx="765.2" cy="244.8" r="2.3" fill="none" stroke="#000" stroke-width="1.4"/>
<circle cx="768.8" cy="241.3" r="2.3" fill="none" stroke="#000" stroke-width="1.4"/>
<circle cx="762.5" cy="260.3" r="2.3" fill="none" stroke="#000" stroke-width="1.4"/>
<circle cx="766.1" cy="281.9" r="2.3" fill="none" stroke="#000" stroke-width="1.4"/>
<circle cx="769.7" cy="303.5" r="2.3" fill="none" stroke="#000" stroke-width="1.4"/>
<circle cx="763.4" cy="348.5" r="2.3" fill="none" stroke="#000" stroke-width="1.4"/>
<text x="757.3" y="403.0" font-size="19.76" font-weight="bold" text-anchor="middle">1</text>
<rect x="790.1" y="251.7" width="13.2" height="129.6" fill="#4F9BF4" stroke="#000" stroke-width="2.2"/>
<line x1="796.8" y1="251.7" x2="796.8" y2="232.7" stroke="#000" stroke-width="3"/>
<line x1="792.8" y1="232.7" x2="800.8" y2="232.7" stroke="#000" stroke-width="3"/>
<circle cx="792.2" cy="216.3" r="2.3" fill="none" stroke="#000" stroke-width="1.4"/>
<circle cx="795.9" cy="206.8" r="2.3" fill="none" stroke="#000" stroke-width="1.4"/>
<circle cx="799.5" cy="224.9" r="2.3" fill="none" stroke="#000" stroke-width="1.4"/>
<circle cx="793.1" cy="233.6" r="2.3" fill="none" stroke="#000" stroke-width="1.4"/>
<circle cx="796.8" cy="303.5" r="2.3" fill="none" stroke="#000" stroke-width="1.4"/>
<circle cx="800.4" cy="330.3" r="2.3" fill="none" stroke="#000" stroke-width="1.4"/>
<circle cx="794.0" cy="251.7" r="2.3" fill="none" stroke="#000" stroke-width="1.4"/>
<rect x="805.7" y="244.8" width="13.2" height="136.5" fill="#E87272" stroke="#000" stroke-width="2.2"/>
<line x1="812.3" y1="244.8" x2="812.3" y2="223.2" stroke="#000" stroke-width="3"/>
<line x1="808.3" y1="223.2" x2="816.3" y2="223.2" stroke="#000" stroke-width="3"/>
<circle cx="807.8" cy="120.4" r="2.3" fill="none" stroke="#000" stroke-width="1.4"/>
<circle cx="811.4" cy="179.1" r="2.3" fill="none" stroke="#000" stroke-width="1.4"/>
<circle cx="815.0" cy="182.6" r="2.3" fill="none" stroke="#000" stroke-width="1.4"/>
<circle cx="808.7" cy="216.3" r="2.3" fill="none" stroke="#000" stroke-width="1.4"/>
<circle cx="812.3" cy="266.4" r="2.3" fill="none" stroke="#000" stroke-width="1.4"/>
<circle cx="815.9" cy="267.3" r="2.3" fill="none" stroke="#000" stroke-width="1.4"/>
<circle cx="809.6" cy="286.3" r="2.3" fill="none" stroke="#000" stroke-width="1.4"/>
<circle cx="813.2" cy="298.4" r="2.3" fill="none" stroke="#000" stroke-width="1.4"/>
<circle cx="816.8" cy="330.3" r="2.3" fill="none" stroke="#000" stroke-width="1.4"/>
<circle cx="810.5" cy="247.4" r="2.3" fill="none" stroke="#000" stroke-width="1.4"/>
<text x="804.4" y="403.0" font-size="19.76" font-weight="bold" text-anchor="middle">2</text>
<rect x="837.3" y="255.2" width="13.2" height="126.1" fill="#4F9BF4" stroke="#000" stroke-width="2.2"/>
<line x1="843.9" y1="255.2" x2="843.9" y2="234.4" stroke="#000" stroke-width="3"/>
<line x1="839.9" y1="234.4" x2="847.9" y2="234.4" stroke="#000" stroke-width="3"/>
<circle cx="839.4" cy="165.3" r="2.3" fill="none" stroke="#000" stroke-width="1.4"/>
<circle cx="843.0" cy="197.3" r="2.3" fill="none" stroke="#000" stroke-width="1.4"/>
<circle cx="846.6" cy="267.3" r="2.3" fill="none" stroke="#000" stroke-width="1.4"/>
<circle cx="840.3" cy="271.6" r="2.3" fill="none" stroke="#000" stroke-width="1.4"/>
<circle cx="843.9" cy="275.9" r="2.3" fill="none" stroke="#000" stroke-width="1.4"/>
<circle cx="847.5" cy="326.0" r="2.3" fill="none" stroke="#000" stroke-width="1.4"/>
<circle cx="841.2" cy="253.4" r="2.3" fill="none" stroke="#000" stroke-width="1.4"/>
<rect x="852.9" y="285.4" width="13.2" height="95.9" fill="#E87272" stroke="#000" stroke-width="2.2"/>
<line x1="859.5" y1="285.4" x2="859.5" y2="267.3" stroke="#000" stroke-width="3"/>
<line x1="855.5" y1="267.3" x2="863.5" y2="267.3" stroke="#000" stroke-width="3"/>
<circle cx="855.0" cy="205.0" r="2.3" fill="none" stroke="#000" stroke-width="1.4"/>
<circle cx="858.6" cy="218.0" r="2.3" fill="none" stroke="#000" stroke-width="1.4"/>
<circle cx="862.2" cy="236.1" r="2.3" fill="none" stroke="#000" stroke-width="1.4"/>
<circle cx="855.9" cy="280.2" r="2.3" fill="none" stroke="#000" stroke-width="1.4"/>
<circle cx="859.5" cy="313.0" r="2.3" fill="none" stroke="#000" stroke-width="1.4"/>
<circle cx="863.1" cy="342.4" r="2.3" fill="none" stroke="#000" stroke-width="1.4"/>
<circle cx="856.8" cy="345.0" r="2.3" fill="none" stroke="#000" stroke-width="1.4"/>
<circle cx="860.4" cy="269.0" r="2.3" fill="none" stroke="#000" stroke-width="1.4"/>
<circle cx="864.0" cy="290.6" r="2.3" fill="none" stroke="#000" stroke-width="1.4"/>
<circle cx="857.7" cy="303.5" r="2.3" fill="none" stroke="#000" stroke-width="1.4"/>
<text x="851.6" y="403.0" font-size="19.76" font-weight="bold" text-anchor="middle">3</text>
<rect x="884.5" y="304.4" width="13.2" height="76.9" fill="#4F9BF4" stroke="#000" stroke-width="2.2"/>
<line x1="891.1" y1="304.4" x2="891.1" y2="282.8" stroke="#000" stroke-width="3"/>
<line x1="887.1" y1="282.8" x2="895.1" y2="282.8" stroke="#000" stroke-width="3"/>
<circle cx="886.6" cy="192.9" r="2.3" fill="none" stroke="#000" stroke-width="1.4"/>
<circle cx="890.2" cy="275.9" r="2.3" fill="none" stroke="#000" stroke-width="1.4"/>
<circle cx="893.8" cy="331.2" r="2.3" fill="none" stroke="#000" stroke-width="1.4"/>
<circle cx="887.5" cy="338.1" r="2.3" fill="none" stroke="#000" stroke-width="1.4"/>
<circle cx="891.1" cy="331.2" r="2.3" fill="none" stroke="#000" stroke-width="1.4"/>
<circle cx="894.7" cy="325.1" r="2.3" fill="none" stroke="#000" stroke-width="1.4"/>
<circle cx="888.4" cy="335.5" r="2.3" fill="none" stroke="#000" stroke-width="1.4"/>
<rect x="900.0" y="309.6" width="13.2" height="71.7" fill="#E87272" stroke="#000" stroke-width="2.2"/>
<line x1="906.6" y1="309.6" x2="906.6" y2="294.0" stroke="#000" stroke-width="3"/>
<line x1="902.6" y1="294.0" x2="910.6" y2="294.0" stroke="#000" stroke-width="3"/>
<circle cx="902.1" cy="243.9" r="2.3" fill="none" stroke="#000" stroke-width="1.4"/>
<circle cx="905.8" cy="243.9" r="2.3" fill="none" stroke="#000" stroke-width="1.4"/>
<circle cx="909.4" cy="263.8" r="2.3" fill="none" stroke="#000" stroke-width="1.4"/>
<circle cx="903.0" cy="277.6" r="2.3" fill="none" stroke="#000" stroke-width="1.4"/>
<circle cx="906.6" cy="332.1" r="2.3" fill="none" stroke="#000" stroke-width="1.4"/>
<circle cx="910.2" cy="348.5" r="2.3" fill="none" stroke="#000" stroke-width="1.4"/>
<circle cx="903.9" cy="361.4" r="2.3" fill="none" stroke="#000" stroke-width="1.4"/>
<circle cx="907.5" cy="361.4" r="2.3" fill="none" stroke="#000" stroke-width="1.4"/>
<circle cx="911.1" cy="325.1" r="2.3" fill="none" stroke="#000" stroke-width="1.4"/>
<circle cx="904.9" cy="336.4" r="2.3" fill="none" stroke="#000" stroke-width="1.4"/>
<text x="898.8" y="403.0" font-size="19.76" font-weight="bold" text-anchor="middle">4</text>
<rect x="931.6" y="329.5" width="13.2" height="51.8" fill="#4F9BF4" stroke="#000" stroke-width="2.2"/>
<line x1="938.2" y1="329.5" x2="938.2" y2="320.8" stroke="#000" stroke-width="3"/>
<line x1="934.2" y1="320.8" x2="942.2" y2="320.8" stroke="#000" stroke-width="3"/>
<circle cx="933.7" cy="289.7" r="2.3" fill="none" stroke="#000" stroke-width="1.4"/>
<circle cx="937.3" cy="309.6" r="2.3" fill="none" stroke="#000" stroke-width="1.4"/>
<circle cx="940.9" cy="338.1" r="2.3" fill="none" stroke="#000" stroke-width="1.4"/>
<circle cx="934.6" cy="339.8" r="2.3" fill="none" stroke="#000" stroke-width="1.4"/>
<circle cx="938.2" cy="339.0" r="2.3" fill="none" stroke="#000" stroke-width="1.4"/>
<circle cx="941.8" cy="351.1" r="2.3" fill="none" stroke="#000" stroke-width="1.4"/>
<circle cx="935.5" cy="335.5" r="2.3" fill="none" stroke="#000" stroke-width="1.4"/>
<rect x="947.2" y="311.3" width="13.2" height="70.0" fill="#E87272" stroke="#000" stroke-width="2.2"/>
<line x1="953.8" y1="311.3" x2="953.8" y2="299.2" stroke="#000" stroke-width="3"/>
<line x1="949.8" y1="299.2" x2="957.8" y2="299.2" stroke="#000" stroke-width="3"/>
<circle cx="949.3" cy="250.0" r="2.3" fill="none" stroke="#000" stroke-width="1.4"/>
<circle cx="952.9" cy="275.9" r="2.3" fill="none" stroke="#000" stroke-width="1.4"/>
<circle cx="956.5" cy="288.9" r="2.3" fill="none" stroke="#000" stroke-width="1.4"/>
<circle cx="950.2" cy="304.4" r="2.3" fill="none" stroke="#000" stroke-width="1.4"/>
<circle cx="953.8" cy="315.6" r="2.3" fill="none" stroke="#000" stroke-width="1.4"/>
<circle cx="957.4" cy="332.1" r="2.3" fill="none" stroke="#000" stroke-width="1.4"/>
<circle cx="951.1" cy="351.9" r="2.3" fill="none" stroke="#000" stroke-width="1.4"/>
<circle cx="954.7" cy="369.2" r="2.3" fill="none" stroke="#000" stroke-width="1.4"/>
<circle cx="958.3" cy="312.2" r="2.3" fill="none" stroke="#000" stroke-width="1.4"/>
<circle cx="952.0" cy="321.7" r="2.3" fill="none" stroke="#000" stroke-width="1.4"/>
<text x="945.9" y="403.0" font-size="19.76" font-weight="bold" text-anchor="middle">5</text>
<rect x="978.8" y="329.5" width="13.2" height="51.8" fill="#4F9BF4" stroke="#000" stroke-width="2.2"/>
<line x1="985.4" y1="329.5" x2="985.4" y2="319.1" stroke="#000" stroke-width="3"/>
<line x1="981.4" y1="319.1" x2="989.4" y2="319.1" stroke="#000" stroke-width="3"/>
<circle cx="980.9" cy="303.5" r="2.3" fill="none" stroke="#000" stroke-width="1.4"/>
<circle cx="984.5" cy="301.8" r="2.3" fill="none" stroke="#000" stroke-width="1.4"/>
<circle cx="988.1" cy="302.7" r="2.3" fill="none" stroke="#000" stroke-width="1.4"/>
<circle cx="981.8" cy="342.4" r="2.3" fill="none" stroke="#000" stroke-width="1.4"/>
<circle cx="985.4" cy="351.9" r="2.3" fill="none" stroke="#000" stroke-width="1.4"/>
<circle cx="989.0" cy="359.7" r="2.3" fill="none" stroke="#000" stroke-width="1.4"/>
<circle cx="982.6" cy="339.8" r="2.3" fill="none" stroke="#000" stroke-width="1.4"/>
<rect x="994.3" y="322.5" width="13.2" height="58.8" fill="#E87272" stroke="#000" stroke-width="2.2"/>
<line x1="1000.9" y1="322.5" x2="1000.9" y2="310.5" stroke="#000" stroke-width="3"/>
<line x1="996.9" y1="310.5" x2="1004.9" y2="310.5" stroke="#000" stroke-width="3"/>
<circle cx="996.4" cy="267.3" r="2.3" fill="none" stroke="#000" stroke-width="1.4"/>
<circle cx="1000.0" cy="288.9" r="2.3" fill="none" stroke="#000" stroke-width="1.4"/>
<circle cx="1003.6" cy="295.8" r="2.3" fill="none" stroke="#000" stroke-width="1.4"/>
<circle cx="997.3" cy="313.0" r="2.3" fill="none" stroke="#000" stroke-width="1.4"/>
<circle cx="1000.9" cy="322.5" r="2.3" fill="none" stroke="#000" stroke-width="1.4"/>
<circle cx="1004.5" cy="367.5" r="2.3" fill="none" stroke="#000" stroke-width="1.4"/>
<circle cx="998.2" cy="372.7" r="2.3" fill="none" stroke="#000" stroke-width="1.4"/>
<circle cx="1001.8" cy="307.9" r="2.3" fill="none" stroke="#000" stroke-width="1.4"/>
<circle cx="1005.4" cy="329.5" r="2.3" fill="none" stroke="#000" stroke-width="1.4"/>
<circle cx="999.1" cy="359.7" r="2.3" fill="none" stroke="#000" stroke-width="1.4"/>
<text x="993.0" y="403.0" font-size="19.76" font-weight="bold" text-anchor="middle">6</text>
<rect x="1025.9" y="327.7" width="13.2" height="53.6" fill="#4F9BF4" stroke="#000" stroke-width="2.2"/>
<line x1="1032.5" y1="327.7" x2="1032.5" y2="322.5" stroke="#000" stroke-width="3"/>
<line x1="1028.5" y1="322.5" x2="1036.5" y2="322.5" stroke="#000" stroke-width="3"/>
<circle cx="1028.0" cy="307.9" r="2.3" fill="none" stroke="#000" stroke-width="1.4"/>
<circle cx="1031.6" cy="320.0" r="2.3" fill="none" stroke="#000" stroke-width="1.4"/>
<circle cx="1035.2" cy="325.1" r="2.3" fill="none" stroke="#000" stroke-width="1.4"/>
<circle cx="1028.9" cy="329.5" r="2.3" fill="none" stroke="#000" stroke-width="1.4"/>
<circle cx="1032.5" cy="338.1" r="2.3" fill="none" stroke="#000" stroke-width="1.4"/>
<circle cx="1036.1" cy="332.9" r="2.3" fill="none" stroke="#000" stroke-width="1.4"/>
<circle cx="1029.8" cy="339.0" r="2.3" fill="none" stroke="#000" stroke-width="1.4"/>
<rect x="1041.5" y="316.5" width="13.2" height="64.8" fill="#E87272" stroke="#000" stroke-width="2.2"/>
<line x1="1048.1" y1="316.5" x2="1048.1" y2="305.3" stroke="#000" stroke-width="3"/>
<line x1="1044.1" y1="305.3" x2="1052.1" y2="305.3" stroke="#000" stroke-width="3"/>
<circle cx="1043.6" cy="219.7" r="2.3" fill="none" stroke="#000" stroke-width="1.4"/>
<circle cx="1047.2" cy="309.6" r="2.3" fill="none" stroke="#000" stroke-width="1.4"/>
<circle cx="1050.8" cy="313.0" r="2.3" fill="none" stroke="#000" stroke-width="1.4"/>
<circle cx="1044.5" cy="332.1" r="2.3" fill="none" stroke="#000" stroke-width="1.4"/>
<circle cx="1048.1" cy="333.8" r="2.3" fill="none" stroke="#000" stroke-width="1.4"/>
<circle cx="1051.7" cy="342.4" r="2.3" fill="none" stroke="#000" stroke-width="1.4"/>
<circle cx="1045.4" cy="307.0" r="2.3" fill="none" stroke="#000" stroke-width="1.4"/>
<circle cx="1049.0" cy="327.7" r="2.3" fill="none" stroke="#000" stroke-width="1.4"/>
<circle cx="1052.6" cy="338.1" r="2.3" fill="none" stroke="#000" stroke-width="1.4"/>
<circle cx="1046.3" cy="339.8" r="2.3" fill="none" stroke="#000" stroke-width="1.4"/>
<text x="1040.2" y="403.0" font-size="19.76" font-weight="bold" text-anchor="middle">7</text>
<rect x="1073.0" y="347.6" width="13.2" height="33.7" fill="#4F9BF4" stroke="#000" stroke-width="2.2"/>
<line x1="1079.6" y1="347.6" x2="1079.6" y2="341.6" stroke="#000" stroke-width="3"/>
<line x1="1075.6" y1="341.6" x2="1083.6" y2="341.6" stroke="#000" stroke-width="3"/>
<circle cx="1075.1" cy="313.0" r="2.3" fill="none" stroke="#000" stroke-width="1.4"/>
<circle cx="1078.7" cy="348.5" r="2.3" fill="none" stroke="#000" stroke-width="1.4"/>
<circle cx="1082.3" cy="351.1" r="2.3" fill="none" stroke="#000" stroke-width="1.4"/>
<circle cx="1076.0" cy="361.4" r="2.3" fill="none" stroke="#000" stroke-width="1.4"/>
<circle cx="1079.6" cy="355.4" r="2.3" fill="none" stroke="#000" stroke-width="1.4"/>
<circle cx="1083.2" cy="345.9" r="2.3" fill="none" stroke="#000" stroke-width="1.4"/>
<circle cx="1076.9" cy="358.0" r="2.3" fill="none" stroke="#000" stroke-width="1.4"/>
<rect x="1088.6" y="344.1" width="13.2" height="37.2" fill="#E87272" stroke="#000" stroke-width="2.2"/>
<line x1="1095.2" y1="344.1" x2="1095.2" y2="332.9" stroke="#000" stroke-width="3"/>
<line x1="1091.2" y1="332.9" x2="1099.2" y2="332.9" stroke="#000" stroke-width="3"/>
<circle cx="1090.7" cy="292.3" r="2.3" fill="none" stroke="#000" stroke-width="1.4"/>
<circle cx="1094.3" cy="315.6" r="2.3" fill="none" stroke="#000" stroke-width="1.4"/>
<circle cx="1097.9" cy="329.5" r="2.3" fill="none" stroke="#000" stroke-width="1.4"/>
<circle cx="1091.6" cy="345.0" r="2.3" fill="none" stroke="#000" stroke-width="1.4"/>
<circle cx="1095.2" cy="361.4" r="2.3" fill="none" stroke="#000" stroke-width="1.4"/>
<circle cx="1098.8" cy="376.1" r="2.3" fill="none" stroke="#000" stroke-width="1.4"/>
<circle cx="1092.5" cy="351.1" r="2.3" fill="none" stroke="#000" stroke-width="1.4"/>
<circle cx="1096.1" cy="364.0" r="2.3" fill="none" stroke="#000" stroke-width="1.4"/>
<circle cx="1099.7" cy="339.8" r="2.3" fill="none" stroke="#000" stroke-width="1.4"/>
<circle cx="1093.4" cy="365.7" r="2.3" fill="none" stroke="#000" stroke-width="1.4"/>
<text x="1087.3" y="403.0" font-size="19.76" font-weight="bold" text-anchor="middle">8</text>
<rect x="1120.2" y="341.6" width="13.2" height="39.7" fill="#4F9BF4" stroke="#000" stroke-width="2.2"/>
<line x1="1126.8" y1="341.6" x2="1126.8" y2="334.6" stroke="#000" stroke-width="3"/>
<line x1="1122.8" y1="334.6" x2="1130.8" y2="334.6" stroke="#000" stroke-width="3"/>
<circle cx="1122.3" cy="315.6" r="2.3" fill="none" stroke="#000" stroke-width="1.4"/>
<circle cx="1125.9" cy="324.3" r="2.3" fill="none" stroke="#000" stroke-width="1.4"/>
<circle cx="1129.5" cy="342.4" r="2.3" fill="none" stroke="#000" stroke-width="1.4"/>
<circle cx="1123.2" cy="350.2" r="2.3" fill="none" stroke="#000" stroke-width="1.4"/>
<circle cx="1126.8" cy="346.7" r="2.3" fill="none" stroke="#000" stroke-width="1.4"/>
<circle cx="1130.4" cy="353.7" r="2.3" fill="none" stroke="#000" stroke-width="1.4"/>
<circle cx="1124.1" cy="357.1" r="2.3" fill="none" stroke="#000" stroke-width="1.4"/>
<rect x="1135.8" y="354.5" width="13.2" height="26.8" fill="#E87272" stroke="#000" stroke-width="2.2"/>
<line x1="1142.4" y1="354.5" x2="1142.4" y2="349.3" stroke="#000" stroke-width="3"/>
<line x1="1138.4" y1="349.3" x2="1146.4" y2="349.3" stroke="#000" stroke-width="3"/>
<circle cx="1137.9" cy="325.1" r="2.3" fill="none" stroke="#000" stroke-width="1.4"/>
<circle cx="1141.5" cy="332.1" r="2.3" fill="none" stroke="#000" stroke-width="1.4"/>
<circle cx="1145.1" cy="345.0" r="2.3" fill="none" stroke="#000" stroke-width="1.4"/>
<circle cx="1138.8" cy="351.9" r="2.3" fill="none" stroke="#000" stroke-width="1.4"/>
<circle cx="1142.4" cy="357.1" r="2.3" fill="none" stroke="#000" stroke-width="1.4"/>
<circle cx="1146.0" cy="355.4" r="2.3" fill="none" stroke="#000" stroke-width="1.4"/>
<circle cx="1139.7" cy="359.7" r="2.3" fill="none" stroke="#000" stroke-width="1.4"/>
<circle cx="1143.3" cy="364.9" r="2.3" fill="none" stroke="#000" stroke-width="1.4"/>
<circle cx="1146.9" cy="362.3" r="2.3" fill="none" stroke="#000" stroke-width="1.4"/>
<circle cx="1140.6" cy="350.2" r="2.3" fill="none" stroke="#000" stroke-width="1.4"/>
<text x="1134.5" y="403.0" font-size="19.76" font-weight="bold" text-anchor="middle">9</text>
<rect x="1167.3" y="358.8" width="13.2" height="22.5" fill="#4F9BF4" stroke="#000" stroke-width="2.2"/>
<line x1="1173.9" y1="358.8" x2="1173.9" y2="353.7" stroke="#000" stroke-width="3"/>
<line x1="1169.9" y1="353.7" x2="1177.9" y2="353.7" stroke="#000" stroke-width="3"/>
<circle cx="1169.4" cy="338.1" r="2.3" fill="none" stroke="#000" stroke-width="1.4"/>
<circle cx="1173.0" cy="361.4" r="2.3" fill="none" stroke="#000" stroke-width="1.4"/>
<circle cx="1176.6" cy="372.7" r="2.3" fill="none" stroke="#000" stroke-width="1.4"/>
<circle cx="1170.3" cy="376.1" r="2.3" fill="none" stroke="#000" stroke-width="1.4"/>
<circle cx="1173.9" cy="358.8" r="2.3" fill="none" stroke="#000" stroke-width="1.4"/>
<circle cx="1177.5" cy="355.4" r="2.3" fill="none" stroke="#000" stroke-width="1.4"/>
<circle cx="1171.2" cy="351.9" r="2.3" fill="none" stroke="#000" stroke-width="1.4"/>
<rect x="1182.9" y="360.6" width="13.2" height="20.7" fill="#E87272" stroke="#000" stroke-width="2.2"/>
<line x1="1189.5" y1="360.6" x2="1189.5" y2="356.2" stroke="#000" stroke-width="3"/>
<line x1="1185.5" y1="356.2" x2="1193.5" y2="356.2" stroke="#000" stroke-width="3"/>
<circle cx="1185.0" cy="337.2" r="2.3" fill="none" stroke="#000" stroke-width="1.4"/>
<circle cx="1188.6" cy="348.5" r="2.3" fill="none" stroke="#000" stroke-width="1.4"/>
<circle cx="1192.2" cy="357.1" r="2.3" fill="none" stroke="#000" stroke-width="1.4"/>
<circle cx="1185.9" cy="364.9" r="2.3" fill="none" stroke="#000" stroke-width="1.4"/>
<circle cx="1189.5" cy="360.6" r="2.3" fill="none" stroke="#000" stroke-width="1.4"/>
<circle cx="1193.1" cy="370.9" r="2.3" fill="none" stroke="#000" stroke-width="1.4"/>
<circle cx="1186.8" cy="364.0" r="2.3" fill="none" stroke="#000" stroke-width="1.4"/>
<circle cx="1190.4" cy="355.4" r="2.3" fill="none" stroke="#000" stroke-width="1.4"/>
<circle cx="1194.0" cy="368.3" r="2.3" fill="none" stroke="#000" stroke-width="1.4"/>
<circle cx="1187.7" cy="374.4" r="2.3" fill="none" stroke="#000" stroke-width="1.4"/>
<text x="1181.6" y="403.0" font-size="19.76" font-weight="bold" text-anchor="middle">10</text>
<rect x="1214.5" y="370.1" width="13.2" height="11.2" fill="#4F9BF4" stroke="#000" stroke-width="2.2"/>
<line x1="1221.1" y1="370.1" x2="1221.1" y2="362.3" stroke="#000" stroke-width="3"/>
<line x1="1217.1" y1="362.3" x2="1225.1" y2="362.3" stroke="#000" stroke-width="3"/>
<circle cx="1216.6" cy="338.1" r="2.3" fill="none" stroke="#000" stroke-width="1.4"/>
<circle cx="1220.2" cy="354.5" r="2.3" fill="none" stroke="#000" stroke-width="1.4"/>
<circle cx="1223.8" cy="376.1" r="2.3" fill="none" stroke="#000" stroke-width="1.4"/>
<circle cx="1217.5" cy="377.8" r="2.3" fill="none" stroke="#000" stroke-width="1.4"/>
<circle cx="1221.1" cy="378.7" r="2.3" fill="none" stroke="#000" stroke-width="1.4"/>
<circle cx="1224.7" cy="377.0" r="2.3" fill="none" stroke="#000" stroke-width="1.4"/>
<circle cx="1218.4" cy="379.6" r="2.3" fill="none" stroke="#000" stroke-width="1.4"/>
<rect x="1230.1" y="332.1" width="13.2" height="49.2" fill="#E87272" stroke="#000" stroke-width="2.2"/>
<line x1="1236.7" y1="332.1" x2="1236.7" y2="317.4" stroke="#000" stroke-width="3"/>
<line x1="1232.7" y1="317.4" x2="1240.7" y2="317.4" stroke="#000" stroke-width="3"/>
<circle cx="1232.2" cy="269.8" r="2.3" fill="none" stroke="#000" stroke-width="1.4"/>
<circle cx="1235.8" cy="275.9" r="2.3" fill="none" stroke="#000" stroke-width="1.4"/>
<circle cx="1239.4" cy="290.6" r="2.3" fill="none" stroke="#000" stroke-width="1.4"/>
<circle cx="1233.1" cy="318.2" r="2.3" fill="none" stroke="#000" stroke-width="1.4"/>
<circle cx="1236.7" cy="351.9" r="2.3" fill="none" stroke="#000" stroke-width="1.4"/>
<circle cx="1240.3" cy="376.1" r="2.3" fill="none" stroke="#000" stroke-width="1.4"/>
<circle cx="1234.0" cy="329.5" r="2.3" fill="none" stroke="#000" stroke-width="1.4"/>
<circle cx="1237.6" cy="346.7" r="2.3" fill="none" stroke="#000" stroke-width="1.4"/>
<circle cx="1241.2" cy="374.4" r="2.3" fill="none" stroke="#000" stroke-width="1.4"/>
<circle cx="1234.9" cy="377.0" r="2.3" fill="none" stroke="#000" stroke-width="1.4"/>
<text x="1228.8" y="403.0" font-size="19.76" font-weight="bold" text-anchor="middle">11</text>
<rect x="1261.6" y="363.2" width="13.2" height="18.1" fill="#4F9BF4" stroke="#000" stroke-width="2.2"/>
<line x1="1268.2" y1="363.2" x2="1268.2" y2="358.8" stroke="#000" stroke-width="3"/>
<line x1="1264.2" y1="358.8" x2="1272.2" y2="358.8" stroke="#000" stroke-width="3"/>
<circle cx="1263.7" cy="350.2" r="2.3" fill="none" stroke="#000" stroke-width="1.4"/>
<circle cx="1267.3" cy="361.4" r="2.3" fill="none" stroke="#000" stroke-width="1.4"/>
<circle cx="1270.9" cy="372.7" r="2.3" fill="none" stroke="#000" stroke-width="1.4"/>
<circle cx="1264.6" cy="358.8" r="2.3" fill="none" stroke="#000" stroke-width="1.4"/>
<circle cx="1268.2" cy="355.4" r="2.3" fill="none" stroke="#000" stroke-width="1.4"/>
<circle cx="1271.8" cy="368.3" r="2.3" fill="none" stroke="#000" stroke-width="1.4"/>
<circle cx="1265.5" cy="374.4" r="2.3" fill="none" stroke="#000" stroke-width="1.4"/>
<rect x="1277.2" y="353.7" width="13.2" height="27.6" fill="#E87272" stroke="#000" stroke-width="2.2"/>
<line x1="1283.8" y1="353.7" x2="1283.8" y2="346.7" stroke="#000" stroke-width="3"/>
<line x1="1279.8" y1="346.7" x2="1287.8" y2="346.7" stroke="#000" stroke-width="3"/>
<circle cx="1279.3" cy="310.5" r="2.3" fill="none" stroke="#000" stroke-width="1.4"/>
<circle cx="1282.9" cy="332.1" r="2.3" fill="none" stroke="#000" stroke-width="1.4"/>
<circle cx="1286.5" cy="338.1" r="2.3" fill="none" stroke="#000" stroke-width="1.4"/>
<circle cx="1280.2" cy="357.1" r="2.3" fill="none" stroke="#000" stroke-width="1.4"/>
<circle cx="1283.8" cy="372.7" r="2.3" fill="none" stroke="#000" stroke-width="1.4"/>
<circle cx="1287.4" cy="351.1" r="2.3" fill="none" stroke="#000" stroke-width="1.4"/>
<circle cx="1281.1" cy="364.0" r="2.3" fill="none" stroke="#000" stroke-width="1.4"/>
<circle cx="1284.7" cy="368.3" r="2.3" fill="none" stroke="#000" stroke-width="1.4"/>
<circle cx="1288.3" cy="348.5" r="2.3" fill="none" stroke="#000" stroke-width="1.4"/>
<circle cx="1282.0" cy="377.0" r="2.3" fill="none" stroke="#000" stroke-width="1.4"/>
<text x="1275.9" y="403.0" font-size="19.76" font-weight="bold" text-anchor="middle">12</text>
<rect x="1308.8" y="370.1" width="13.2" height="11.2" fill="#4F9BF4" stroke="#000" stroke-width="2.2"/>
<line x1="1315.4" y1="370.1" x2="1315.4" y2="367.5" stroke="#000" stroke-width="3"/>
<line x1="1311.4" y1="367.5" x2="1319.4" y2="367.5" stroke="#000" stroke-width="3"/>
<circle cx="1310.9" cy="364.9" r="2.3" fill="none" stroke="#000" stroke-width="1.4"/>
<circle cx="1314.5" cy="372.7" r="2.3" fill="none" stroke="#000" stroke-width="1.4"/>
<circle cx="1318.1" cy="368.3" r="2.3" fill="none" stroke="#000" stroke-width="1.4"/>
<circle cx="1311.8" cy="370.1" r="2.3" fill="none" stroke="#000" stroke-width="1.4"/>
<circle cx="1315.4" cy="373.5" r="2.3" fill="none" stroke="#000" stroke-width="1.4"/>
<circle cx="1319.0" cy="367.5" r="2.3" fill="none" stroke="#000" stroke-width="1.4"/>
<circle cx="1312.7" cy="371.8" r="2.3" fill="none" stroke="#000" stroke-width="1.4"/>
<rect x="1324.4" y="369.2" width="13.2" height="12.1" fill="#E87272" stroke="#000" stroke-width="2.2"/>
<line x1="1331.0" y1="369.2" x2="1331.0" y2="364.9" stroke="#000" stroke-width="3"/>
<line x1="1327.0" y1="364.9" x2="1335.0" y2="364.9" stroke="#000" stroke-width="3"/>
<circle cx="1326.5" cy="345.0" r="2.3" fill="none" stroke="#000" stroke-width="1.4"/>
<circle cx="1330.1" cy="357.1" r="2.3" fill="none" stroke="#000" stroke-width="1.4"/>
<circle cx="1333.7" cy="366.6" r="2.3" fill="none" stroke="#000" stroke-width="1.4"/>
<circle cx="1327.4" cy="374.4" r="2.3" fill="none" stroke="#000" stroke-width="1.4"/>
<circle cx="1331.0" cy="370.9" r="2.3" fill="none" stroke="#000" stroke-width="1.4"/>
<circle cx="1334.6" cy="368.3" r="2.3" fill="none" stroke="#000" stroke-width="1.4"/>
<circle cx="1328.3" cy="377.0" r="2.3" fill="none" stroke="#000" stroke-width="1.4"/>
<circle cx="1331.9" cy="372.7" r="2.3" fill="none" stroke="#000" stroke-width="1.4"/>
<circle cx="1335.5" cy="364.0" r="2.3" fill="none" stroke="#000" stroke-width="1.4"/>
<circle cx="1329.2" cy="378.7" r="2.3" fill="none" stroke="#000" stroke-width="1.4"/>
<text x="1323.1" y="403.0" font-size="19.76" font-weight="bold" text-anchor="middle">13</text>
<rect x="1356.0" y="378.7" width="13.2" height="2.6" fill="#4F9BF4" stroke="#000" stroke-width="2.2"/>
<line x1="1362.5" y1="378.7" x2="1362.5" y2="376.1" stroke="#000" stroke-width="3"/>
<line x1="1358.5" y1="376.1" x2="1366.5" y2="376.1" stroke="#000" stroke-width="3"/>
<circle cx="1358.0" cy="364.9" r="2.3" fill="none" stroke="#000" stroke-width="1.4"/>
<circle cx="1361.6" cy="376.1" r="2.3" fill="none" stroke="#000" stroke-width="1.4"/>
<circle cx="1365.2" cy="380.4" r="2.3" fill="none" stroke="#000" stroke-width="1.4"/>
<circle cx="1359.0" cy="380.9" r="2.3" fill="none" stroke="#000" stroke-width="1.4"/>
<circle cx="1362.5" cy="380.4" r="2.3" fill="none" stroke="#000" stroke-width="1.4"/>
<circle cx="1366.1" cy="379.6" r="2.3" fill="none" stroke="#000" stroke-width="1.4"/>
<circle cx="1359.8" cy="380.9" r="2.3" fill="none" stroke="#000" stroke-width="1.4"/>
<rect x="1371.5" y="373.5" width="13.2" height="7.8" fill="#E87272" stroke="#000" stroke-width="2.2"/>
<line x1="1378.1" y1="373.5" x2="1378.1" y2="370.1" stroke="#000" stroke-width="3"/>
<line x1="1374.1" y1="370.1" x2="1382.1" y2="370.1" stroke="#000" stroke-width="3"/>
<circle cx="1373.6" cy="357.1" r="2.3" fill="none" stroke="#000" stroke-width="1.4"/>
<circle cx="1377.2" cy="364.9" r="2.3" fill="none" stroke="#000" stroke-width="1.4"/>
<circle cx="1380.8" cy="372.7" r="2.3" fill="none" stroke="#000" stroke-width="1.4"/>
<circle cx="1374.5" cy="377.0" r="2.3" fill="none" stroke="#000" stroke-width="1.4"/>
<circle cx="1378.1" cy="378.7" r="2.3" fill="none" stroke="#000" stroke-width="1.4"/>
<circle cx="1381.7" cy="370.9" r="2.3" fill="none" stroke="#000" stroke-width="1.4"/>
<circle cx="1375.4" cy="374.4" r="2.3" fill="none" stroke="#000" stroke-width="1.4"/>
<circle cx="1379.0" cy="379.6" r="2.3" fill="none" stroke="#000" stroke-width="1.4"/>
<circle cx="1382.6" cy="376.1" r="2.3" fill="none" stroke="#000" stroke-width="1.4"/>
<circle cx="1376.3" cy="380.4" r="2.3" fill="none" stroke="#000" stroke-width="1.4"/>
<text x="1370.2" y="403.0" font-size="19.76" font-weight="bold" text-anchor="middle">14</text>
<line x1="733.2" y1="77.0" x2="733.2" y2="382.8" stroke="#000" stroke-width="3"/>
<line x1="719.4" y1="381.3" x2="1394.6" y2="381.3" stroke="#000" stroke-width="3"/>
<line x1="719.4" y1="381.3" x2="733.2" y2="381.3" stroke="#000" stroke-width="3"/>
<text x="714.6" y="391.3" font-size="24.96" font-weight="bold" text-anchor="end" textLength="12.9" lengthAdjust="spacingAndGlyphs">0</text>
<line x1="719.4" y1="338.1" x2="733.2" y2="338.1" stroke="#000" stroke-width="3"/>
<text x="714.6" y="348.1" font-size="24.96" font-weight="bold" text-anchor="end" textLength="12.9" lengthAdjust="spacingAndGlyphs">5</text>
<line x1="719.4" y1="294.9" x2="733.2" y2="294.9" stroke="#000" stroke-width="3"/>
<text x="714.6" y="304.9" font-size="24.96" font-weight="bold" text-anchor="end" textLength="25.7" lengthAdjust="spacingAndGlyphs">10</text>
<line x1="719.4" y1="251.7" x2="733.2" y2="251.7" stroke="#000" stroke-width="3"/>
<text x="714.6" y="261.7" font-size="24.96" font-weight="bold" text-anchor="end" textLength="25.7" lengthAdjust="spacingAndGlyphs">15</text>
<line x1="719.4" y1="208.5" x2="733.2" y2="208.5" stroke="#000" stroke-width="3"/>
<text x="714.6" y="218.5" font-size="24.96" font-weight="bold" text-anchor="end" textLength="25.7" lengthAdjust="spacingAndGlyphs">20</text>
<line x1="719.4" y1="165.3" x2="733.2" y2="165.3" stroke="#000" stroke-width="3"/>
<text x="714.6" y="175.3" font-size="24.96" font-weight="bold" text-anchor="end" textLength="25.7" lengthAdjust="spacingAndGlyphs">25</text>
<line x1="719.4" y1="122.1" x2="733.2" y2="122.1" stroke="#000" stroke-width="3"/>
<text x="714.6" y="132.1" font-size="24.96" font-weight="bold" text-anchor="end" textLength="25.7" lengthAdjust="spacingAndGlyphs">30</text>
<line x1="719.4" y1="78.9" x2="733.2" y2="78.9" stroke="#000" stroke-width="3"/>
<text x="714.6" y="88.9" font-size="24.96" font-weight="bold" text-anchor="end" textLength="25.7" lengthAdjust="spacingAndGlyphs">35</text>
<text x="651.3" y="303.2" font-size="36.4" font-weight="bold" textLength="164.0" lengthAdjust="spacingAndGlyphs" transform="rotate(-90 651.3 303.2)">% of B cells</text>
<rect x="1065.5" y="106.6" width="34.3" height="20.5" fill="#4F9BF4" stroke="#000" stroke-width="1.5"/>
<rect x="1065.5" y="142.8" width="34.3" height="20.0" fill="#E87272" stroke="#000" stroke-width="1.5"/>
<text x="1108.6" y="127.0" font-size="31.2" font-weight="bold" textLength="144.0" lengthAdjust="spacingAndGlyphs">HD (n = 7)</text>
<text x="1108.6" y="162.8" font-size="31.2" font-weight="bold" textLength="194.0" lengthAdjust="spacingAndGlyphs">PAPS (n = 10)</text>
<circle cx="490.2" cy="30.8" r="8.0" fill="#22548C"/>
<text x="502.0" y="37.0" font-size="20.8" textLength="10.5" lengthAdjust="spacingAndGlyphs">1</text>
<circle cx="490.2" cy="62.3" r="8.0" fill="#F07AA0"/>
<text x="502.0" y="68.5" font-size="20.8" textLength="10.5" lengthAdjust="spacingAndGlyphs">2</text>
<circle cx="490.2" cy="93.9" r="8.0" fill="#C47A68"/>
<text x="502.0" y="100.1" font-size="20.8" textLength="10.5" lengthAdjust="spacingAndGlyphs">3</text>
<circle cx="490.2" cy="125.4" r="8.0" fill="#EE5A14"/>
<text x="502.0" y="131.6" font-size="20.8" textLength="10.5" lengthAdjust="spacingAndGlyphs">4</text>
<circle cx="490.2" cy="156.9" r="8.0" fill="#4A90E0"/>
<text x="502.0" y="163.1" font-size="20.8" textLength="10.5" lengthAdjust="spacingAndGlyphs">5</text>
<circle cx="490.2" cy="188.5" r="8.0" fill="#7CD22E"/>
<text x="502.0" y="194.7" font-size="20.8" textLength="10.5" lengthAdjust="spacingAndGlyphs">6</text>
<circle cx="490.2" cy="220.0" r="8.0" fill="#F0A428"/>
<text x="502.0" y="226.2" font-size="20.8" textLength="10.5" lengthAdjust="spacingAndGlyphs">7</text>
<circle cx="490.2" cy="251.5" r="8.0" fill="#8C5A2E"/>
<text x="502.0" y="257.7" font-size="20.8" textLength="10.5" lengthAdjust="spacingAndGlyphs">8</text>
<circle cx="490.2" cy="283.0" r="8.0" fill="#F5E21E"/>
<text x="502.0" y="289.2" font-size="20.8" textLength="10.5" lengthAdjust="spacingAndGlyphs">9</text>
<circle cx="490.2" cy="314.6" r="8.0" fill="#D0001C"/>
<text x="502.0" y="320.8" font-size="20.8" textLength="21.5" lengthAdjust="spacingAndGlyphs">10</text>
<circle cx="490.2" cy="346.1" r="8.0" fill="#3E7210"/>
<text x="502.0" y="352.3" font-size="20.8" textLength="21.5" lengthAdjust="spacingAndGlyphs">11</text>
<circle cx="490.2" cy="377.6" r="8.0" fill="#5068D8"/>
<text x="502.0" y="383.8" font-size="20.8" textLength="21.5" lengthAdjust="spacingAndGlyphs">12</text>
<circle cx="490.2" cy="409.2" r="8.0" fill="#000000"/>
<text x="502.0" y="415.4" font-size="20.8" textLength="21.5" lengthAdjust="spacingAndGlyphs">13</text>
<circle cx="490.2" cy="440.7" r="8.0" fill="#F2C2A8"/>
<text x="502.0" y="446.9" font-size="20.8" textLength="21.5" lengthAdjust="spacingAndGlyphs">14</text>
<path d="M120.3,326.4 L120.3,413.6 L209,413.6 M107.3,346.4 L120.3,326.4 L133.3,346.4 M189,400.6 L209,413.6 L189,426.6" fill="none" stroke="#000" stroke-width="3.8" stroke-linejoin="round" stroke-linecap="round"/>
<text x="99.3" y="417.3" font-size="20.8" font-weight="bold" textLength="85.0" lengthAdjust="spacingAndGlyphs" transform="rotate(-90 99.3 417.3)">UMAP_2</text>
<text x="123.6" y="450.3" font-size="20.8" font-weight="bold" textLength="85.4" lengthAdjust="spacingAndGlyphs">UMAP_1</text>
<text x="1521.6" y="101.6" font-size="30.16" font-weight="bold" textLength="42.2" lengthAdjust="spacingAndGlyphs">HD</text>
<text x="1499.2" y="301.5" font-size="30.16" font-weight="bold" textLength="74.7" lengthAdjust="spacingAndGlyphs">PAPS</text>
<path d="M1540.9,358.9 L1540.9,423.9 L1607,423.9 M1527.9,377.9 L1540.9,358.9 L1553.9,377.9 M1588,410.9 L1607,423.9 L1588,436.9" fill="none" stroke="#000" stroke-width="3.8" stroke-linejoin="round" stroke-linecap="round"/>
<text x="1519.8" y="433.5" font-size="20.8" font-weight="bold" textLength="84.5" lengthAdjust="spacingAndGlyphs" transform="rotate(-90 1519.8 433.5)">UMAP_2</text>
<text x="1536.8" y="460.0" font-size="20.8" font-weight="bold" textLength="84.8" lengthAdjust="spacingAndGlyphs">UMAP_1</text>
<path d="M129.8,1038 L129.8,1187.5 L296,1187.5 M116.80000000000001,1058 L129.8,1038 L142.8,1058 M276,1174.5 L296,1187.5 L276,1200.5" fill="none" stroke="#000" stroke-width="3.8" stroke-linejoin="round" stroke-linecap="round"/>
<text x="111.5" y="1169.0" font-size="20.8" font-weight="bold" textLength="97.0" lengthAdjust="spacingAndGlyphs" transform="rotate(-90 111.5 1169.0)">UMAP_2</text>
<text x="170.0" y="1226.5" font-size="20.8" font-weight="bold" textLength="97.6" lengthAdjust="spacingAndGlyphs">UMAP_1</text>
<text x="213.9" y="629.3" font-size="31.2" font-weight="bold" fill="#3B5490" textLength="78.6" lengthAdjust="spacingAndGlyphs">Naive</text>
<text x="123.0" y="806.0" font-size="31.2" font-weight="bold" fill="#5A9A30" textLength="166.0" lengthAdjust="spacingAndGlyphs">Transitional</text>
<text x="491.0" y="897.0" font-size="31.2" font-weight="bold" textLength="122.3" lengthAdjust="spacingAndGlyphs">IgM only</text>
<text x="134.5" y="955.4" font-size="31.2" font-weight="bold" fill="#B22038" textLength="129.8" lengthAdjust="spacingAndGlyphs">Switched</text>
<text x="839.3" y="1036.8" font-size="31.2" font-weight="bold" fill="#3A88B0" textLength="58.5" lengthAdjust="spacingAndGlyphs">DN2</text>
<text x="558.0" y="1132.3" font-size="31.2" font-weight="bold" fill="#F0A030" textLength="167.0" lengthAdjust="spacingAndGlyphs">Unswitched</text>
<line x1="216.4" y1="1330.8" x2="216.4" y2="1758.0" stroke="#E3E3E3" stroke-width="1.3"/>
<line x1="253.0" y1="1330.8" x2="253.0" y2="1758.0" stroke="#E3E3E3" stroke-width="1.3"/>
<line x1="289.6" y1="1330.8" x2="289.6" y2="1758.0" stroke="#E3E3E3" stroke-width="1.3"/>
<line x1="326.2" y1="1330.8" x2="326.2" y2="1758.0" stroke="#E3E3E3" stroke-width="1.3"/>
<line x1="362.8" y1="1330.8" x2="362.8" y2="1758.0" stroke="#E3E3E3" stroke-width="1.3"/>
<line x1="399.4" y1="1330.8" x2="399.4" y2="1758.0" stroke="#E3E3E3" stroke-width="1.3"/>
<line x1="436.0" y1="1330.8" x2="436.0" y2="1758.0" stroke="#E3E3E3" stroke-width="1.3"/>
<line x1="472.6" y1="1330.8" x2="472.6" y2="1758.0" stroke="#E3E3E3" stroke-width="1.3"/>
<line x1="509.2" y1="1330.8" x2="509.2" y2="1758.0" stroke="#E3E3E3" stroke-width="1.3"/>
<line x1="216.4" y1="1356.9" x2="510.2" y2="1356.9" stroke="#E3E3E3" stroke-width="1.3"/>
<rect x="215.3" y="1338.2" width="289.4" height="37.3" fill="#F8766D"/>
<text x="212.7" y="1361.8" font-size="20.28" font-weight="bold" text-anchor="end" textLength="178.0" lengthAdjust="spacingAndGlyphs">OXYDATIVE PHOSPH.</text>
<line x1="216.4" y1="1399.1" x2="510.2" y2="1399.1" stroke="#E3E3E3" stroke-width="1.3"/>
<rect x="215.3" y="1380.4" width="257.2" height="37.3" fill="#F8766D"/>
<text x="212.7" y="1404.0" font-size="20.28" font-weight="bold" text-anchor="end" textLength="147.8" lengthAdjust="spacingAndGlyphs">MYC TARGETS V1</text>
<line x1="216.4" y1="1441.3" x2="510.2" y2="1441.3" stroke="#E3E3E3" stroke-width="1.3"/>
<rect x="215.3" y="1422.6" width="245.1" height="37.3" fill="#F8766D"/>
<text x="212.7" y="1446.2" font-size="20.28" font-weight="bold" text-anchor="end" textLength="200.0" lengthAdjust="spacingAndGlyphs">IFN GAMMA RESPONSE</text>
<line x1="216.4" y1="1483.5" x2="510.2" y2="1483.5" stroke="#E3E3E3" stroke-width="1.3"/>
<rect x="215.3" y="1464.8" width="229.4" height="37.3" fill="#F8766D"/>
<text x="212.7" y="1488.4" font-size="20.28" font-weight="bold" text-anchor="end" textLength="104.6" lengthAdjust="spacingAndGlyphs">DNA REPAIR</text>
<line x1="216.4" y1="1525.7" x2="510.2" y2="1525.7" stroke="#E3E3E3" stroke-width="1.3"/>
<rect x="215.3" y="1507.0" width="226.5" height="37.3" fill="#F8766D"/>
<text x="212.7" y="1530.6" font-size="20.28" font-weight="bold" text-anchor="end" textLength="183.0" lengthAdjust="spacingAndGlyphs">IFN ALPHA RESPONSE</text>
<line x1="216.4" y1="1567.9" x2="510.2" y2="1567.9" stroke="#E3E3E3" stroke-width="1.3"/>
<rect x="215.3" y="1549.2" width="219.5" height="37.3" fill="#F8766D"/>
<text x="212.7" y="1572.8" font-size="20.28" font-weight="bold" text-anchor="end" textLength="173.4" lengthAdjust="spacingAndGlyphs">MTORC1 SIGNALING</text>
<line x1="216.4" y1="1610.1" x2="510.2" y2="1610.1" stroke="#E3E3E3" stroke-width="1.3"/>
<rect x="215.3" y="1591.4" width="184.0" height="37.3" fill="#F8766D"/>
<text x="212.7" y="1615.0" font-size="20.28" font-weight="bold" text-anchor="end" textLength="126.8" lengthAdjust="spacingAndGlyphs">ADIPOGENESIS</text>
<line x1="216.4" y1="1652.3" x2="510.2" y2="1652.3" stroke="#E3E3E3" stroke-width="1.3"/>
<rect x="215.3" y="1633.6" width="183.3" height="37.3" fill="#F8766D"/>
<text x="212.7" y="1657.2" font-size="20.28" font-weight="bold" text-anchor="end" textLength="110.4" lengthAdjust="spacingAndGlyphs">E2F TARGETS</text>
<line x1="216.4" y1="1694.5" x2="510.2" y2="1694.5" stroke="#E3E3E3" stroke-width="1.3"/>
<rect x="215.3" y="1675.8" width="167.9" height="37.3" fill="#F8766D"/>
<text x="212.7" y="1699.4" font-size="20.28" font-weight="bold" text-anchor="end" textLength="195.7" lengthAdjust="spacingAndGlyphs">ALLOGRAFT REJECTION</text>
<line x1="216.4" y1="1736.7" x2="510.2" y2="1736.7" stroke="#E3E3E3" stroke-width="1.3"/>
<rect x="215.3" y="1718.0" width="166.8" height="37.3" fill="#F8766D"/>
<text x="212.7" y="1741.6" font-size="20.28" font-weight="bold" text-anchor="end" textLength="35.5" lengthAdjust="spacingAndGlyphs">UPR</text>
<line x1="216.4" y1="1758.0" x2="509.2" y2="1758.0" stroke="#000" stroke-width="2.5"/>
<line x1="216.4" y1="1758.0" x2="216.4" y2="1776.5" stroke="#000" stroke-width="2.5"/>
<text x="216.4" y="1797.0" font-size="21.84" font-weight="bold" text-anchor="middle" textLength="11.5" lengthAdjust="spacingAndGlyphs">0</text>
<line x1="289.6" y1="1758.0" x2="289.6" y2="1776.5" stroke="#000" stroke-width="2.5"/>
<text x="289.6" y="1797.0" font-size="21.84" font-weight="bold" text-anchor="middle" textLength="11.5" lengthAdjust="spacingAndGlyphs">2</text>
<line x1="362.8" y1="1758.0" x2="362.8" y2="1776.5" stroke="#000" stroke-width="2.5"/>
<text x="362.8" y="1797.0" font-size="21.84" font-weight="bold" text-anchor="middle" textLength="11.5" lengthAdjust="spacingAndGlyphs">4</text>
<line x1="436.0" y1="1758.0" x2="436.0" y2="1776.5" stroke="#000" stroke-width="2.5"/>
<text x="436.0" y="1797.0" font-size="21.84" font-weight="bold" text-anchor="middle" textLength="11.5" lengthAdjust="spacingAndGlyphs">6</text>
<line x1="509.2" y1="1758.0" x2="509.2" y2="1776.5" stroke="#000" stroke-width="2.5"/>
<text x="509.2" y="1797.0" font-size="21.84" font-weight="bold" text-anchor="middle" textLength="11.5" lengthAdjust="spacingAndGlyphs">8</text>
<text x="161.0" y="1837.0" font-size="26.52" font-weight="bold" textLength="393.5" lengthAdjust="spacingAndGlyphs">NORMALIZED ENRICHMENT SCORE</text>
<text x="700.8" y="1317.5" font-size="27.04" font-weight="bold" textLength="157.7" lengthAdjust="spacingAndGlyphs">Naive B cells</text>
<text x="962.0" y="1317.5" font-size="27.04" font-weight="bold" textLength="194.6" lengthAdjust="spacingAndGlyphs">Memory B cells</text>
<path d="M717.4,1485.7V1506.8M775.2,1485.7V1506.8M672.5,1485.7V1506.8M851.4,1485.7V1506.8M647.3,1485.7V1506.8M887.5,1485.7V1506.8M739.1,1485.7V1506.8M701.5,1485.7V1506.8M730.9,1485.7V1506.8M877.3,1485.7V1506.8M681.4,1485.7V1506.8M886.2,1485.7V1506.8M670.1,1485.7V1506.8M655.2,1485.7V1506.8M676.9,1485.7V1506.8M655.8,1485.7V1506.8M673.5,1485.7V1506.8M647.2,1485.7V1506.8M890.7,1485.7V1506.8M765.3,1485.7V1506.8M898.4,1485.7V1506.8M662.8,1485.7V1506.8M840.4,1485.7V1506.8M887.3,1485.7V1506.8M893.6,1485.7V1506.8M686.2,1485.7V1506.8M898.1,1485.7V1506.8M686.4,1485.7V1506.8M656.5,1485.7V1506.8M798.0,1485.7V1506.8M682.1,1485.7V1506.8M835.1,1485.7V1506.8M671.6,1485.7V1506.8M708.5,1485.7V1506.8M667.6,1485.7V1506.8M647.3,1485.7V1506.8M699.3,1485.7V1506.8M891.6,1485.7V1506.8M652.4,1485.7V1506.8M736.2,1485.7V1506.8M815.9,1485.7V1506.8M882.4,1485.7V1506.8M731.9,1485.7V1506.8M673.4,1485.7V1506.8M682.1,1485.7V1506.8M876.6,1485.7V1506.8M856.0,1485.7V1506.8M895.4,1485.7V1506.8M889.7,1485.7V1506.8M670.4,1485.7V1506.8M720.5,1485.7V1506.8M654.0,1485.7V1506.8M675.8,1485.7V1506.8M663.8,1485.7V1506.8M690.1,1485.7V1506.8M673.3,1485.7V1506.8M655.7,1485.7V1506.8M685.9,1485.7V1506.8M896.9,1485.7V1506.8M855.4,1485.7V1506.8M716.7,1485.7V1506.8M750.7,1485.7V1506.8M647.1,1485.7V1506.8M774.4,1485.7V1506.8M690.3,1485.7V1506.8M648.3,1485.7V1506.8M680.0,1485.7V1506.8M658.5,1485.7V1506.8M803.7,1485.7V1506.8M674.8,1485.7V1506.8M667.1,1485.7V1506.8M653.3,1485.7V1506.8M724.5,1485.7V1506.8M654.5,1485.7V1506.8M713.4,1485.7V1506.8M647.1,1485.7V1506.8M701.1,1485.7V1506.8M699.4,1485.7V1506.8M816.6,1485.7V1506.8M735.2,1485.7V1506.8M812.6,1485.7V1506.8M692.9,1485.7V1506.8M685.0,1485.7V1506.8M690.9,1485.7V1506.8M660.3,1485.7V1506.8M898.8,1485.7V1506.8M718.9,1485.7V1506.8M730.0,1485.7V1506.8M798.2,1485.7V1506.8M647.0,1485.7V1506.8M877.5,1485.7V1506.8M901.0,1485.7V1506.8M652.5,1485.7V1506.8M901.3,1485.7V1506.8M811.5,1485.7V1506.8M663.9,1485.7V1506.8M695.8,1485.7V1506.8M653.7,1485.7V1506.8M694.9,1485.7V1506.8M677.3,1485.7V1506.8M720.7,1485.7V1506.8M877.0,1485.7V1506.8M662.4,1485.7V1506.8M896.5,1485.7V1506.8M654.7,1485.7V1506.8M858.4,1485.7V1506.8M885.3,1485.7V1506.8M894.0,1485.7V1506.8M736.7,1485.7V1506.8M701.9,1485.7V1506.8M652.4,1485.7V1506.8M881.9,1485.7V1506.8M824.5,1485.7V1506.8M885.9,1485.7V1506.8M659.8,1485.7V1506.8M891.9,1485.7V1506.8M899.1,1485.7V1506.8M682.4,1485.7V1506.8M647.5,1485.7V1506.8M719.9,1485.7V1506.8M857.1,1485.7V1506.8M689.2,1485.7V1506.8M792.8,1485.7V1506.8M655.4,1485.7V1506.8M658.1,1485.7V1506.8M890.9,1485.7V1506.8M888.2,1485.7V1506.8M709.6,1485.7V1506.8M876.8,1485.7V1506.8M751.9,1485.7V1506.8M722.5,1485.7V1506.8M656.3,1485.7V1506.8M887.2,1485.7V1506.8M652.3,1485.7V1506.8M704.2,1485.7V1506.8M726.0,1485.7V1506.8M734.5,1485.7V1506.8M884.0,1485.7V1506.8M675.1,1485.7V1506.8M693.3,1485.7V1506.8M647.1,1485.7V1506.8M884.0,1485.7V1506.8M672.6,1485.7V1506.8M648.1,1485.7V1506.8M901.2,1485.7V1506.8M879.3,1485.7V1506.8M689.5,1485.7V1506.8M890.3,1485.7V1506.8M833.3,1485.7V1506.8M681.4,1485.7V1506.8M656.8,1485.7V1506.8M659.0,1485.7V1506.8M887.9,1485.7V1506.8M830.7,1485.7V1506.8M886.5,1485.7V1506.8M662.4,1485.7V1506.8M717.4,1485.7V1506.8M884.2,1485.7V1506.8M681.7,1485.7V1506.8M687.1,1485.7V1506.8M647.2,1485.7V1506.8M648.4,1485.7V1506.8M648.3,1485.7V1506.8M691.4,1485.7V1506.8M710.2,1485.7V1506.8M719.5,1485.7V1506.8M677.4,1485.7V1506.8M749.8,1485.7V1506.8M880.9,1485.7V1506.8M879.4,1485.7V1506.8M884.7,1485.7V1506.8M678.7,1485.7V1506.8M884.0,1485.7V1506.8M880.1,1485.7V1506.8M877.3,1485.7V1506.8M725.0,1485.7V1506.8M899.6,1485.7V1506.8M895.5,1485.7V1506.8M764.2,1485.7V1506.8M651.8,1485.7V1506.8M834.2,1485.7V1506.8M648.1,1485.7V1506.8M897.1,1485.7V1506.8M681.4,1485.7V1506.8M888.1,1485.7V1506.8M663.2,1485.7V1506.8M647.2,1485.7V1506.8M798.3,1485.7V1506.8M648.1,1485.7V1506.8M650.9,1485.7V1506.8" stroke="#000" stroke-width="0.9" fill="none"/>
<rect x="647.0" y="1485.7" width="15.3" height="21.1" fill="#000"/>
<line x1="638.5" y1="1496.7" x2="911.8" y2="1496.7" stroke="#000" stroke-width="1.6"/>
<line x1="643.5" y1="1351.9" x2="910.8" y2="1351.9" stroke="#F22" stroke-width="1.6" stroke-dasharray="5,4"/>
<line x1="643.5" y1="1520.5" x2="910.8" y2="1520.5" stroke="#F22" stroke-width="1.6" stroke-dasharray="5,4"/>
<path d="M647.0,1496.3 L648.2,1485.4 L650.0,1470.6 L651.4,1457.4 L653.1,1443.9 L655.0,1432.2 L656.6,1424.5 L658.3,1418.1 L660.1,1413.5 L662.0,1408.0 L663.5,1403.8 L665.0,1399.1 L666.6,1395.3 L668.3,1391.3 L670.0,1386.5 L671.5,1383.8 L673.1,1380.7 L674.8,1377.3 L676.4,1374.8 L678.2,1372.5 L680.0,1370.7 L681.4,1369.1 L682.8,1366.5 L684.3,1365.9 L685.8,1363.6 L687.3,1362.5 L688.9,1362.1 L690.4,1361.7 L692.0,1359.4 L693.6,1359.4 L695.2,1358.5 L696.9,1356.3 L698.6,1356.0 L700.2,1355.3 L701.9,1353.7 L703.5,1353.7 L705.0,1353.4 L706.7,1353.2 L708.3,1354.2 L709.8,1355.1 L711.3,1356.1 L712.8,1356.2 L714.4,1356.2 L716.0,1356.6 L717.4,1356.3 L718.9,1356.4 L720.3,1355.9 L721.8,1353.8 L723.3,1354.2 L724.8,1353.6 L726.4,1352.6 L728.0,1353.0 L729.5,1352.9 L731.0,1354.7 L732.5,1354.4 L734.0,1357.2 L735.6,1358.2 L737.2,1359.2 L738.8,1360.0 L740.4,1362.5 L742.0,1363.8 L743.4,1363.4 L744.8,1365.6 L746.1,1366.8 L747.4,1367.5 L748.8,1368.6 L750.2,1369.3 L751.7,1371.4 L753.3,1372.8 L755.1,1373.2 L757.0,1375.5 L758.3,1376.0 L759.6,1376.6 L761.0,1378.1 L762.5,1379.0 L764.0,1381.7 L765.5,1383.1 L767.1,1382.9 L768.7,1385.2 L770.3,1386.3 L772.0,1387.2 L773.6,1389.0 L775.3,1390.4 L777.0,1392.8 L778.7,1393.0 L780.3,1394.9 L782.0,1396.9 L783.5,1397.5 L785.0,1400.1 L786.5,1401.5 L788.0,1403.3 L789.5,1403.7 L791.0,1405.4 L792.6,1407.3 L794.1,1408.4 L795.7,1410.5 L797.3,1411.5 L798.8,1413.9 L800.4,1415.7 L802.0,1417.3 L803.6,1419.2 L805.2,1420.1 L806.8,1421.7 L808.4,1424.0 L810.0,1425.5 L811.5,1426.6 L812.9,1427.8 L814.4,1429.1 L815.9,1430.3 L817.4,1433.1 L818.9,1433.4 L820.4,1436.1 L821.9,1437.3 L823.4,1439.6 L824.9,1440.8 L826.5,1442.8 L828.0,1442.8 L829.5,1445.1 L831.0,1446.9 L832.5,1448.1 L834.0,1450.1 L835.5,1451.5 L837.0,1453.5 L838.5,1454.3 L840.0,1456.9 L841.6,1458.8 L843.2,1460.6 L844.8,1462.8 L846.5,1465.7 L848.2,1467.7 L849.8,1469.6 L851.5,1472.1 L853.2,1473.9 L854.9,1475.8 L856.5,1477.7 L858.1,1480.4 L859.7,1483.2 L861.2,1485.8 L862.7,1487.8 L864.1,1489.2 L865.4,1491.9 L866.7,1492.8 L867.9,1495.1 L869.0,1495.8 L871.5,1500.0 L873.5,1503.4 L875.1,1504.6 L876.4,1506.4 L877.5,1509.0 L878.7,1510.4 L880.0,1511.7 L881.6,1512.9 L883.2,1515.2 L884.7,1516.6 L886.1,1517.6 L887.6,1519.2 L889.0,1519.2 L890.7,1519.4 L892.4,1519.2 L894.1,1518.0 L895.6,1516.3 L897.0,1515.4 L899.1,1512.0 L900.8,1508.1 L902.0,1505.0" fill="none" stroke="#22DD22" stroke-width="1.6" stroke-linejoin="round"/>
<rect x="635.5" y="1332.7" width="281.3" height="207.3" fill="none" stroke="#000" stroke-width="3"/>
<line x1="626.5" y1="1496.7" x2="635.5" y2="1496.7" stroke="#000" stroke-width="1.8"/>
<text x="626.0" y="1503.2" font-size="18.72" font-weight="bold" text-anchor="end" textLength="10.0" lengthAdjust="spacingAndGlyphs">0</text>
<line x1="626.5" y1="1461.2" x2="635.5" y2="1461.2" stroke="#000" stroke-width="1.8"/>
<text x="626.0" y="1467.7" font-size="18.72" font-weight="bold" text-anchor="end" textLength="25.0" lengthAdjust="spacingAndGlyphs">0.1</text>
<line x1="626.5" y1="1425.7" x2="635.5" y2="1425.7" stroke="#000" stroke-width="1.8"/>
<text x="626.0" y="1432.2" font-size="18.72" font-weight="bold" text-anchor="end" textLength="25.0" lengthAdjust="spacingAndGlyphs">0.2</text>
<line x1="626.5" y1="1390.2" x2="635.5" y2="1390.2" stroke="#000" stroke-width="1.8"/>
<text x="626.0" y="1396.7" font-size="18.72" font-weight="bold" text-anchor="end" textLength="25.0" lengthAdjust="spacingAndGlyphs">0.3</text>
<line x1="626.5" y1="1354.7" x2="635.5" y2="1354.7" stroke="#000" stroke-width="1.8"/>
<text x="626.0" y="1361.2" font-size="18.72" font-weight="bold" text-anchor="end" textLength="25.0" lengthAdjust="spacingAndGlyphs">0.4</text>
<path d="M1178.7,1485.7V1506.8M935.7,1485.7V1506.8M1173.5,1485.7V1506.8M1065.0,1485.7V1506.8M973.8,1485.7V1506.8M938.6,1485.7V1506.8M953.9,1485.7V1506.8M1159.6,1485.7V1506.8M1168.8,1485.7V1506.8M944.8,1485.7V1506.8M934.3,1485.7V1506.8M948.2,1485.7V1506.8M1007.7,1485.7V1506.8M969.1,1485.7V1506.8M934.2,1485.7V1506.8M937.7,1485.7V1506.8M1022.4,1485.7V1506.8M1047.6,1485.7V1506.8M1175.0,1485.7V1506.8M1147.5,1485.7V1506.8M1131.4,1485.7V1506.8M1019.9,1485.7V1506.8M1159.4,1485.7V1506.8M1121.1,1485.7V1506.8M966.1,1485.7V1506.8M1012.2,1485.7V1506.8M999.9,1485.7V1506.8M1006.6,1485.7V1506.8M1166.7,1485.7V1506.8M1011.5,1485.7V1506.8M1089.6,1485.7V1506.8M948.6,1485.7V1506.8M1045.4,1485.7V1506.8M1162.0,1485.7V1506.8M1163.0,1485.7V1506.8M1172.8,1485.7V1506.8M964.9,1485.7V1506.8M1103.6,1485.7V1506.8M941.2,1485.7V1506.8M1013.4,1485.7V1506.8M1032.9,1485.7V1506.8M1173.3,1485.7V1506.8M1160.1,1485.7V1506.8M1030.7,1485.7V1506.8M1060.2,1485.7V1506.8M1005.6,1485.7V1506.8M965.3,1485.7V1506.8M1161.4,1485.7V1506.8M1006.3,1485.7V1506.8M986.0,1485.7V1506.8M951.5,1485.7V1506.8M981.0,1485.7V1506.8M1016.2,1485.7V1506.8M987.5,1485.7V1506.8M944.0,1485.7V1506.8M1159.3,1485.7V1506.8M983.1,1485.7V1506.8M934.6,1485.7V1506.8M1159.1,1485.7V1506.8M950.1,1485.7V1506.8M989.0,1485.7V1506.8M949.6,1485.7V1506.8M958.6,1485.7V1506.8M1124.5,1485.7V1506.8M1174.0,1485.7V1506.8M1172.8,1485.7V1506.8M942.2,1485.7V1506.8M1066.1,1485.7V1506.8M958.5,1485.7V1506.8M1158.5,1485.7V1506.8M953.9,1485.7V1506.8M938.0,1485.7V1506.8M1161.8,1485.7V1506.8M956.1,1485.7V1506.8M968.8,1485.7V1506.8M934.9,1485.7V1506.8M938.8,1485.7V1506.8M976.8,1485.7V1506.8M1020.2,1485.7V1506.8M1179.9,1485.7V1506.8M958.2,1485.7V1506.8M972.2,1485.7V1506.8M1132.8,1485.7V1506.8M1057.9,1485.7V1506.8M965.7,1485.7V1506.8M934.4,1485.7V1506.8M936.6,1485.7V1506.8M1055.7,1485.7V1506.8M939.8,1485.7V1506.8M941.7,1485.7V1506.8M960.0,1485.7V1506.8M977.6,1485.7V1506.8M1009.7,1485.7V1506.8M1173.3,1485.7V1506.8M964.3,1485.7V1506.8M934.8,1485.7V1506.8M965.6,1485.7V1506.8M936.0,1485.7V1506.8M1164.4,1485.7V1506.8M1011.7,1485.7V1506.8M946.2,1485.7V1506.8M1164.6,1485.7V1506.8M982.4,1485.7V1506.8M947.3,1485.7V1506.8M1171.9,1485.7V1506.8M958.8,1485.7V1506.8M961.9,1485.7V1506.8M971.9,1485.7V1506.8M945.8,1485.7V1506.8M1013.6,1485.7V1506.8M990.5,1485.7V1506.8M970.2,1485.7V1506.8M959.9,1485.7V1506.8M1077.0,1485.7V1506.8M937.0,1485.7V1506.8M1002.3,1485.7V1506.8M1154.8,1485.7V1506.8M1026.0,1485.7V1506.8M1129.6,1485.7V1506.8M1091.2,1485.7V1506.8M959.3,1485.7V1506.8M1059.6,1485.7V1506.8M961.1,1485.7V1506.8M1175.2,1485.7V1506.8M1176.0,1485.7V1506.8M942.5,1485.7V1506.8M944.2,1485.7V1506.8M981.7,1485.7V1506.8M1169.8,1485.7V1506.8M1157.8,1485.7V1506.8M1022.2,1485.7V1506.8M955.8,1485.7V1506.8M935.8,1485.7V1506.8M1179.7,1485.7V1506.8M1040.3,1485.7V1506.8M942.5,1485.7V1506.8M1116.4,1485.7V1506.8M965.5,1485.7V1506.8M967.1,1485.7V1506.8M1174.0,1485.7V1506.8M964.8,1485.7V1506.8M1058.0,1485.7V1506.8M1166.7,1485.7V1506.8M1078.2,1485.7V1506.8M1174.7,1485.7V1506.8M938.0,1485.7V1506.8M934.3,1485.7V1506.8M1006.4,1485.7V1506.8M964.2,1485.7V1506.8M954.8,1485.7V1506.8M1151.6,1485.7V1506.8M1087.7,1485.7V1506.8M1163.5,1485.7V1506.8M1113.3,1485.7V1506.8M1139.9,1485.7V1506.8M975.3,1485.7V1506.8M980.3,1485.7V1506.8M1171.0,1485.7V1506.8M960.0,1485.7V1506.8M1144.2,1485.7V1506.8M1135.0,1485.7V1506.8M1014.7,1485.7V1506.8M1106.1,1485.7V1506.8M1177.2,1485.7V1506.8M997.9,1485.7V1506.8M1050.0,1485.7V1506.8M1103.3,1485.7V1506.8M996.5,1485.7V1506.8M974.4,1485.7V1506.8M943.9,1485.7V1506.8M960.2,1485.7V1506.8M1017.9,1485.7V1506.8M934.0,1485.7V1506.8M1000.6,1485.7V1506.8M1126.5,1485.7V1506.8M981.2,1485.7V1506.8M944.7,1485.7V1506.8M934.3,1485.7V1506.8M990.4,1485.7V1506.8M989.9,1485.7V1506.8M1078.3,1485.7V1506.8M1131.0,1485.7V1506.8M1158.7,1485.7V1506.8M953.0,1485.7V1506.8M946.5,1485.7V1506.8M968.8,1485.7V1506.8M1164.4,1485.7V1506.8M953.0,1485.7V1506.8M1004.9,1485.7V1506.8M978.4,1485.7V1506.8" stroke="#000" stroke-width="0.9" fill="none"/>
<rect x="934.0" y="1485.7" width="14.8" height="21.1" fill="#000"/>
<line x1="923.0" y1="1495.0" x2="1195.0" y2="1495.0" stroke="#000" stroke-width="1.6"/>
<line x1="928.0" y1="1357.4" x2="1194.0" y2="1357.4" stroke="#F22" stroke-width="1.6" stroke-dasharray="5,4"/>
<line x1="928.0" y1="1533.4" x2="1194.0" y2="1533.4" stroke="#F22" stroke-width="1.6" stroke-dasharray="5,4"/>
<path d="M934.0,1496.0 L935.6,1485.6 L938.0,1470.7 L939.3,1460.0 L940.8,1451.0 L942.3,1439.4 L944.0,1430.3 L945.5,1423.4 L947.1,1416.4 L948.7,1409.4 L950.4,1404.2 L952.0,1397.3 L953.6,1393.2 L955.2,1388.2 L956.9,1384.4 L958.5,1381.1 L960.0,1377.5 L961.7,1373.2 L963.2,1369.2 L964.9,1366.0 L967.0,1363.9 L968.3,1362.5 L969.8,1361.6 L971.3,1362.1 L973.0,1359.9 L974.7,1360.7 L976.5,1359.4 L978.2,1359.0 L980.0,1358.7 L981.4,1358.1 L982.9,1358.8 L984.4,1358.3 L985.9,1359.0 L987.4,1358.9 L988.9,1360.2 L990.4,1360.4 L992.0,1359.7 L993.5,1360.2 L995.0,1360.8 L996.5,1359.6 L998.0,1359.0 L999.5,1359.1 L1001.0,1358.7 L1002.5,1359.3 L1004.0,1358.5 L1005.5,1358.4 L1007.0,1359.1 L1008.5,1358.2 L1010.0,1359.6 L1011.5,1359.7 L1012.8,1359.8 L1014.2,1361.2 L1015.5,1361.1 L1016.9,1362.9 L1018.3,1363.9 L1019.8,1364.2 L1021.4,1365.7 L1023.1,1367.4 L1025.0,1368.4 L1026.3,1369.4 L1027.6,1370.6 L1029.0,1371.7 L1030.4,1372.4 L1031.9,1373.9 L1033.4,1373.8 L1035.0,1375.6 L1036.6,1376.9 L1038.2,1377.6 L1039.8,1378.9 L1041.5,1379.9 L1043.2,1382.7 L1044.9,1383.1 L1046.6,1384.8 L1048.3,1387.1 L1050.0,1387.4 L1051.4,1390.2 L1052.8,1390.0 L1054.3,1391.3 L1055.8,1393.3 L1057.3,1394.8 L1058.8,1397.4 L1060.3,1398.9 L1061.9,1400.3 L1063.4,1401.3 L1065.0,1403.1 L1066.6,1404.3 L1068.1,1407.0 L1069.7,1407.9 L1071.2,1409.4 L1072.7,1411.8 L1074.2,1412.6 L1075.7,1414.6 L1077.2,1417.4 L1078.6,1417.6 L1080.0,1419.4 L1081.7,1421.6 L1083.4,1423.7 L1085.0,1426.2 L1086.6,1428.0 L1088.1,1430.3 L1089.7,1432.2 L1091.2,1434.4 L1092.8,1437.2 L1094.3,1438.9 L1095.8,1441.1 L1097.3,1444.1 L1098.8,1445.0 L1100.3,1447.4 L1101.9,1451.0 L1103.4,1452.5 L1105.0,1455.5 L1106.5,1456.6 L1108.1,1459.6 L1109.6,1462.6 L1111.2,1464.1 L1112.8,1467.4 L1114.5,1469.6 L1116.1,1471.8 L1117.7,1475.4 L1119.3,1476.8 L1120.9,1479.4 L1122.4,1482.2 L1124.0,1484.0 L1125.5,1487.3 L1126.9,1489.1 L1128.3,1491.2 L1129.7,1493.2 L1131.0,1495.9 L1132.9,1498.6 L1134.7,1501.0 L1136.3,1502.7 L1137.9,1504.8 L1139.4,1507.2 L1140.8,1508.3 L1142.3,1510.3 L1143.7,1513.7 L1145.1,1513.9 L1146.5,1517.1 L1148.0,1518.3 L1149.7,1520.6 L1151.4,1521.0 L1153.1,1523.2 L1154.9,1525.8 L1156.6,1526.0 L1158.2,1527.6 L1159.8,1529.4 L1161.3,1530.1 L1162.7,1530.9 L1164.0,1532.3 L1166.1,1531.4 L1167.8,1532.1 L1169.3,1529.9 L1170.6,1526.7 L1172.0,1525.7 L1174.0,1520.2 L1176.0,1515.0 L1177.8,1509.8 L1179.0,1506.0" fill="none" stroke="#22DD22" stroke-width="1.6" stroke-linejoin="round"/>
<rect x="920.0" y="1332.7" width="280.0" height="207.3" fill="none" stroke="#000" stroke-width="3"/>
<text x="852.6" y="1385.5" font-size="23.92" font-weight="bold" text-anchor="middle" textLength="50.0" lengthAdjust="spacingAndGlyphs">MYC</text>
<text x="804.5" y="1418.0" font-size="23.92" font-weight="bold" textLength="100.5" lengthAdjust="spacingAndGlyphs">TARGETS</text>
<text x="676.0" y="1445.4" font-size="23.92" font-weight="bold" textLength="117.0" lengthAdjust="spacingAndGlyphs">NES = 7.81</text>
<text x="676.0" y="1477.9" font-size="23.92" font-weight="bold" textLength="107.0" lengthAdjust="spacingAndGlyphs">FDR = 3.5</text>
<text x="783.0" y="1468.0" font-size="14.56" font-weight="bold" textLength="8.0" lengthAdjust="spacingAndGlyphs">e</text>
<text x="792.0" y="1477.9" font-size="23.92" font-weight="bold" textLength="33.0" lengthAdjust="spacingAndGlyphs">-03</text>
<text x="1140.5" y="1385.5" font-size="23.92" font-weight="bold" text-anchor="middle" textLength="50.0" lengthAdjust="spacingAndGlyphs">MYC</text>
<text x="1092.0" y="1418.0" font-size="23.92" font-weight="bold" textLength="100.5" lengthAdjust="spacingAndGlyphs">TARGETS</text>
<text x="953.0" y="1442.5" font-size="23.92" font-weight="bold" textLength="117.0" lengthAdjust="spacingAndGlyphs">NES = 6.91</text>
<text x="953.0" y="1475.0" font-size="23.92" font-weight="bold" textLength="107.0" lengthAdjust="spacingAndGlyphs">FDR = 3.0</text>
<text x="1060.0" y="1465.0" font-size="14.56" font-weight="bold" textLength="8.0" lengthAdjust="spacingAndGlyphs">e</text>
<text x="1069.0" y="1475.0" font-size="23.92" font-weight="bold" textLength="33.0" lengthAdjust="spacingAndGlyphs">-03</text>
<path d="M678.5,1742.0V1761.5M684.8,1742.0V1761.5M744.8,1742.0V1761.5M712.8,1742.0V1761.5M653.0,1742.0V1761.5M884.5,1742.0V1761.5M884.7,1742.0V1761.5M756.9,1742.0V1761.5M858.9,1742.0V1761.5M700.6,1742.0V1761.5M744.5,1742.0V1761.5M819.5,1742.0V1761.5M644.4,1742.0V1761.5M884.6,1742.0V1761.5M860.4,1742.0V1761.5M866.5,1742.0V1761.5M708.1,1742.0V1761.5M726.2,1742.0V1761.5M875.1,1742.0V1761.5M651.9,1742.0V1761.5M883.7,1742.0V1761.5M778.3,1742.0V1761.5M663.9,1742.0V1761.5M682.8,1742.0V1761.5M721.8,1742.0V1761.5M867.6,1742.0V1761.5M897.8,1742.0V1761.5M758.6,1742.0V1761.5M897.1,1742.0V1761.5M887.1,1742.0V1761.5M765.5,1742.0V1761.5M887.2,1742.0V1761.5M645.1,1742.0V1761.5M897.7,1742.0V1761.5M708.1,1742.0V1761.5M648.4,1742.0V1761.5M704.0,1742.0V1761.5M873.7,1742.0V1761.5M644.6,1742.0V1761.5M782.5,1742.0V1761.5M897.5,1742.0V1761.5M735.2,1742.0V1761.5M645.5,1742.0V1761.5M644.4,1742.0V1761.5M665.8,1742.0V1761.5M648.7,1742.0V1761.5M716.9,1742.0V1761.5M729.5,1742.0V1761.5M882.2,1742.0V1761.5M676.1,1742.0V1761.5M820.2,1742.0V1761.5M686.6,1742.0V1761.5M885.5,1742.0V1761.5M698.1,1742.0V1761.5M657.4,1742.0V1761.5M885.8,1742.0V1761.5M644.1,1742.0V1761.5M682.2,1742.0V1761.5M686.1,1742.0V1761.5M744.0,1742.0V1761.5M801.8,1742.0V1761.5M785.6,1742.0V1761.5M840.4,1742.0V1761.5M645.0,1742.0V1761.5M872.5,1742.0V1761.5M670.1,1742.0V1761.5M658.8,1742.0V1761.5M658.2,1742.0V1761.5M683.9,1742.0V1761.5M663.2,1742.0V1761.5M739.3,1742.0V1761.5M699.9,1742.0V1761.5M652.3,1742.0V1761.5M878.7,1742.0V1761.5M668.2,1742.0V1761.5M749.9,1742.0V1761.5M659.8,1742.0V1761.5M883.7,1742.0V1761.5M876.9,1742.0V1761.5M689.9,1742.0V1761.5M884.1,1742.0V1761.5M647.1,1742.0V1761.5M650.5,1742.0V1761.5M893.9,1742.0V1761.5M655.8,1742.0V1761.5M888.9,1742.0V1761.5M881.4,1742.0V1761.5M656.8,1742.0V1761.5M774.0,1742.0V1761.5M666.6,1742.0V1761.5M665.9,1742.0V1761.5M876.6,1742.0V1761.5M727.3,1742.0V1761.5M897.7,1742.0V1761.5M728.3,1742.0V1761.5M878.2,1742.0V1761.5M854.5,1742.0V1761.5M809.3,1742.0V1761.5M660.4,1742.0V1761.5M645.2,1742.0V1761.5M656.4,1742.0V1761.5M873.7,1742.0V1761.5M890.2,1742.0V1761.5M895.4,1742.0V1761.5M887.3,1742.0V1761.5M701.1,1742.0V1761.5M657.3,1742.0V1761.5M810.1,1742.0V1761.5M726.7,1742.0V1761.5M660.4,1742.0V1761.5M716.1,1742.0V1761.5M705.7,1742.0V1761.5M650.8,1742.0V1761.5M710.2,1742.0V1761.5M706.9,1742.0V1761.5M893.1,1742.0V1761.5M872.8,1742.0V1761.5M858.1,1742.0V1761.5M655.3,1742.0V1761.5M676.8,1742.0V1761.5M671.6,1742.0V1761.5M735.7,1742.0V1761.5M647.4,1742.0V1761.5M645.3,1742.0V1761.5M894.3,1742.0V1761.5M674.4,1742.0V1761.5M658.4,1742.0V1761.5M689.6,1742.0V1761.5M661.9,1742.0V1761.5M659.4,1742.0V1761.5M679.7,1742.0V1761.5M789.5,1742.0V1761.5M649.8,1742.0V1761.5M684.9,1742.0V1761.5M789.5,1742.0V1761.5M888.4,1742.0V1761.5M662.8,1742.0V1761.5M696.0,1742.0V1761.5M695.0,1742.0V1761.5M653.6,1742.0V1761.5M695.1,1742.0V1761.5M667.2,1742.0V1761.5M718.5,1742.0V1761.5M882.1,1742.0V1761.5M892.7,1742.0V1761.5M670.8,1742.0V1761.5M709.7,1742.0V1761.5M861.7,1742.0V1761.5M830.4,1742.0V1761.5M815.6,1742.0V1761.5M683.1,1742.0V1761.5M648.1,1742.0V1761.5M741.7,1742.0V1761.5M646.3,1742.0V1761.5M877.2,1742.0V1761.5M713.4,1742.0V1761.5M713.7,1742.0V1761.5M854.4,1742.0V1761.5M887.3,1742.0V1761.5M740.6,1742.0V1761.5M808.2,1742.0V1761.5M750.6,1742.0V1761.5M868.4,1742.0V1761.5M659.1,1742.0V1761.5M711.6,1742.0V1761.5M649.9,1742.0V1761.5M686.1,1742.0V1761.5M791.4,1742.0V1761.5M664.8,1742.0V1761.5M666.7,1742.0V1761.5M674.2,1742.0V1761.5M883.1,1742.0V1761.5M758.3,1742.0V1761.5M843.0,1742.0V1761.5M809.0,1742.0V1761.5M689.1,1742.0V1761.5M876.4,1742.0V1761.5M701.5,1742.0V1761.5M885.7,1742.0V1761.5M697.9,1742.0V1761.5M655.1,1742.0V1761.5M682.8,1742.0V1761.5M652.8,1742.0V1761.5M871.1,1742.0V1761.5M696.3,1742.0V1761.5M715.0,1742.0V1761.5M655.1,1742.0V1761.5M644.2,1742.0V1761.5M663.7,1742.0V1761.5M661.9,1742.0V1761.5" stroke="#000" stroke-width="0.9" fill="none"/>
<rect x="644.0" y="1742.0" width="15.2" height="19.5" fill="#000"/>
<line x1="640.0" y1="1752.0" x2="911.0" y2="1752.0" stroke="#000" stroke-width="1.6"/>
<line x1="645.0" y1="1607.0" x2="910.0" y2="1607.0" stroke="#F22" stroke-width="1.6" stroke-dasharray="5,4"/>
<line x1="645.0" y1="1761.5" x2="910.0" y2="1761.5" stroke="#F22" stroke-width="1.6" stroke-dasharray="5,4"/>
<path d="M644.0,1751.7 L645.6,1740.7 L648.0,1724.4 L649.3,1718.5 L650.8,1709.8 L652.3,1702.9 L654.0,1696.9 L655.5,1694.5 L657.1,1692.4 L658.7,1690.4 L660.4,1689.1 L662.0,1688.4 L663.5,1687.6 L664.9,1686.2 L666.4,1686.4 L668.0,1686.1 L670.0,1683.9 L671.3,1682.5 L672.7,1681.4 L674.3,1681.1 L675.9,1679.6 L677.5,1678.7 L679.2,1677.1 L680.8,1674.5 L682.5,1672.9 L684.0,1671.6 L685.7,1669.8 L687.3,1669.1 L688.9,1667.6 L690.5,1666.0 L692.1,1663.0 L693.7,1662.3 L695.3,1659.5 L697.0,1657.9 L698.5,1656.7 L700.1,1653.8 L701.6,1652.0 L703.2,1651.6 L704.8,1648.8 L706.4,1647.1 L707.9,1645.7 L709.5,1644.1 L711.0,1641.1 L712.7,1639.8 L714.4,1638.0 L716.0,1636.2 L717.7,1633.8 L719.3,1632.6 L720.9,1631.4 L722.5,1628.6 L724.0,1627.1 L725.7,1624.3 L727.4,1622.5 L729.1,1621.2 L730.7,1618.3 L732.2,1617.9 L733.7,1616.2 L735.0,1613.3 L737.0,1612.5 L738.6,1609.5 L740.1,1608.8 L742.0,1608.2 L743.4,1607.4 L744.9,1608.6 L746.5,1609.3 L748.2,1610.6 L750.0,1611.0 L752.0,1613.5 L753.3,1615.0 L754.7,1615.7 L756.2,1616.9 L757.7,1617.7 L759.2,1620.1 L760.8,1621.5 L762.4,1623.8 L764.0,1625.4 L765.5,1626.7 L767.0,1627.4 L768.6,1629.7 L770.2,1631.1 L771.7,1631.7 L773.3,1634.3 L774.8,1635.2 L776.4,1635.5 L777.9,1638.2 L779.4,1638.1 L781.0,1639.7 L782.5,1641.6 L784.0,1642.4 L785.4,1643.3 L786.9,1644.5 L788.4,1645.1 L789.9,1646.0 L791.5,1647.1 L793.2,1648.4 L795.0,1651.4 L796.3,1652.9 L797.8,1654.2 L799.2,1656.3 L800.7,1657.4 L802.3,1659.2 L803.9,1661.4 L805.5,1664.4 L807.1,1665.0 L808.7,1667.9 L810.3,1669.6 L811.9,1672.6 L813.5,1673.8 L815.0,1675.7 L816.6,1677.9 L818.2,1680.1 L819.8,1682.5 L821.4,1683.7 L823.0,1686.5 L824.6,1687.2 L826.2,1689.4 L827.8,1691.1 L829.3,1693.1 L830.9,1696.3 L832.5,1698.3 L834.0,1699.4 L835.5,1701.6 L837.1,1704.2 L838.6,1707.0 L840.1,1709.4 L841.6,1711.6 L843.1,1713.6 L844.6,1715.1 L846.1,1717.9 L847.6,1719.8 L849.1,1722.6 L850.5,1724.9 L852.0,1726.5 L853.6,1729.0 L855.2,1732.4 L856.9,1733.6 L858.5,1737.5 L860.1,1740.2 L861.7,1742.7 L863.3,1744.0 L864.8,1746.6 L866.3,1748.7 L867.7,1750.6 L869.0,1752.9 L870.9,1754.5 L872.6,1755.5 L874.2,1757.8 L875.7,1758.2 L877.2,1759.2 L878.6,1760.0 L880.0,1759.1 L881.6,1760.7 L883.2,1760.3 L884.8,1759.4 L886.2,1758.7 L887.6,1757.8 L889.0,1756.4 L891.1,1755.4 L893.1,1752.5 L894.8,1751.4 L896.0,1750.0" fill="none" stroke="#22DD22" stroke-width="1.6" stroke-linejoin="round"/>
<rect x="637.0" y="1588.2" width="279.0" height="181.1" fill="none" stroke="#000" stroke-width="3"/>
<line x1="628.0" y1="1752.0" x2="637.0" y2="1752.0" stroke="#000" stroke-width="1.8"/>
<text x="627.5" y="1758.5" font-size="18.72" font-weight="bold" text-anchor="end" textLength="10.0" lengthAdjust="spacingAndGlyphs">0</text>
<line x1="628.0" y1="1716.5" x2="637.0" y2="1716.5" stroke="#000" stroke-width="1.8"/>
<text x="627.5" y="1723.0" font-size="18.72" font-weight="bold" text-anchor="end" textLength="25.0" lengthAdjust="spacingAndGlyphs">0.1</text>
<line x1="628.0" y1="1681.0" x2="637.0" y2="1681.0" stroke="#000" stroke-width="1.8"/>
<text x="627.5" y="1687.5" font-size="18.72" font-weight="bold" text-anchor="end" textLength="25.0" lengthAdjust="spacingAndGlyphs">0.2</text>
<line x1="628.0" y1="1645.5" x2="637.0" y2="1645.5" stroke="#000" stroke-width="1.8"/>
<text x="627.5" y="1652.0" font-size="18.72" font-weight="bold" text-anchor="end" textLength="25.0" lengthAdjust="spacingAndGlyphs">0.3</text>
<line x1="628.0" y1="1610.0" x2="637.0" y2="1610.0" stroke="#000" stroke-width="1.8"/>
<text x="627.5" y="1616.5" font-size="18.72" font-weight="bold" text-anchor="end" textLength="25.0" lengthAdjust="spacingAndGlyphs">0.4</text>
<line x1="638.0" y1="1769.3" x2="638.0" y2="1776.3" stroke="#000" stroke-width="2"/>
<text x="638.0" y="1800.6" font-size="19.76" font-weight="bold" text-anchor="middle" textLength="9.1" lengthAdjust="spacingAndGlyphs">0</text>
<line x1="699.0" y1="1769.3" x2="699.0" y2="1776.3" stroke="#000" stroke-width="2"/>
<text x="699.0" y="1800.6" font-size="19.76" font-weight="bold" text-anchor="middle" textLength="36.3" lengthAdjust="spacingAndGlyphs">5000</text>
<line x1="753.7" y1="1769.3" x2="753.7" y2="1776.3" stroke="#000" stroke-width="2"/>
<text x="753.7" y="1800.6" font-size="19.76" font-weight="bold" text-anchor="middle" textLength="45.4" lengthAdjust="spacingAndGlyphs">10000</text>
<line x1="810.4" y1="1769.3" x2="810.4" y2="1776.3" stroke="#000" stroke-width="2"/>
<text x="810.4" y="1800.6" font-size="19.76" font-weight="bold" text-anchor="middle" textLength="45.4" lengthAdjust="spacingAndGlyphs">15000</text>
<line x1="869.0" y1="1769.3" x2="869.0" y2="1776.3" stroke="#000" stroke-width="2"/>
<text x="869.0" y="1800.6" font-size="19.76" font-weight="bold" text-anchor="middle" textLength="45.4" lengthAdjust="spacingAndGlyphs">20000</text>
<path d="M936.4,1740.0V1755.0M938.6,1740.0V1755.0M955.0,1740.0V1755.0M1180.0,1740.0V1755.0M1055.6,1740.0V1755.0M945.6,1740.0V1755.0M936.5,1740.0V1755.0M1014.1,1740.0V1755.0M1180.1,1740.0V1755.0M1164.8,1740.0V1755.0M976.8,1740.0V1755.0M1144.5,1740.0V1755.0M1162.1,1740.0V1755.0M981.8,1740.0V1755.0M939.7,1740.0V1755.0M935.9,1740.0V1755.0M1181.6,1740.0V1755.0M947.2,1740.0V1755.0M1174.3,1740.0V1755.0M1181.2,1740.0V1755.0M956.0,1740.0V1755.0M957.5,1740.0V1755.0M947.5,1740.0V1755.0M1161.0,1740.0V1755.0M976.7,1740.0V1755.0M967.2,1740.0V1755.0M950.3,1740.0V1755.0M1164.8,1740.0V1755.0M941.0,1740.0V1755.0M1063.2,1740.0V1755.0M990.7,1740.0V1755.0M969.6,1740.0V1755.0M1162.4,1740.0V1755.0M942.5,1740.0V1755.0M1110.9,1740.0V1755.0M949.4,1740.0V1755.0M960.0,1740.0V1755.0M984.8,1740.0V1755.0M1183.9,1740.0V1755.0M1159.3,1740.0V1755.0M946.4,1740.0V1755.0M1179.4,1740.0V1755.0M1016.3,1740.0V1755.0M1139.3,1740.0V1755.0M940.4,1740.0V1755.0M937.7,1740.0V1755.0M1018.9,1740.0V1755.0M934.1,1740.0V1755.0M939.3,1740.0V1755.0M1075.3,1740.0V1755.0M936.2,1740.0V1755.0M1170.5,1740.0V1755.0M935.0,1740.0V1755.0M939.2,1740.0V1755.0M1045.4,1740.0V1755.0M962.9,1740.0V1755.0M1024.0,1740.0V1755.0M966.6,1740.0V1755.0M1081.9,1740.0V1755.0M1171.9,1740.0V1755.0M955.8,1740.0V1755.0M956.7,1740.0V1755.0M1008.9,1740.0V1755.0M1172.4,1740.0V1755.0M944.1,1740.0V1755.0M941.3,1740.0V1755.0M1006.3,1740.0V1755.0M934.8,1740.0V1755.0M1174.1,1740.0V1755.0M1170.0,1740.0V1755.0M1176.3,1740.0V1755.0M1129.0,1740.0V1755.0M936.0,1740.0V1755.0M1006.8,1740.0V1755.0M1183.1,1740.0V1755.0M980.1,1740.0V1755.0M1114.7,1740.0V1755.0M1173.2,1740.0V1755.0M1120.8,1740.0V1755.0M1013.5,1740.0V1755.0M1161.8,1740.0V1755.0M1184.0,1740.0V1755.0M1030.6,1740.0V1755.0M1163.1,1740.0V1755.0M1176.6,1740.0V1755.0M939.2,1740.0V1755.0M1104.4,1740.0V1755.0M1154.7,1740.0V1755.0M934.0,1740.0V1755.0M1160.2,1740.0V1755.0M1162.8,1740.0V1755.0M1179.6,1740.0V1755.0M1173.7,1740.0V1755.0M1165.0,1740.0V1755.0M1070.8,1740.0V1755.0M1179.3,1740.0V1755.0M966.4,1740.0V1755.0M934.4,1740.0V1755.0M962.7,1740.0V1755.0M1175.2,1740.0V1755.0M951.8,1740.0V1755.0M1097.9,1740.0V1755.0M1002.1,1740.0V1755.0M1162.0,1740.0V1755.0M953.3,1740.0V1755.0M1068.1,1740.0V1755.0M962.5,1740.0V1755.0M1162.3,1740.0V1755.0M976.2,1740.0V1755.0M1172.8,1740.0V1755.0M1004.7,1740.0V1755.0M1033.8,1740.0V1755.0M1164.8,1740.0V1755.0M1001.9,1740.0V1755.0M997.0,1740.0V1755.0M1006.9,1740.0V1755.0M938.3,1740.0V1755.0M950.0,1740.0V1755.0M1010.9,1740.0V1755.0M1025.1,1740.0V1755.0M968.2,1740.0V1755.0M986.9,1740.0V1755.0M935.5,1740.0V1755.0M1003.4,1740.0V1755.0M993.1,1740.0V1755.0M1175.6,1740.0V1755.0M1110.0,1740.0V1755.0M1012.1,1740.0V1755.0M1011.9,1740.0V1755.0M1006.0,1740.0V1755.0M1110.5,1740.0V1755.0M937.9,1740.0V1755.0M1075.3,1740.0V1755.0M1043.1,1740.0V1755.0M938.1,1740.0V1755.0M1164.4,1740.0V1755.0M1169.2,1740.0V1755.0M950.9,1740.0V1755.0M1037.5,1740.0V1755.0M1015.3,1740.0V1755.0M979.8,1740.0V1755.0M947.2,1740.0V1755.0M934.2,1740.0V1755.0M1180.7,1740.0V1755.0M1180.2,1740.0V1755.0M1163.9,1740.0V1755.0M963.4,1740.0V1755.0M1015.6,1740.0V1755.0M1160.5,1740.0V1755.0M979.5,1740.0V1755.0M1129.1,1740.0V1755.0M1001.2,1740.0V1755.0M1014.2,1740.0V1755.0M973.8,1740.0V1755.0M1177.6,1740.0V1755.0M942.6,1740.0V1755.0M976.8,1740.0V1755.0M1182.5,1740.0V1755.0M954.9,1740.0V1755.0M1167.0,1740.0V1755.0M934.1,1740.0V1755.0M967.7,1740.0V1755.0M1110.8,1740.0V1755.0M1017.4,1740.0V1755.0M1046.3,1740.0V1755.0M1020.6,1740.0V1755.0M1183.0,1740.0V1755.0M948.0,1740.0V1755.0M944.3,1740.0V1755.0M1014.2,1740.0V1755.0M1179.4,1740.0V1755.0M943.1,1740.0V1755.0M1017.0,1740.0V1755.0M996.0,1740.0V1755.0M1101.3,1740.0V1755.0M1166.5,1740.0V1755.0M938.7,1740.0V1755.0M934.4,1740.0V1755.0M937.1,1740.0V1755.0M1023.3,1740.0V1755.0M1009.0,1740.0V1755.0M1127.2,1740.0V1755.0M1158.3,1740.0V1755.0M1178.0,1740.0V1755.0M984.3,1740.0V1755.0M1102.0,1740.0V1755.0M938.5,1740.0V1755.0M1172.1,1740.0V1755.0M939.2,1740.0V1755.0M1166.3,1740.0V1755.0" stroke="#000" stroke-width="0.9" fill="none"/>
<rect x="934.0" y="1740.0" width="15.1" height="15.0" fill="#000"/>
<line x1="924.0" y1="1747.0" x2="1195.0" y2="1747.0" stroke="#000" stroke-width="1.6"/>
<line x1="929.0" y1="1609.0" x2="1194.0" y2="1609.0" stroke="#F22" stroke-width="1.6" stroke-dasharray="5,4"/>
<line x1="929.0" y1="1764.0" x2="1194.0" y2="1764.0" stroke="#F22" stroke-width="1.6" stroke-dasharray="5,4"/>
<path d="M934.0,1746.8 L935.6,1733.0 L938.0,1715.7 L939.5,1707.7 L941.1,1701.1 L943.0,1694.9 L945.0,1688.2 L946.4,1685.9 L947.9,1680.8 L949.5,1679.1 L951.2,1674.3 L953.0,1670.9 L955.0,1668.6 L956.3,1666.3 L957.8,1662.7 L959.4,1660.7 L961.0,1658.0 L962.6,1655.8 L964.3,1652.4 L965.9,1651.2 L967.4,1649.3 L968.8,1646.9 L970.0,1645.8 L972.0,1643.7 L973.7,1641.5 L975.1,1641.8 L976.5,1641.6 L978.0,1641.2 L979.6,1640.7 L981.1,1642.6 L982.6,1644.3 L984.2,1643.9 L986.0,1644.3 L987.4,1643.8 L988.9,1641.8 L990.4,1639.1 L992.0,1638.2 L993.6,1635.4 L995.3,1634.5 L997.0,1632.3 L998.5,1630.1 L1000.2,1629.5 L1001.8,1627.2 L1003.5,1625.0 L1005.2,1624.3 L1006.8,1622.9 L1008.5,1621.7 L1010.0,1620.7 L1011.7,1619.6 L1013.3,1619.5 L1014.8,1619.5 L1016.3,1619.5 L1017.8,1620.5 L1019.4,1619.3 L1021.0,1618.2 L1022.5,1618.4 L1023.9,1616.7 L1025.4,1615.2 L1026.9,1613.6 L1028.5,1611.3 L1030.0,1609.8 L1031.5,1608.6 L1033.0,1609.5 L1034.4,1609.9 L1035.7,1610.0 L1037.0,1609.8 L1038.3,1612.5 L1039.7,1613.6 L1041.2,1614.5 L1043.0,1615.3 L1045.0,1618.6 L1046.2,1619.2 L1047.5,1620.3 L1048.9,1620.4 L1050.4,1622.9 L1051.9,1622.9 L1053.5,1625.0 L1055.1,1625.7 L1056.7,1627.5 L1058.3,1629.9 L1060.0,1631.1 L1061.7,1632.7 L1063.3,1633.2 L1064.9,1634.8 L1066.5,1636.7 L1068.0,1637.2 L1069.6,1639.4 L1071.2,1642.0 L1072.9,1643.3 L1074.5,1645.1 L1076.1,1645.8 L1077.7,1648.2 L1079.3,1650.1 L1080.9,1651.7 L1082.5,1652.9 L1084.0,1654.2 L1085.6,1655.7 L1087.1,1659.1 L1088.6,1661.0 L1090.0,1661.6 L1091.6,1664.6 L1093.2,1666.2 L1094.7,1668.8 L1096.2,1671.4 L1097.7,1672.8 L1099.1,1675.6 L1100.6,1677.2 L1102.0,1680.0 L1103.5,1681.4 L1104.9,1684.1 L1106.4,1686.4 L1108.0,1689.7 L1109.5,1690.4 L1111.0,1693.5 L1112.5,1694.3 L1114.0,1698.0 L1115.6,1698.5 L1117.2,1700.4 L1118.7,1702.6 L1120.3,1705.9 L1121.9,1707.4 L1123.4,1709.8 L1125.0,1711.1 L1126.5,1712.3 L1128.0,1714.7 L1129.6,1717.1 L1131.3,1720.2 L1133.0,1720.9 L1134.7,1723.3 L1136.4,1726.6 L1138.1,1727.4 L1139.7,1731.1 L1141.3,1732.0 L1142.8,1734.5 L1144.3,1736.7 L1145.7,1739.0 L1147.0,1739.2 L1149.0,1743.5 L1150.8,1744.9 L1152.4,1748.4 L1153.9,1749.4 L1155.3,1752.8 L1156.7,1753.7 L1158.0,1755.5 L1159.8,1757.3 L1161.4,1759.8 L1162.9,1761.3 L1164.4,1763.4 L1166.0,1763.2 L1167.5,1762.6 L1169.0,1763.1 L1170.6,1760.7 L1172.1,1759.5 L1173.6,1759.4 L1175.0,1757.8 L1177.1,1754.3 L1179.1,1751.0 L1180.8,1745.7 L1182.0,1744.0" fill="none" stroke="#22DD22" stroke-width="1.6" stroke-linejoin="round"/>
<rect x="921.0" y="1588.2" width="279.0" height="181.1" fill="none" stroke="#000" stroke-width="3"/>
<line x1="927.8" y1="1769.3" x2="927.8" y2="1776.3" stroke="#000" stroke-width="2"/>
<text x="927.8" y="1800.6" font-size="19.76" font-weight="bold" text-anchor="middle" textLength="9.1" lengthAdjust="spacingAndGlyphs">0</text>
<line x1="986.5" y1="1769.3" x2="986.5" y2="1776.3" stroke="#000" stroke-width="2"/>
<text x="986.5" y="1800.6" font-size="19.76" font-weight="bold" text-anchor="middle" textLength="36.3" lengthAdjust="spacingAndGlyphs">5000</text>
<line x1="1040.4" y1="1769.3" x2="1040.4" y2="1776.3" stroke="#000" stroke-width="2"/>
<text x="1040.4" y="1800.6" font-size="19.76" font-weight="bold" text-anchor="middle" textLength="45.4" lengthAdjust="spacingAndGlyphs">10000</text>
<line x1="1098.0" y1="1769.3" x2="1098.0" y2="1776.3" stroke="#000" stroke-width="2"/>
<text x="1098.0" y="1800.6" font-size="19.76" font-weight="bold" text-anchor="middle" textLength="45.4" lengthAdjust="spacingAndGlyphs">15000</text>
<line x1="1157.8" y1="1769.3" x2="1157.8" y2="1776.3" stroke="#000" stroke-width="2"/>
<text x="1157.8" y="1800.6" font-size="19.76" font-weight="bold" text-anchor="middle" textLength="45.4" lengthAdjust="spacingAndGlyphs">20000</text>
<text x="908.0" y="1638.0" font-size="23.92" font-weight="bold" text-anchor="end" textLength="96.0" lengthAdjust="spacingAndGlyphs">MTORC1</text>
<text x="687.0" y="1697.0" font-size="23.92" font-weight="bold" textLength="117.5" lengthAdjust="spacingAndGlyphs">NES = 6.31</text>
<text x="687.0" y="1729.0" font-size="23.92" font-weight="bold" textLength="107.0" lengthAdjust="spacingAndGlyphs">FDR = 3.5</text>
<text x="794.0" y="1719.0" font-size="14.56" font-weight="bold" textLength="8.0" lengthAdjust="spacingAndGlyphs">e</text>
<text x="803.0" y="1729.0" font-size="23.92" font-weight="bold" textLength="33.0" lengthAdjust="spacingAndGlyphs">-03</text>
<text x="1185.0" y="1638.0" font-size="23.92" font-weight="bold" text-anchor="end" textLength="96.0" lengthAdjust="spacingAndGlyphs">MTORC1</text>
<text x="965.7" y="1697.0" font-size="23.92" font-weight="bold" textLength="117.5" lengthAdjust="spacingAndGlyphs">NES = 6.04</text>
<text x="965.7" y="1729.0" font-size="23.92" font-weight="bold" textLength="107.0" lengthAdjust="spacingAndGlyphs">FDR = 3.0</text>
<text x="1073.0" y="1719.0" font-size="14.56" font-weight="bold" textLength="8.0" lengthAdjust="spacingAndGlyphs">e</text>
<text x="1082.0" y="1729.0" font-size="23.92" font-weight="bold" textLength="33.0" lengthAdjust="spacingAndGlyphs">-03</text>
<text x="750.5" y="1830.0" font-size="22.88" font-weight="bold" textLength="55.2" lengthAdjust="spacingAndGlyphs">RANK</text>
<text x="1036.5" y="1830.0" font-size="22.88" font-weight="bold" textLength="54.8" lengthAdjust="spacingAndGlyphs">RANK</text>
<text x="590.1" y="1519.2" font-size="21.84" font-weight="bold" textLength="170.4" lengthAdjust="spacingAndGlyphs" transform="rotate(-90 590.1 1519.2)">Enrichment score</text>
<text x="590.1" y="1771.0" font-size="21.84" font-weight="bold" textLength="172.0" lengthAdjust="spacingAndGlyphs" transform="rotate(-90 590.1 1771.0)">Enrichment score</text>
<rect x="1338.3" y="591.6" width="454.2" height="1222.2" fill="#9A9A9A"/>
<rect x="1339.1" y="592.4" width="25.1" height="27.5" fill="#A02E80"/>
<rect x="1365.8" y="592.4" width="25.1" height="27.5" fill="#FCFBBE"/>
<rect x="1392.5" y="592.4" width="25.1" height="27.5" fill="#A02E80"/>
<rect x="1419.3" y="592.4" width="25.1" height="27.5" fill="#701D81"/>
<rect x="1446.0" y="592.4" width="25.1" height="27.5" fill="#451077"/>
<rect x="1472.7" y="592.4" width="25.1" height="27.5" fill="#EF5E5D"/>
<rect x="1499.4" y="592.4" width="25.1" height="27.5" fill="#CE4070"/>
<rect x="1526.1" y="592.4" width="25.1" height="27.5" fill="#EF5E5D"/>
<rect x="1552.9" y="592.4" width="25.1" height="27.5" fill="#A02E80"/>
<rect x="1579.6" y="592.4" width="25.1" height="27.5" fill="#A02E80"/>
<rect x="1606.3" y="592.4" width="25.1" height="27.5" fill="#A02E80"/>
<rect x="1633.0" y="592.4" width="25.1" height="27.5" fill="#701D81"/>
<rect x="1659.7" y="592.4" width="25.1" height="27.5" fill="#EF5E5D"/>
<rect x="1686.5" y="592.4" width="25.1" height="27.5" fill="#A02E80"/>
<rect x="1713.2" y="592.4" width="25.1" height="27.5" fill="#A02E80"/>
<rect x="1739.9" y="592.4" width="25.1" height="27.5" fill="#A02E80"/>
<rect x="1766.6" y="592.4" width="25.1" height="27.5" fill="#701D81"/>
<text x="1333.3" y="612.9" font-size="24.96" font-weight="bold" text-anchor="end" font-style="italic" textLength="95.5" lengthAdjust="spacingAndGlyphs">MTHFD2</text>
<rect x="1339.1" y="621.5" width="25.1" height="27.5" fill="#701D81"/>
<rect x="1365.8" y="621.5" width="25.1" height="27.5" fill="#A02E80"/>
<rect x="1392.5" y="621.5" width="25.1" height="27.5" fill="#A02E80"/>
<rect x="1419.3" y="621.5" width="25.1" height="27.5" fill="#1C1044"/>
<rect x="1446.0" y="621.5" width="25.1" height="27.5" fill="#CE4070"/>
<rect x="1472.7" y="621.5" width="25.1" height="27.5" fill="#A02E80"/>
<rect x="1499.4" y="621.5" width="25.1" height="27.5" fill="#CE4070"/>
<rect x="1526.1" y="621.5" width="25.1" height="27.5" fill="#FDC68C"/>
<rect x="1552.9" y="621.5" width="25.1" height="27.5" fill="#CE4070"/>
<rect x="1579.6" y="621.5" width="25.1" height="27.5" fill="#CE4070"/>
<rect x="1606.3" y="621.5" width="25.1" height="27.5" fill="#701D81"/>
<rect x="1633.0" y="621.5" width="25.1" height="27.5" fill="#701D81"/>
<rect x="1659.7" y="621.5" width="25.1" height="27.5" fill="#A02E80"/>
<rect x="1686.5" y="621.5" width="25.1" height="27.5" fill="#A02E80"/>
<rect x="1713.2" y="621.5" width="25.1" height="27.5" fill="#CE4070"/>
<rect x="1739.9" y="621.5" width="25.1" height="27.5" fill="#EF5E5D"/>
<rect x="1766.6" y="621.5" width="25.1" height="27.5" fill="#FB9468"/>
<text x="1333.3" y="642.0" font-size="24.96" font-weight="bold" text-anchor="end" font-style="italic" textLength="44.3" lengthAdjust="spacingAndGlyphs">HK2</text>
<rect x="1339.1" y="650.6" width="25.1" height="27.5" fill="#701D81"/>
<rect x="1365.8" y="650.6" width="25.1" height="27.5" fill="#FCFBBE"/>
<rect x="1392.5" y="650.6" width="25.1" height="27.5" fill="#CE4070"/>
<rect x="1419.3" y="650.6" width="25.1" height="27.5" fill="#A02E80"/>
<rect x="1446.0" y="650.6" width="25.1" height="27.5" fill="#CE4070"/>
<rect x="1472.7" y="650.6" width="25.1" height="27.5" fill="#701D81"/>
<rect x="1499.4" y="650.6" width="25.1" height="27.5" fill="#A02E80"/>
<rect x="1526.1" y="650.6" width="25.1" height="27.5" fill="#701D81"/>
<rect x="1552.9" y="650.6" width="25.1" height="27.5" fill="#EF5E5D"/>
<rect x="1579.6" y="650.6" width="25.1" height="27.5" fill="#A02E80"/>
<rect x="1606.3" y="650.6" width="25.1" height="27.5" fill="#701D81"/>
<rect x="1633.0" y="650.6" width="25.1" height="27.5" fill="#A02E80"/>
<rect x="1659.7" y="650.6" width="25.1" height="27.5" fill="#701D81"/>
<rect x="1686.5" y="650.6" width="25.1" height="27.5" fill="#CE4070"/>
<rect x="1713.2" y="650.6" width="25.1" height="27.5" fill="#CE4070"/>
<rect x="1739.9" y="650.6" width="25.1" height="27.5" fill="#A02E80"/>
<rect x="1766.6" y="650.6" width="25.1" height="27.5" fill="#EF5E5D"/>
<text x="1333.3" y="671.1" font-size="24.96" font-weight="bold" text-anchor="end" font-style="italic" textLength="58.5" lengthAdjust="spacingAndGlyphs">PDK1</text>
<rect x="1339.1" y="679.7" width="25.1" height="27.5" fill="#A02E80"/>
<rect x="1365.8" y="679.7" width="25.1" height="27.5" fill="#451077"/>
<rect x="1392.5" y="679.7" width="25.1" height="27.5" fill="#EF5E5D"/>
<rect x="1419.3" y="679.7" width="25.1" height="27.5" fill="#CE4070"/>
<rect x="1446.0" y="679.7" width="25.1" height="27.5" fill="#FB9468"/>
<rect x="1472.7" y="679.7" width="25.1" height="27.5" fill="#A02E80"/>
<rect x="1499.4" y="679.7" width="25.1" height="27.5" fill="#CE4070"/>
<rect x="1526.1" y="679.7" width="25.1" height="27.5" fill="#FB9468"/>
<rect x="1552.9" y="679.7" width="25.1" height="27.5" fill="#EF5E5D"/>
<rect x="1579.6" y="679.7" width="25.1" height="27.5" fill="#CE4070"/>
<rect x="1606.3" y="679.7" width="25.1" height="27.5" fill="#A02E80"/>
<rect x="1633.0" y="679.7" width="25.1" height="27.5" fill="#A02E80"/>
<rect x="1659.7" y="679.7" width="25.1" height="27.5" fill="#451077"/>
<rect x="1686.5" y="679.7" width="25.1" height="27.5" fill="#451077"/>
<rect x="1713.2" y="679.7" width="25.1" height="27.5" fill="#701D81"/>
<rect x="1739.9" y="679.7" width="25.1" height="27.5" fill="#A02E80"/>
<rect x="1766.6" y="679.7" width="25.1" height="27.5" fill="#CE4070"/>
<text x="1333.3" y="700.2" font-size="24.96" font-weight="bold" text-anchor="end" font-style="italic" textLength="49.8" lengthAdjust="spacingAndGlyphs">IDH1</text>
<rect x="1339.1" y="708.8" width="25.1" height="27.5" fill="#701D81"/>
<rect x="1365.8" y="708.8" width="25.1" height="27.5" fill="#CE4070"/>
<rect x="1392.5" y="708.8" width="25.1" height="27.5" fill="#701D81"/>
<rect x="1419.3" y="708.8" width="25.1" height="27.5" fill="#701D81"/>
<rect x="1446.0" y="708.8" width="25.1" height="27.5" fill="#701D81"/>
<rect x="1472.7" y="708.8" width="25.1" height="27.5" fill="#701D81"/>
<rect x="1499.4" y="708.8" width="25.1" height="27.5" fill="#EF5E5D"/>
<rect x="1526.1" y="708.8" width="25.1" height="27.5" fill="#CE4070"/>
<rect x="1552.9" y="708.8" width="25.1" height="27.5" fill="#EF5E5D"/>
<rect x="1579.6" y="708.8" width="25.1" height="27.5" fill="#EF5E5D"/>
<rect x="1606.3" y="708.8" width="25.1" height="27.5" fill="#701D81"/>
<rect x="1633.0" y="708.8" width="25.1" height="27.5" fill="#701D81"/>
<rect x="1659.7" y="708.8" width="25.1" height="27.5" fill="#EF5E5D"/>
<rect x="1686.5" y="708.8" width="25.1" height="27.5" fill="#FB9468"/>
<rect x="1713.2" y="708.8" width="25.1" height="27.5" fill="#EF5E5D"/>
<rect x="1739.9" y="708.8" width="25.1" height="27.5" fill="#CE4070"/>
<rect x="1766.6" y="708.8" width="25.1" height="27.5" fill="#CE4070"/>
<text x="1333.3" y="729.3" font-size="24.96" font-weight="bold" text-anchor="end" font-style="italic" textLength="75.3" lengthAdjust="spacingAndGlyphs">EDEM1</text>
<rect x="1339.1" y="737.9" width="25.1" height="27.5" fill="#CE4070"/>
<rect x="1365.8" y="737.9" width="25.1" height="27.5" fill="#451077"/>
<rect x="1392.5" y="737.9" width="25.1" height="27.5" fill="#CE4070"/>
<rect x="1419.3" y="737.9" width="25.1" height="27.5" fill="#FDC68C"/>
<rect x="1446.0" y="737.9" width="25.1" height="27.5" fill="#FB9468"/>
<rect x="1472.7" y="737.9" width="25.1" height="27.5" fill="#CE4070"/>
<rect x="1499.4" y="737.9" width="25.1" height="27.5" fill="#CE4070"/>
<rect x="1526.1" y="737.9" width="25.1" height="27.5" fill="#CE4070"/>
<rect x="1552.9" y="737.9" width="25.1" height="27.5" fill="#A02E80"/>
<rect x="1579.6" y="737.9" width="25.1" height="27.5" fill="#CE4070"/>
<rect x="1606.3" y="737.9" width="25.1" height="27.5" fill="#A02E80"/>
<rect x="1633.0" y="737.9" width="25.1" height="27.5" fill="#CE4070"/>
<rect x="1659.7" y="737.9" width="25.1" height="27.5" fill="#451077"/>
<rect x="1686.5" y="737.9" width="25.1" height="27.5" fill="#701D81"/>
<rect x="1713.2" y="737.9" width="25.1" height="27.5" fill="#701D81"/>
<rect x="1739.9" y="737.9" width="25.1" height="27.5" fill="#CE4070"/>
<rect x="1766.6" y="737.9" width="25.1" height="27.5" fill="#A02E80"/>
<text x="1333.3" y="758.4" font-size="24.96" font-weight="bold" text-anchor="end" font-style="italic" textLength="58.3" lengthAdjust="spacingAndGlyphs">RPN1</text>
<rect x="1339.1" y="767.0" width="25.1" height="27.5" fill="#A02E80"/>
<rect x="1365.8" y="767.0" width="25.1" height="27.5" fill="#040407"/>
<rect x="1392.5" y="767.0" width="25.1" height="27.5" fill="#A02E80"/>
<rect x="1419.3" y="767.0" width="25.1" height="27.5" fill="#CE4070"/>
<rect x="1446.0" y="767.0" width="25.1" height="27.5" fill="#CE4070"/>
<rect x="1472.7" y="767.0" width="25.1" height="27.5" fill="#CE4070"/>
<rect x="1499.4" y="767.0" width="25.1" height="27.5" fill="#EF5E5D"/>
<rect x="1526.1" y="767.0" width="25.1" height="27.5" fill="#CE4070"/>
<rect x="1552.9" y="767.0" width="25.1" height="27.5" fill="#CE4070"/>
<rect x="1579.6" y="767.0" width="25.1" height="27.5" fill="#FB9468"/>
<rect x="1606.3" y="767.0" width="25.1" height="27.5" fill="#701D81"/>
<rect x="1633.0" y="767.0" width="25.1" height="27.5" fill="#CE4070"/>
<rect x="1659.7" y="767.0" width="25.1" height="27.5" fill="#CE4070"/>
<rect x="1686.5" y="767.0" width="25.1" height="27.5" fill="#CE4070"/>
<rect x="1713.2" y="767.0" width="25.1" height="27.5" fill="#A02E80"/>
<rect x="1739.9" y="767.0" width="25.1" height="27.5" fill="#CE4070"/>
<rect x="1766.6" y="767.0" width="25.1" height="27.5" fill="#CE4070"/>
<text x="1333.3" y="787.5" font-size="24.96" font-weight="bold" text-anchor="end" font-style="italic" textLength="64.3" lengthAdjust="spacingAndGlyphs">GMPS</text>
<rect x="1339.1" y="796.1" width="25.1" height="27.5" fill="#A02E80"/>
<rect x="1365.8" y="796.1" width="25.1" height="27.5" fill="#CE4070"/>
<rect x="1392.5" y="796.1" width="25.1" height="27.5" fill="#EF5E5D"/>
<rect x="1419.3" y="796.1" width="25.1" height="27.5" fill="#CE4070"/>
<rect x="1446.0" y="796.1" width="25.1" height="27.5" fill="#701D81"/>
<rect x="1472.7" y="796.1" width="25.1" height="27.5" fill="#701D81"/>
<rect x="1499.4" y="796.1" width="25.1" height="27.5" fill="#A02E80"/>
<rect x="1526.1" y="796.1" width="25.1" height="27.5" fill="#FB9468"/>
<rect x="1552.9" y="796.1" width="25.1" height="27.5" fill="#FB9468"/>
<rect x="1579.6" y="796.1" width="25.1" height="27.5" fill="#FDC68C"/>
<rect x="1606.3" y="796.1" width="25.1" height="27.5" fill="#701D81"/>
<rect x="1633.0" y="796.1" width="25.1" height="27.5" fill="#701D81"/>
<rect x="1659.7" y="796.1" width="25.1" height="27.5" fill="#451077"/>
<rect x="1686.5" y="796.1" width="25.1" height="27.5" fill="#A02E80"/>
<rect x="1713.2" y="796.1" width="25.1" height="27.5" fill="#A02E80"/>
<rect x="1739.9" y="796.1" width="25.1" height="27.5" fill="#A02E80"/>
<rect x="1766.6" y="796.1" width="25.1" height="27.5" fill="#CE4070"/>
<text x="1333.3" y="816.6" font-size="24.96" font-weight="bold" text-anchor="end" font-style="italic" textLength="73.6" lengthAdjust="spacingAndGlyphs">DAPP1</text>
<rect x="1339.1" y="825.2" width="25.1" height="27.5" fill="#EF5E5D"/>
<rect x="1365.8" y="825.2" width="25.1" height="27.5" fill="#451077"/>
<rect x="1392.5" y="825.2" width="25.1" height="27.5" fill="#701D81"/>
<rect x="1419.3" y="825.2" width="25.1" height="27.5" fill="#451077"/>
<rect x="1446.0" y="825.2" width="25.1" height="27.5" fill="#451077"/>
<rect x="1472.7" y="825.2" width="25.1" height="27.5" fill="#451077"/>
<rect x="1499.4" y="825.2" width="25.1" height="27.5" fill="#EF5E5D"/>
<rect x="1526.1" y="825.2" width="25.1" height="27.5" fill="#EF5E5D"/>
<rect x="1552.9" y="825.2" width="25.1" height="27.5" fill="#CE4070"/>
<rect x="1579.6" y="825.2" width="25.1" height="27.5" fill="#CE4070"/>
<rect x="1606.3" y="825.2" width="25.1" height="27.5" fill="#A02E80"/>
<rect x="1633.0" y="825.2" width="25.1" height="27.5" fill="#EF5E5D"/>
<rect x="1659.7" y="825.2" width="25.1" height="27.5" fill="#EF5E5D"/>
<rect x="1686.5" y="825.2" width="25.1" height="27.5" fill="#CE4070"/>
<rect x="1713.2" y="825.2" width="25.1" height="27.5" fill="#A02E80"/>
<rect x="1739.9" y="825.2" width="25.1" height="27.5" fill="#CE4070"/>
<rect x="1766.6" y="825.2" width="25.1" height="27.5" fill="#CE4070"/>
<text x="1333.3" y="845.7" font-size="24.96" font-weight="bold" text-anchor="end" font-style="italic" textLength="82.8" lengthAdjust="spacingAndGlyphs">ELOVL6</text>
<rect x="1339.1" y="854.3" width="25.1" height="27.5" fill="#A02E80"/>
<rect x="1365.8" y="854.3" width="25.1" height="27.5" fill="#701D81"/>
<rect x="1392.5" y="854.3" width="25.1" height="27.5" fill="#701D81"/>
<rect x="1419.3" y="854.3" width="25.1" height="27.5" fill="#CE4070"/>
<rect x="1446.0" y="854.3" width="25.1" height="27.5" fill="#CE4070"/>
<rect x="1472.7" y="854.3" width="25.1" height="27.5" fill="#CE4070"/>
<rect x="1499.4" y="854.3" width="25.1" height="27.5" fill="#EF5E5D"/>
<rect x="1526.1" y="854.3" width="25.1" height="27.5" fill="#EF5E5D"/>
<rect x="1552.9" y="854.3" width="25.1" height="27.5" fill="#A02E80"/>
<rect x="1579.6" y="854.3" width="25.1" height="27.5" fill="#FDC68C"/>
<rect x="1606.3" y="854.3" width="25.1" height="27.5" fill="#701D81"/>
<rect x="1633.0" y="854.3" width="25.1" height="27.5" fill="#451077"/>
<rect x="1659.7" y="854.3" width="25.1" height="27.5" fill="#EF5E5D"/>
<rect x="1686.5" y="854.3" width="25.1" height="27.5" fill="#A02E80"/>
<rect x="1713.2" y="854.3" width="25.1" height="27.5" fill="#701D81"/>
<rect x="1739.9" y="854.3" width="25.1" height="27.5" fill="#A02E80"/>
<rect x="1766.6" y="854.3" width="25.1" height="27.5" fill="#A02E80"/>
<text x="1333.3" y="874.8" font-size="24.96" font-weight="bold" text-anchor="end" font-style="italic" textLength="60.6" lengthAdjust="spacingAndGlyphs">DHFR</text>
<rect x="1339.1" y="883.4" width="25.1" height="27.5" fill="#CE4070"/>
<rect x="1365.8" y="883.4" width="25.1" height="27.5" fill="#701D81"/>
<rect x="1392.5" y="883.4" width="25.1" height="27.5" fill="#FDC68C"/>
<rect x="1419.3" y="883.4" width="25.1" height="27.5" fill="#CE4070"/>
<rect x="1446.0" y="883.4" width="25.1" height="27.5" fill="#A02E80"/>
<rect x="1472.7" y="883.4" width="25.1" height="27.5" fill="#EF5E5D"/>
<rect x="1499.4" y="883.4" width="25.1" height="27.5" fill="#CE4070"/>
<rect x="1526.1" y="883.4" width="25.1" height="27.5" fill="#EF5E5D"/>
<rect x="1552.9" y="883.4" width="25.1" height="27.5" fill="#A02E80"/>
<rect x="1579.6" y="883.4" width="25.1" height="27.5" fill="#EF5E5D"/>
<rect x="1606.3" y="883.4" width="25.1" height="27.5" fill="#A02E80"/>
<rect x="1633.0" y="883.4" width="25.1" height="27.5" fill="#A02E80"/>
<rect x="1659.7" y="883.4" width="25.1" height="27.5" fill="#701D81"/>
<rect x="1686.5" y="883.4" width="25.1" height="27.5" fill="#451077"/>
<rect x="1713.2" y="883.4" width="25.1" height="27.5" fill="#451077"/>
<rect x="1739.9" y="883.4" width="25.1" height="27.5" fill="#A02E80"/>
<rect x="1766.6" y="883.4" width="25.1" height="27.5" fill="#CE4070"/>
<text x="1333.3" y="903.9" font-size="24.96" font-weight="bold" text-anchor="end" font-style="italic" textLength="59.2" lengthAdjust="spacingAndGlyphs">GLRX</text>
<rect x="1339.1" y="912.5" width="25.1" height="27.5" fill="#701D81"/>
<rect x="1365.8" y="912.5" width="25.1" height="27.5" fill="#EF5E5D"/>
<rect x="1392.5" y="912.5" width="25.1" height="27.5" fill="#FB9468"/>
<rect x="1419.3" y="912.5" width="25.1" height="27.5" fill="#EF5E5D"/>
<rect x="1446.0" y="912.5" width="25.1" height="27.5" fill="#701D81"/>
<rect x="1472.7" y="912.5" width="25.1" height="27.5" fill="#451077"/>
<rect x="1499.4" y="912.5" width="25.1" height="27.5" fill="#CE4070"/>
<rect x="1526.1" y="912.5" width="25.1" height="27.5" fill="#EF5E5D"/>
<rect x="1552.9" y="912.5" width="25.1" height="27.5" fill="#A02E80"/>
<rect x="1579.6" y="912.5" width="25.1" height="27.5" fill="#EF5E5D"/>
<rect x="1606.3" y="912.5" width="25.1" height="27.5" fill="#451077"/>
<rect x="1633.0" y="912.5" width="25.1" height="27.5" fill="#701D81"/>
<rect x="1659.7" y="912.5" width="25.1" height="27.5" fill="#701D81"/>
<rect x="1686.5" y="912.5" width="25.1" height="27.5" fill="#CE4070"/>
<rect x="1713.2" y="912.5" width="25.1" height="27.5" fill="#A02E80"/>
<rect x="1739.9" y="912.5" width="25.1" height="27.5" fill="#CE4070"/>
<rect x="1766.6" y="912.5" width="25.1" height="27.5" fill="#CE4070"/>
<text x="1333.3" y="933.0" font-size="24.96" font-weight="bold" text-anchor="end" font-style="italic" textLength="62.9" lengthAdjust="spacingAndGlyphs">CANX</text>
<rect x="1339.1" y="941.6" width="25.1" height="27.5" fill="#701D81"/>
<rect x="1365.8" y="941.6" width="25.1" height="27.5" fill="#A02E80"/>
<rect x="1392.5" y="941.6" width="25.1" height="27.5" fill="#CE4070"/>
<rect x="1419.3" y="941.6" width="25.1" height="27.5" fill="#CE4070"/>
<rect x="1446.0" y="941.6" width="25.1" height="27.5" fill="#FB9468"/>
<rect x="1472.7" y="941.6" width="25.1" height="27.5" fill="#A02E80"/>
<rect x="1499.4" y="941.6" width="25.1" height="27.5" fill="#EF5E5D"/>
<rect x="1526.1" y="941.6" width="25.1" height="27.5" fill="#EF5E5D"/>
<rect x="1552.9" y="941.6" width="25.1" height="27.5" fill="#FB9468"/>
<rect x="1579.6" y="941.6" width="25.1" height="27.5" fill="#CE4070"/>
<rect x="1606.3" y="941.6" width="25.1" height="27.5" fill="#451077"/>
<rect x="1633.0" y="941.6" width="25.1" height="27.5" fill="#701D81"/>
<rect x="1659.7" y="941.6" width="25.1" height="27.5" fill="#451077"/>
<rect x="1686.5" y="941.6" width="25.1" height="27.5" fill="#701D81"/>
<rect x="1713.2" y="941.6" width="25.1" height="27.5" fill="#701D81"/>
<rect x="1739.9" y="941.6" width="25.1" height="27.5" fill="#EF5E5D"/>
<rect x="1766.6" y="941.6" width="25.1" height="27.5" fill="#EF5E5D"/>
<text x="1333.3" y="962.1" font-size="24.96" font-weight="bold" text-anchor="end" font-style="italic" textLength="52.3" lengthAdjust="spacingAndGlyphs">SSR1</text>
<rect x="1339.1" y="970.7" width="25.1" height="27.5" fill="#701D81"/>
<rect x="1365.8" y="970.7" width="25.1" height="27.5" fill="#CE4070"/>
<rect x="1392.5" y="970.7" width="25.1" height="27.5" fill="#701D81"/>
<rect x="1419.3" y="970.7" width="25.1" height="27.5" fill="#A02E80"/>
<rect x="1446.0" y="970.7" width="25.1" height="27.5" fill="#A02E80"/>
<rect x="1472.7" y="970.7" width="25.1" height="27.5" fill="#451077"/>
<rect x="1499.4" y="970.7" width="25.1" height="27.5" fill="#CE4070"/>
<rect x="1526.1" y="970.7" width="25.1" height="27.5" fill="#FB9468"/>
<rect x="1552.9" y="970.7" width="25.1" height="27.5" fill="#EF5E5D"/>
<rect x="1579.6" y="970.7" width="25.1" height="27.5" fill="#FB9468"/>
<rect x="1606.3" y="970.7" width="25.1" height="27.5" fill="#701D81"/>
<rect x="1633.0" y="970.7" width="25.1" height="27.5" fill="#701D81"/>
<rect x="1659.7" y="970.7" width="25.1" height="27.5" fill="#701D81"/>
<rect x="1686.5" y="970.7" width="25.1" height="27.5" fill="#EF5E5D"/>
<rect x="1713.2" y="970.7" width="25.1" height="27.5" fill="#CE4070"/>
<rect x="1739.9" y="970.7" width="25.1" height="27.5" fill="#A02E80"/>
<rect x="1766.6" y="970.7" width="25.1" height="27.5" fill="#EF5E5D"/>
<text x="1333.3" y="991.2" font-size="24.96" font-weight="bold" text-anchor="end" font-style="italic" textLength="82.8" lengthAdjust="spacingAndGlyphs">ELOVL5</text>
<rect x="1339.1" y="999.8" width="25.1" height="27.5" fill="#701D81"/>
<rect x="1365.8" y="999.8" width="25.1" height="27.5" fill="#CE4070"/>
<rect x="1392.5" y="999.8" width="25.1" height="27.5" fill="#EF5E5D"/>
<rect x="1419.3" y="999.8" width="25.1" height="27.5" fill="#701D81"/>
<rect x="1446.0" y="999.8" width="25.1" height="27.5" fill="#EF5E5D"/>
<rect x="1472.7" y="999.8" width="25.1" height="27.5" fill="#CE4070"/>
<rect x="1499.4" y="999.8" width="25.1" height="27.5" fill="#CE4070"/>
<rect x="1526.1" y="999.8" width="25.1" height="27.5" fill="#EF5E5D"/>
<rect x="1552.9" y="999.8" width="25.1" height="27.5" fill="#CE4070"/>
<rect x="1579.6" y="999.8" width="25.1" height="27.5" fill="#EF5E5D"/>
<rect x="1606.3" y="999.8" width="25.1" height="27.5" fill="#A02E80"/>
<rect x="1633.0" y="999.8" width="25.1" height="27.5" fill="#701D81"/>
<rect x="1659.7" y="999.8" width="25.1" height="27.5" fill="#451077"/>
<rect x="1686.5" y="999.8" width="25.1" height="27.5" fill="#451077"/>
<rect x="1713.2" y="999.8" width="25.1" height="27.5" fill="#451077"/>
<rect x="1739.9" y="999.8" width="25.1" height="27.5" fill="#EF5E5D"/>
<rect x="1766.6" y="999.8" width="25.1" height="27.5" fill="#EF5E5D"/>
<text x="1333.3" y="1020.3" font-size="24.96" font-weight="bold" text-anchor="end" font-style="italic" textLength="72.8" lengthAdjust="spacingAndGlyphs">SKAP2</text>
<rect x="1339.1" y="1028.9" width="25.1" height="27.5" fill="#A02E80"/>
<rect x="1365.8" y="1028.9" width="25.1" height="27.5" fill="#701D81"/>
<rect x="1392.5" y="1028.9" width="25.1" height="27.5" fill="#CE4070"/>
<rect x="1419.3" y="1028.9" width="25.1" height="27.5" fill="#A02E80"/>
<rect x="1446.0" y="1028.9" width="25.1" height="27.5" fill="#A02E80"/>
<rect x="1472.7" y="1028.9" width="25.1" height="27.5" fill="#CE4070"/>
<rect x="1499.4" y="1028.9" width="25.1" height="27.5" fill="#FCFBBE"/>
<rect x="1526.1" y="1028.9" width="25.1" height="27.5" fill="#CE4070"/>
<rect x="1552.9" y="1028.9" width="25.1" height="27.5" fill="#A02E80"/>
<rect x="1579.6" y="1028.9" width="25.1" height="27.5" fill="#EF5E5D"/>
<rect x="1606.3" y="1028.9" width="25.1" height="27.5" fill="#A02E80"/>
<rect x="1633.0" y="1028.9" width="25.1" height="27.5" fill="#A02E80"/>
<rect x="1659.7" y="1028.9" width="25.1" height="27.5" fill="#A02E80"/>
<rect x="1686.5" y="1028.9" width="25.1" height="27.5" fill="#701D81"/>
<rect x="1713.2" y="1028.9" width="25.1" height="27.5" fill="#701D81"/>
<rect x="1739.9" y="1028.9" width="25.1" height="27.5" fill="#EF5E5D"/>
<rect x="1766.6" y="1028.9" width="25.1" height="27.5" fill="#CE4070"/>
<text x="1333.3" y="1049.4" font-size="24.96" font-weight="bold" text-anchor="end" font-style="italic" textLength="59.5" lengthAdjust="spacingAndGlyphs">PSPH</text>
<rect x="1339.1" y="1058.0" width="25.1" height="27.5" fill="#CE4070"/>
<rect x="1365.8" y="1058.0" width="25.1" height="27.5" fill="#FDC68C"/>
<rect x="1392.5" y="1058.0" width="25.1" height="27.5" fill="#CE4070"/>
<rect x="1419.3" y="1058.0" width="25.1" height="27.5" fill="#A02E80"/>
<rect x="1446.0" y="1058.0" width="25.1" height="27.5" fill="#701D81"/>
<rect x="1472.7" y="1058.0" width="25.1" height="27.5" fill="#EF5E5D"/>
<rect x="1499.4" y="1058.0" width="25.1" height="27.5" fill="#CE4070"/>
<rect x="1526.1" y="1058.0" width="25.1" height="27.5" fill="#EF5E5D"/>
<rect x="1552.9" y="1058.0" width="25.1" height="27.5" fill="#CE4070"/>
<rect x="1579.6" y="1058.0" width="25.1" height="27.5" fill="#CE4070"/>
<rect x="1606.3" y="1058.0" width="25.1" height="27.5" fill="#701D81"/>
<rect x="1633.0" y="1058.0" width="25.1" height="27.5" fill="#701D81"/>
<rect x="1659.7" y="1058.0" width="25.1" height="27.5" fill="#701D81"/>
<rect x="1686.5" y="1058.0" width="25.1" height="27.5" fill="#701D81"/>
<rect x="1713.2" y="1058.0" width="25.1" height="27.5" fill="#451077"/>
<rect x="1739.9" y="1058.0" width="25.1" height="27.5" fill="#EF5E5D"/>
<rect x="1766.6" y="1058.0" width="25.1" height="27.5" fill="#701D81"/>
<text x="1333.3" y="1078.5" font-size="24.96" font-weight="bold" text-anchor="end" font-style="italic" textLength="55.8" lengthAdjust="spacingAndGlyphs">FGL2</text>
<rect x="1339.1" y="1087.1" width="25.1" height="27.5" fill="#A02E80"/>
<rect x="1365.8" y="1087.1" width="25.1" height="27.5" fill="#A02E80"/>
<rect x="1392.5" y="1087.1" width="25.1" height="27.5" fill="#701D81"/>
<rect x="1419.3" y="1087.1" width="25.1" height="27.5" fill="#FCFBBE"/>
<rect x="1446.0" y="1087.1" width="25.1" height="27.5" fill="#FDC68C"/>
<rect x="1472.7" y="1087.1" width="25.1" height="27.5" fill="#CE4070"/>
<rect x="1499.4" y="1087.1" width="25.1" height="27.5" fill="#A02E80"/>
<rect x="1526.1" y="1087.1" width="25.1" height="27.5" fill="#A02E80"/>
<rect x="1552.9" y="1087.1" width="25.1" height="27.5" fill="#A02E80"/>
<rect x="1579.6" y="1087.1" width="25.1" height="27.5" fill="#CE4070"/>
<rect x="1606.3" y="1087.1" width="25.1" height="27.5" fill="#A02E80"/>
<rect x="1633.0" y="1087.1" width="25.1" height="27.5" fill="#A02E80"/>
<rect x="1659.7" y="1087.1" width="25.1" height="27.5" fill="#A02E80"/>
<rect x="1686.5" y="1087.1" width="25.1" height="27.5" fill="#701D81"/>
<rect x="1713.2" y="1087.1" width="25.1" height="27.5" fill="#A02E80"/>
<rect x="1739.9" y="1087.1" width="25.1" height="27.5" fill="#701D81"/>
<rect x="1766.6" y="1087.1" width="25.1" height="27.5" fill="#A02E80"/>
<text x="1333.3" y="1107.6" font-size="24.96" font-weight="bold" text-anchor="end" font-style="italic" textLength="60.7" lengthAdjust="spacingAndGlyphs">ASNS</text>
<rect x="1339.1" y="1116.2" width="25.1" height="27.5" fill="#701D81"/>
<rect x="1365.8" y="1116.2" width="25.1" height="27.5" fill="#701D81"/>
<rect x="1392.5" y="1116.2" width="25.1" height="27.5" fill="#701D81"/>
<rect x="1419.3" y="1116.2" width="25.1" height="27.5" fill="#EF5E5D"/>
<rect x="1446.0" y="1116.2" width="25.1" height="27.5" fill="#CE4070"/>
<rect x="1472.7" y="1116.2" width="25.1" height="27.5" fill="#701D81"/>
<rect x="1499.4" y="1116.2" width="25.1" height="27.5" fill="#EF5E5D"/>
<rect x="1526.1" y="1116.2" width="25.1" height="27.5" fill="#FB9468"/>
<rect x="1552.9" y="1116.2" width="25.1" height="27.5" fill="#CE4070"/>
<rect x="1579.6" y="1116.2" width="25.1" height="27.5" fill="#EF5E5D"/>
<rect x="1606.3" y="1116.2" width="25.1" height="27.5" fill="#701D81"/>
<rect x="1633.0" y="1116.2" width="25.1" height="27.5" fill="#A02E80"/>
<rect x="1659.7" y="1116.2" width="25.1" height="27.5" fill="#CE4070"/>
<rect x="1686.5" y="1116.2" width="25.1" height="27.5" fill="#FB9468"/>
<rect x="1713.2" y="1116.2" width="25.1" height="27.5" fill="#CE4070"/>
<rect x="1739.9" y="1116.2" width="25.1" height="27.5" fill="#701D81"/>
<rect x="1766.6" y="1116.2" width="25.1" height="27.5" fill="#701D81"/>
<text x="1333.3" y="1136.7" font-size="24.96" font-weight="bold" text-anchor="end" font-style="italic" textLength="61.9" lengthAdjust="spacingAndGlyphs">RHEB</text>
<rect x="1339.1" y="1145.3" width="25.1" height="27.5" fill="#701D81"/>
<rect x="1365.8" y="1145.3" width="25.1" height="27.5" fill="#FDC68C"/>
<rect x="1392.5" y="1145.3" width="25.1" height="27.5" fill="#A02E80"/>
<rect x="1419.3" y="1145.3" width="25.1" height="27.5" fill="#A02E80"/>
<rect x="1446.0" y="1145.3" width="25.1" height="27.5" fill="#CE4070"/>
<rect x="1472.7" y="1145.3" width="25.1" height="27.5" fill="#451077"/>
<rect x="1499.4" y="1145.3" width="25.1" height="27.5" fill="#CE4070"/>
<rect x="1526.1" y="1145.3" width="25.1" height="27.5" fill="#EF5E5D"/>
<rect x="1552.9" y="1145.3" width="25.1" height="27.5" fill="#EF5E5D"/>
<rect x="1579.6" y="1145.3" width="25.1" height="27.5" fill="#CE4070"/>
<rect x="1606.3" y="1145.3" width="25.1" height="27.5" fill="#451077"/>
<rect x="1633.0" y="1145.3" width="25.1" height="27.5" fill="#701D81"/>
<rect x="1659.7" y="1145.3" width="25.1" height="27.5" fill="#701D81"/>
<rect x="1686.5" y="1145.3" width="25.1" height="27.5" fill="#A02E80"/>
<rect x="1713.2" y="1145.3" width="25.1" height="27.5" fill="#CE4070"/>
<rect x="1739.9" y="1145.3" width="25.1" height="27.5" fill="#CE4070"/>
<rect x="1766.6" y="1145.3" width="25.1" height="27.5" fill="#EF5E5D"/>
<text x="1333.3" y="1165.8" font-size="24.96" font-weight="bold" text-anchor="end" font-style="italic" textLength="47.3" lengthAdjust="spacingAndGlyphs">GSR</text>
<rect x="1339.1" y="1174.4" width="25.1" height="27.5" fill="#701D81"/>
<rect x="1365.8" y="1174.4" width="25.1" height="27.5" fill="#EF5E5D"/>
<rect x="1392.5" y="1174.4" width="25.1" height="27.5" fill="#A02E80"/>
<rect x="1419.3" y="1174.4" width="25.1" height="27.5" fill="#A02E80"/>
<rect x="1446.0" y="1174.4" width="25.1" height="27.5" fill="#CE4070"/>
<rect x="1472.7" y="1174.4" width="25.1" height="27.5" fill="#701D81"/>
<rect x="1499.4" y="1174.4" width="25.1" height="27.5" fill="#CE4070"/>
<rect x="1526.1" y="1174.4" width="25.1" height="27.5" fill="#EF5E5D"/>
<rect x="1552.9" y="1174.4" width="25.1" height="27.5" fill="#EF5E5D"/>
<rect x="1579.6" y="1174.4" width="25.1" height="27.5" fill="#FB9468"/>
<rect x="1606.3" y="1174.4" width="25.1" height="27.5" fill="#451077"/>
<rect x="1633.0" y="1174.4" width="25.1" height="27.5" fill="#451077"/>
<rect x="1659.7" y="1174.4" width="25.1" height="27.5" fill="#701D81"/>
<rect x="1686.5" y="1174.4" width="25.1" height="27.5" fill="#A02E80"/>
<rect x="1713.2" y="1174.4" width="25.1" height="27.5" fill="#A02E80"/>
<rect x="1739.9" y="1174.4" width="25.1" height="27.5" fill="#CE4070"/>
<rect x="1766.6" y="1174.4" width="25.1" height="27.5" fill="#EF5E5D"/>
<text x="1333.3" y="1194.9" font-size="24.96" font-weight="bold" text-anchor="end" font-style="italic" textLength="70.4" lengthAdjust="spacingAndGlyphs">P4HA1</text>
<rect x="1339.1" y="1203.5" width="25.1" height="27.5" fill="#451077"/>
<rect x="1365.8" y="1203.5" width="25.1" height="27.5" fill="#A02E80"/>
<rect x="1392.5" y="1203.5" width="25.1" height="27.5" fill="#CE4070"/>
<rect x="1419.3" y="1203.5" width="25.1" height="27.5" fill="#A02E80"/>
<rect x="1446.0" y="1203.5" width="25.1" height="27.5" fill="#A02E80"/>
<rect x="1472.7" y="1203.5" width="25.1" height="27.5" fill="#CE4070"/>
<rect x="1499.4" y="1203.5" width="25.1" height="27.5" fill="#EF5E5D"/>
<rect x="1526.1" y="1203.5" width="25.1" height="27.5" fill="#FB9468"/>
<rect x="1552.9" y="1203.5" width="25.1" height="27.5" fill="#FB9468"/>
<rect x="1579.6" y="1203.5" width="25.1" height="27.5" fill="#FB9468"/>
<rect x="1606.3" y="1203.5" width="25.1" height="27.5" fill="#451077"/>
<rect x="1633.0" y="1203.5" width="25.1" height="27.5" fill="#701D81"/>
<rect x="1659.7" y="1203.5" width="25.1" height="27.5" fill="#A02E80"/>
<rect x="1686.5" y="1203.5" width="25.1" height="27.5" fill="#A02E80"/>
<rect x="1713.2" y="1203.5" width="25.1" height="27.5" fill="#701D81"/>
<rect x="1739.9" y="1203.5" width="25.1" height="27.5" fill="#EF5E5D"/>
<rect x="1766.6" y="1203.5" width="25.1" height="27.5" fill="#EF5E5D"/>
<text x="1333.3" y="1224.0" font-size="24.96" font-weight="bold" text-anchor="end" font-style="italic" textLength="59.4" lengthAdjust="spacingAndGlyphs">ADD3</text>
<rect x="1339.1" y="1232.6" width="25.1" height="27.5" fill="#CE4070"/>
<rect x="1365.8" y="1232.6" width="25.1" height="27.5" fill="#701D81"/>
<rect x="1392.5" y="1232.6" width="25.1" height="27.5" fill="#A02E80"/>
<rect x="1419.3" y="1232.6" width="25.1" height="27.5" fill="#A02E80"/>
<rect x="1446.0" y="1232.6" width="25.1" height="27.5" fill="#EF5E5D"/>
<rect x="1472.7" y="1232.6" width="25.1" height="27.5" fill="#EF5E5D"/>
<rect x="1499.4" y="1232.6" width="25.1" height="27.5" fill="#EF5E5D"/>
<rect x="1526.1" y="1232.6" width="25.1" height="27.5" fill="#EF5E5D"/>
<rect x="1552.9" y="1232.6" width="25.1" height="27.5" fill="#CE4070"/>
<rect x="1579.6" y="1232.6" width="25.1" height="27.5" fill="#FB9468"/>
<rect x="1606.3" y="1232.6" width="25.1" height="27.5" fill="#A02E80"/>
<rect x="1633.0" y="1232.6" width="25.1" height="27.5" fill="#A02E80"/>
<rect x="1659.7" y="1232.6" width="25.1" height="27.5" fill="#451077"/>
<rect x="1686.5" y="1232.6" width="25.1" height="27.5" fill="#1C1044"/>
<rect x="1713.2" y="1232.6" width="25.1" height="27.5" fill="#451077"/>
<rect x="1739.9" y="1232.6" width="25.1" height="27.5" fill="#CE4070"/>
<rect x="1766.6" y="1232.6" width="25.1" height="27.5" fill="#EF5E5D"/>
<text x="1333.3" y="1253.1" font-size="24.96" font-weight="bold" text-anchor="end" font-style="italic" textLength="60.7" lengthAdjust="spacingAndGlyphs">STIP1</text>
<rect x="1339.1" y="1261.7" width="25.1" height="27.5" fill="#CE4070"/>
<rect x="1365.8" y="1261.7" width="25.1" height="27.5" fill="#FB9468"/>
<rect x="1392.5" y="1261.7" width="25.1" height="27.5" fill="#A02E80"/>
<rect x="1419.3" y="1261.7" width="25.1" height="27.5" fill="#FB9468"/>
<rect x="1446.0" y="1261.7" width="25.1" height="27.5" fill="#FB9468"/>
<rect x="1472.7" y="1261.7" width="25.1" height="27.5" fill="#EF5E5D"/>
<rect x="1499.4" y="1261.7" width="25.1" height="27.5" fill="#A02E80"/>
<rect x="1526.1" y="1261.7" width="25.1" height="27.5" fill="#701D81"/>
<rect x="1552.9" y="1261.7" width="25.1" height="27.5" fill="#A02E80"/>
<rect x="1579.6" y="1261.7" width="25.1" height="27.5" fill="#701D81"/>
<rect x="1606.3" y="1261.7" width="25.1" height="27.5" fill="#CE4070"/>
<rect x="1633.0" y="1261.7" width="25.1" height="27.5" fill="#CE4070"/>
<rect x="1659.7" y="1261.7" width="25.1" height="27.5" fill="#701D81"/>
<rect x="1686.5" y="1261.7" width="25.1" height="27.5" fill="#701D81"/>
<rect x="1713.2" y="1261.7" width="25.1" height="27.5" fill="#701D81"/>
<rect x="1739.9" y="1261.7" width="25.1" height="27.5" fill="#A02E80"/>
<rect x="1766.6" y="1261.7" width="25.1" height="27.5" fill="#A02E80"/>
<text x="1333.3" y="1282.2" font-size="24.96" font-weight="bold" text-anchor="end" font-style="italic" textLength="71.6" lengthAdjust="spacingAndGlyphs">FKBP2</text>
<rect x="1339.1" y="1290.8" width="25.1" height="27.5" fill="#A02E80"/>
<rect x="1365.8" y="1290.8" width="25.1" height="27.5" fill="#701D81"/>
<rect x="1392.5" y="1290.8" width="25.1" height="27.5" fill="#FDC68C"/>
<rect x="1419.3" y="1290.8" width="25.1" height="27.5" fill="#CE4070"/>
<rect x="1446.0" y="1290.8" width="25.1" height="27.5" fill="#701D81"/>
<rect x="1472.7" y="1290.8" width="25.1" height="27.5" fill="#FDC68C"/>
<rect x="1499.4" y="1290.8" width="25.1" height="27.5" fill="#EF5E5D"/>
<rect x="1526.1" y="1290.8" width="25.1" height="27.5" fill="#CE4070"/>
<rect x="1552.9" y="1290.8" width="25.1" height="27.5" fill="#CE4070"/>
<rect x="1579.6" y="1290.8" width="25.1" height="27.5" fill="#CE4070"/>
<rect x="1606.3" y="1290.8" width="25.1" height="27.5" fill="#A02E80"/>
<rect x="1633.0" y="1290.8" width="25.1" height="27.5" fill="#A02E80"/>
<rect x="1659.7" y="1290.8" width="25.1" height="27.5" fill="#701D81"/>
<rect x="1686.5" y="1290.8" width="25.1" height="27.5" fill="#701D81"/>
<rect x="1713.2" y="1290.8" width="25.1" height="27.5" fill="#701D81"/>
<rect x="1739.9" y="1290.8" width="25.1" height="27.5" fill="#A02E80"/>
<rect x="1766.6" y="1290.8" width="25.1" height="27.5" fill="#701D81"/>
<text x="1333.3" y="1311.3" font-size="24.96" font-weight="bold" text-anchor="end" font-style="italic" textLength="59.4" lengthAdjust="spacingAndGlyphs">CTSC</text>
<rect x="1339.1" y="1319.9" width="25.1" height="27.5" fill="#A02E80"/>
<rect x="1365.8" y="1319.9" width="25.1" height="27.5" fill="#451077"/>
<rect x="1392.5" y="1319.9" width="25.1" height="27.5" fill="#CE4070"/>
<rect x="1419.3" y="1319.9" width="25.1" height="27.5" fill="#CE4070"/>
<rect x="1446.0" y="1319.9" width="25.1" height="27.5" fill="#CE4070"/>
<rect x="1472.7" y="1319.9" width="25.1" height="27.5" fill="#CE4070"/>
<rect x="1499.4" y="1319.9" width="25.1" height="27.5" fill="#EF5E5D"/>
<rect x="1526.1" y="1319.9" width="25.1" height="27.5" fill="#FB9468"/>
<rect x="1552.9" y="1319.9" width="25.1" height="27.5" fill="#FB9468"/>
<rect x="1579.6" y="1319.9" width="25.1" height="27.5" fill="#EF5E5D"/>
<rect x="1606.3" y="1319.9" width="25.1" height="27.5" fill="#701D81"/>
<rect x="1633.0" y="1319.9" width="25.1" height="27.5" fill="#A02E80"/>
<rect x="1659.7" y="1319.9" width="25.1" height="27.5" fill="#451077"/>
<rect x="1686.5" y="1319.9" width="25.1" height="27.5" fill="#451077"/>
<rect x="1713.2" y="1319.9" width="25.1" height="27.5" fill="#701D81"/>
<rect x="1739.9" y="1319.9" width="25.1" height="27.5" fill="#CE4070"/>
<rect x="1766.6" y="1319.9" width="25.1" height="27.5" fill="#A02E80"/>
<text x="1333.3" y="1340.4" font-size="24.96" font-weight="bold" text-anchor="end" font-style="italic" textLength="44.9" lengthAdjust="spacingAndGlyphs">PNP</text>
<rect x="1339.1" y="1349.0" width="25.1" height="27.5" fill="#A02E80"/>
<rect x="1365.8" y="1349.0" width="25.1" height="27.5" fill="#701D81"/>
<rect x="1392.5" y="1349.0" width="25.1" height="27.5" fill="#EF5E5D"/>
<rect x="1419.3" y="1349.0" width="25.1" height="27.5" fill="#A02E80"/>
<rect x="1446.0" y="1349.0" width="25.1" height="27.5" fill="#EF5E5D"/>
<rect x="1472.7" y="1349.0" width="25.1" height="27.5" fill="#CE4070"/>
<rect x="1499.4" y="1349.0" width="25.1" height="27.5" fill="#CE4070"/>
<rect x="1526.1" y="1349.0" width="25.1" height="27.5" fill="#FB9468"/>
<rect x="1552.9" y="1349.0" width="25.1" height="27.5" fill="#FB9468"/>
<rect x="1579.6" y="1349.0" width="25.1" height="27.5" fill="#CE4070"/>
<rect x="1606.3" y="1349.0" width="25.1" height="27.5" fill="#701D81"/>
<rect x="1633.0" y="1349.0" width="25.1" height="27.5" fill="#701D81"/>
<rect x="1659.7" y="1349.0" width="25.1" height="27.5" fill="#451077"/>
<rect x="1686.5" y="1349.0" width="25.1" height="27.5" fill="#701D81"/>
<rect x="1713.2" y="1349.0" width="25.1" height="27.5" fill="#A02E80"/>
<rect x="1739.9" y="1349.0" width="25.1" height="27.5" fill="#A02E80"/>
<rect x="1766.6" y="1349.0" width="25.1" height="27.5" fill="#CE4070"/>
<text x="1333.3" y="1369.5" font-size="24.96" font-weight="bold" text-anchor="end" font-style="italic" textLength="75.3" lengthAdjust="spacingAndGlyphs">PSMC6</text>
<rect x="1339.1" y="1378.1" width="25.1" height="27.5" fill="#EF5E5D"/>
<rect x="1365.8" y="1378.1" width="25.1" height="27.5" fill="#701D81"/>
<rect x="1392.5" y="1378.1" width="25.1" height="27.5" fill="#FDC68C"/>
<rect x="1419.3" y="1378.1" width="25.1" height="27.5" fill="#701D81"/>
<rect x="1446.0" y="1378.1" width="25.1" height="27.5" fill="#CE4070"/>
<rect x="1472.7" y="1378.1" width="25.1" height="27.5" fill="#A02E80"/>
<rect x="1499.4" y="1378.1" width="25.1" height="27.5" fill="#A02E80"/>
<rect x="1526.1" y="1378.1" width="25.1" height="27.5" fill="#CE4070"/>
<rect x="1552.9" y="1378.1" width="25.1" height="27.5" fill="#FB9468"/>
<rect x="1579.6" y="1378.1" width="25.1" height="27.5" fill="#A02E80"/>
<rect x="1606.3" y="1378.1" width="25.1" height="27.5" fill="#701D81"/>
<rect x="1633.0" y="1378.1" width="25.1" height="27.5" fill="#701D81"/>
<rect x="1659.7" y="1378.1" width="25.1" height="27.5" fill="#451077"/>
<rect x="1686.5" y="1378.1" width="25.1" height="27.5" fill="#A02E80"/>
<rect x="1713.2" y="1378.1" width="25.1" height="27.5" fill="#A02E80"/>
<rect x="1739.9" y="1378.1" width="25.1" height="27.5" fill="#A02E80"/>
<rect x="1766.6" y="1378.1" width="25.1" height="27.5" fill="#EF5E5D"/>
<text x="1333.3" y="1398.6" font-size="24.96" font-weight="bold" text-anchor="end" font-style="italic" textLength="80.9" lengthAdjust="spacingAndGlyphs">ATP6V1</text>
<rect x="1339.1" y="1407.2" width="25.1" height="27.5" fill="#CE4070"/>
<rect x="1365.8" y="1407.2" width="25.1" height="27.5" fill="#CE4070"/>
<rect x="1392.5" y="1407.2" width="25.1" height="27.5" fill="#701D81"/>
<rect x="1419.3" y="1407.2" width="25.1" height="27.5" fill="#A02E80"/>
<rect x="1446.0" y="1407.2" width="25.1" height="27.5" fill="#FB9468"/>
<rect x="1472.7" y="1407.2" width="25.1" height="27.5" fill="#701D81"/>
<rect x="1499.4" y="1407.2" width="25.1" height="27.5" fill="#A02E80"/>
<rect x="1526.1" y="1407.2" width="25.1" height="27.5" fill="#EF5E5D"/>
<rect x="1552.9" y="1407.2" width="25.1" height="27.5" fill="#FB9468"/>
<rect x="1579.6" y="1407.2" width="25.1" height="27.5" fill="#A02E80"/>
<rect x="1606.3" y="1407.2" width="25.1" height="27.5" fill="#701D81"/>
<rect x="1633.0" y="1407.2" width="25.1" height="27.5" fill="#701D81"/>
<rect x="1659.7" y="1407.2" width="25.1" height="27.5" fill="#701D81"/>
<rect x="1686.5" y="1407.2" width="25.1" height="27.5" fill="#EF5E5D"/>
<rect x="1713.2" y="1407.2" width="25.1" height="27.5" fill="#A02E80"/>
<rect x="1739.9" y="1407.2" width="25.1" height="27.5" fill="#FB9468"/>
<rect x="1766.6" y="1407.2" width="25.1" height="27.5" fill="#701D81"/>
<text x="1333.3" y="1427.7" font-size="24.96" font-weight="bold" text-anchor="end" font-style="italic" textLength="65.5" lengthAdjust="spacingAndGlyphs">WARS</text>
<rect x="1339.1" y="1436.3" width="25.1" height="27.5" fill="#A02E80"/>
<rect x="1365.8" y="1436.3" width="25.1" height="27.5" fill="#A02E80"/>
<rect x="1392.5" y="1436.3" width="25.1" height="27.5" fill="#A02E80"/>
<rect x="1419.3" y="1436.3" width="25.1" height="27.5" fill="#FDC68C"/>
<rect x="1446.0" y="1436.3" width="25.1" height="27.5" fill="#EF5E5D"/>
<rect x="1472.7" y="1436.3" width="25.1" height="27.5" fill="#CE4070"/>
<rect x="1499.4" y="1436.3" width="25.1" height="27.5" fill="#CE4070"/>
<rect x="1526.1" y="1436.3" width="25.1" height="27.5" fill="#EF5E5D"/>
<rect x="1552.9" y="1436.3" width="25.1" height="27.5" fill="#CE4070"/>
<rect x="1579.6" y="1436.3" width="25.1" height="27.5" fill="#CE4070"/>
<rect x="1606.3" y="1436.3" width="25.1" height="27.5" fill="#451077"/>
<rect x="1633.0" y="1436.3" width="25.1" height="27.5" fill="#CE4070"/>
<rect x="1659.7" y="1436.3" width="25.1" height="27.5" fill="#701D81"/>
<rect x="1686.5" y="1436.3" width="25.1" height="27.5" fill="#701D81"/>
<rect x="1713.2" y="1436.3" width="25.1" height="27.5" fill="#451077"/>
<rect x="1739.9" y="1436.3" width="25.1" height="27.5" fill="#CE4070"/>
<rect x="1766.6" y="1436.3" width="25.1" height="27.5" fill="#CE4070"/>
<text x="1333.3" y="1456.8" font-size="24.96" font-weight="bold" text-anchor="end" font-style="italic" textLength="63.1" lengthAdjust="spacingAndGlyphs">SORD</text>
<rect x="1339.1" y="1465.4" width="25.1" height="27.5" fill="#701D81"/>
<rect x="1365.8" y="1465.4" width="25.1" height="27.5" fill="#A02E80"/>
<rect x="1392.5" y="1465.4" width="25.1" height="27.5" fill="#701D81"/>
<rect x="1419.3" y="1465.4" width="25.1" height="27.5" fill="#701D81"/>
<rect x="1446.0" y="1465.4" width="25.1" height="27.5" fill="#CE4070"/>
<rect x="1472.7" y="1465.4" width="25.1" height="27.5" fill="#A02E80"/>
<rect x="1499.4" y="1465.4" width="25.1" height="27.5" fill="#FB9468"/>
<rect x="1526.1" y="1465.4" width="25.1" height="27.5" fill="#FB9468"/>
<rect x="1552.9" y="1465.4" width="25.1" height="27.5" fill="#FB9468"/>
<rect x="1579.6" y="1465.4" width="25.1" height="27.5" fill="#EF5E5D"/>
<rect x="1606.3" y="1465.4" width="25.1" height="27.5" fill="#451077"/>
<rect x="1633.0" y="1465.4" width="25.1" height="27.5" fill="#701D81"/>
<rect x="1659.7" y="1465.4" width="25.1" height="27.5" fill="#A02E80"/>
<rect x="1686.5" y="1465.4" width="25.1" height="27.5" fill="#701D81"/>
<rect x="1713.2" y="1465.4" width="25.1" height="27.5" fill="#A02E80"/>
<rect x="1739.9" y="1465.4" width="25.1" height="27.5" fill="#EF5E5D"/>
<rect x="1766.6" y="1465.4" width="25.1" height="27.5" fill="#CE4070"/>
<text x="1333.3" y="1485.9" font-size="24.96" font-weight="bold" text-anchor="end" font-style="italic" textLength="56.6" lengthAdjust="spacingAndGlyphs">RPA1</text>
<rect x="1339.1" y="1494.5" width="25.1" height="27.5" fill="#A02E80"/>
<rect x="1365.8" y="1494.5" width="25.1" height="27.5" fill="#A02E80"/>
<rect x="1392.5" y="1494.5" width="25.1" height="27.5" fill="#CE4070"/>
<rect x="1419.3" y="1494.5" width="25.1" height="27.5" fill="#A02E80"/>
<rect x="1446.0" y="1494.5" width="25.1" height="27.5" fill="#FDC68C"/>
<rect x="1472.7" y="1494.5" width="25.1" height="27.5" fill="#FDC68C"/>
<rect x="1499.4" y="1494.5" width="25.1" height="27.5" fill="#CE4070"/>
<rect x="1526.1" y="1494.5" width="25.1" height="27.5" fill="#CE4070"/>
<rect x="1552.9" y="1494.5" width="25.1" height="27.5" fill="#EF5E5D"/>
<rect x="1579.6" y="1494.5" width="25.1" height="27.5" fill="#CE4070"/>
<rect x="1606.3" y="1494.5" width="25.1" height="27.5" fill="#A02E80"/>
<rect x="1633.0" y="1494.5" width="25.1" height="27.5" fill="#A02E80"/>
<rect x="1659.7" y="1494.5" width="25.1" height="27.5" fill="#701D81"/>
<rect x="1686.5" y="1494.5" width="25.1" height="27.5" fill="#451077"/>
<rect x="1713.2" y="1494.5" width="25.1" height="27.5" fill="#701D81"/>
<rect x="1739.9" y="1494.5" width="25.1" height="27.5" fill="#A02E80"/>
<rect x="1766.6" y="1494.5" width="25.1" height="27.5" fill="#CE4070"/>
<text x="1333.3" y="1515.0" font-size="24.96" font-weight="bold" text-anchor="end" font-style="italic" textLength="74.0" lengthAdjust="spacingAndGlyphs">TUBG1</text>
<rect x="1339.1" y="1523.6" width="25.1" height="27.5" fill="#701D81"/>
<rect x="1365.8" y="1523.6" width="25.1" height="27.5" fill="#FCFBBE"/>
<rect x="1392.5" y="1523.6" width="25.1" height="27.5" fill="#A02E80"/>
<rect x="1419.3" y="1523.6" width="25.1" height="27.5" fill="#CE4070"/>
<rect x="1446.0" y="1523.6" width="25.1" height="27.5" fill="#CE4070"/>
<rect x="1472.7" y="1523.6" width="25.1" height="27.5" fill="#A02E80"/>
<rect x="1499.4" y="1523.6" width="25.1" height="27.5" fill="#CE4070"/>
<rect x="1526.1" y="1523.6" width="25.1" height="27.5" fill="#EF5E5D"/>
<rect x="1552.9" y="1523.6" width="25.1" height="27.5" fill="#EF5E5D"/>
<rect x="1579.6" y="1523.6" width="25.1" height="27.5" fill="#CE4070"/>
<rect x="1606.3" y="1523.6" width="25.1" height="27.5" fill="#451077"/>
<rect x="1633.0" y="1523.6" width="25.1" height="27.5" fill="#451077"/>
<rect x="1659.7" y="1523.6" width="25.1" height="27.5" fill="#701D81"/>
<rect x="1686.5" y="1523.6" width="25.1" height="27.5" fill="#A02E80"/>
<rect x="1713.2" y="1523.6" width="25.1" height="27.5" fill="#CE4070"/>
<rect x="1739.9" y="1523.6" width="25.1" height="27.5" fill="#A02E80"/>
<rect x="1766.6" y="1523.6" width="25.1" height="27.5" fill="#A02E80"/>
<text x="1333.3" y="1544.1" font-size="24.96" font-weight="bold" text-anchor="end" font-style="italic" textLength="59.4" lengthAdjust="spacingAndGlyphs">NMT1</text>
<rect x="1339.1" y="1552.7" width="25.1" height="27.5" fill="#701D81"/>
<rect x="1365.8" y="1552.7" width="25.1" height="27.5" fill="#FCFBBE"/>
<rect x="1392.5" y="1552.7" width="25.1" height="27.5" fill="#A02E80"/>
<rect x="1419.3" y="1552.7" width="25.1" height="27.5" fill="#A02E80"/>
<rect x="1446.0" y="1552.7" width="25.1" height="27.5" fill="#A02E80"/>
<rect x="1472.7" y="1552.7" width="25.1" height="27.5" fill="#701D81"/>
<rect x="1499.4" y="1552.7" width="25.1" height="27.5" fill="#A02E80"/>
<rect x="1526.1" y="1552.7" width="25.1" height="27.5" fill="#CE4070"/>
<rect x="1552.9" y="1552.7" width="25.1" height="27.5" fill="#CE4070"/>
<rect x="1579.6" y="1552.7" width="25.1" height="27.5" fill="#EF5E5D"/>
<rect x="1606.3" y="1552.7" width="25.1" height="27.5" fill="#A02E80"/>
<rect x="1633.0" y="1552.7" width="25.1" height="27.5" fill="#701D81"/>
<rect x="1659.7" y="1552.7" width="25.1" height="27.5" fill="#A02E80"/>
<rect x="1686.5" y="1552.7" width="25.1" height="27.5" fill="#CE4070"/>
<rect x="1713.2" y="1552.7" width="25.1" height="27.5" fill="#CE4070"/>
<rect x="1739.9" y="1552.7" width="25.1" height="27.5" fill="#CE4070"/>
<rect x="1766.6" y="1552.7" width="25.1" height="27.5" fill="#CE4070"/>
<text x="1333.3" y="1573.2" font-size="24.96" font-weight="bold" text-anchor="end" font-style="italic" textLength="76.0" lengthAdjust="spacingAndGlyphs">RPTOR</text>
<rect x="1339.1" y="1581.8" width="25.1" height="27.5" fill="#A02E80"/>
<rect x="1365.8" y="1581.8" width="25.1" height="27.5" fill="#701D81"/>
<rect x="1392.5" y="1581.8" width="25.1" height="27.5" fill="#EF5E5D"/>
<rect x="1419.3" y="1581.8" width="25.1" height="27.5" fill="#CE4070"/>
<rect x="1446.0" y="1581.8" width="25.1" height="27.5" fill="#CE4070"/>
<rect x="1472.7" y="1581.8" width="25.1" height="27.5" fill="#FDC68C"/>
<rect x="1499.4" y="1581.8" width="25.1" height="27.5" fill="#CE4070"/>
<rect x="1526.1" y="1581.8" width="25.1" height="27.5" fill="#EF5E5D"/>
<rect x="1552.9" y="1581.8" width="25.1" height="27.5" fill="#EF5E5D"/>
<rect x="1579.6" y="1581.8" width="25.1" height="27.5" fill="#CE4070"/>
<rect x="1606.3" y="1581.8" width="25.1" height="27.5" fill="#A02E80"/>
<rect x="1633.0" y="1581.8" width="25.1" height="27.5" fill="#A02E80"/>
<rect x="1659.7" y="1581.8" width="25.1" height="27.5" fill="#701D81"/>
<rect x="1686.5" y="1581.8" width="25.1" height="27.5" fill="#451077"/>
<rect x="1713.2" y="1581.8" width="25.1" height="27.5" fill="#451077"/>
<rect x="1739.9" y="1581.8" width="25.1" height="27.5" fill="#A02E80"/>
<rect x="1766.6" y="1581.8" width="25.1" height="27.5" fill="#A02E80"/>
<text x="1333.3" y="1602.3" font-size="24.96" font-weight="bold" text-anchor="end" font-style="italic" textLength="49.8" lengthAdjust="spacingAndGlyphs">IFI30</text>
<rect x="1339.1" y="1610.9" width="25.1" height="27.5" fill="#701D81"/>
<rect x="1365.8" y="1610.9" width="25.1" height="27.5" fill="#701D81"/>
<rect x="1392.5" y="1610.9" width="25.1" height="27.5" fill="#A02E80"/>
<rect x="1419.3" y="1610.9" width="25.1" height="27.5" fill="#A02E80"/>
<rect x="1446.0" y="1610.9" width="25.1" height="27.5" fill="#701D81"/>
<rect x="1472.7" y="1610.9" width="25.1" height="27.5" fill="#CE4070"/>
<rect x="1499.4" y="1610.9" width="25.1" height="27.5" fill="#FDC68C"/>
<rect x="1526.1" y="1610.9" width="25.1" height="27.5" fill="#FB9468"/>
<rect x="1552.9" y="1610.9" width="25.1" height="27.5" fill="#EF5E5D"/>
<rect x="1579.6" y="1610.9" width="25.1" height="27.5" fill="#FB9468"/>
<rect x="1606.3" y="1610.9" width="25.1" height="27.5" fill="#701D81"/>
<rect x="1633.0" y="1610.9" width="25.1" height="27.5" fill="#A02E80"/>
<rect x="1659.7" y="1610.9" width="25.1" height="27.5" fill="#A02E80"/>
<rect x="1686.5" y="1610.9" width="25.1" height="27.5" fill="#A02E80"/>
<rect x="1713.2" y="1610.9" width="25.1" height="27.5" fill="#701D81"/>
<rect x="1739.9" y="1610.9" width="25.1" height="27.5" fill="#A02E80"/>
<rect x="1766.6" y="1610.9" width="25.1" height="27.5" fill="#CE4070"/>
<text x="1333.3" y="1631.4" font-size="24.96" font-weight="bold" text-anchor="end" font-style="italic" textLength="83.7" lengthAdjust="spacingAndGlyphs">SLC1A5</text>
<rect x="1339.1" y="1640.0" width="25.1" height="27.5" fill="#EF5E5D"/>
<rect x="1365.8" y="1640.0" width="25.1" height="27.5" fill="#EF5E5D"/>
<rect x="1392.5" y="1640.0" width="25.1" height="27.5" fill="#CE4070"/>
<rect x="1419.3" y="1640.0" width="25.1" height="27.5" fill="#CE4070"/>
<rect x="1446.0" y="1640.0" width="25.1" height="27.5" fill="#FB9468"/>
<rect x="1472.7" y="1640.0" width="25.1" height="27.5" fill="#FB9468"/>
<rect x="1499.4" y="1640.0" width="25.1" height="27.5" fill="#CE4070"/>
<rect x="1526.1" y="1640.0" width="25.1" height="27.5" fill="#CE4070"/>
<rect x="1552.9" y="1640.0" width="25.1" height="27.5" fill="#CE4070"/>
<rect x="1579.6" y="1640.0" width="25.1" height="27.5" fill="#701D81"/>
<rect x="1606.3" y="1640.0" width="25.1" height="27.5" fill="#CE4070"/>
<rect x="1633.0" y="1640.0" width="25.1" height="27.5" fill="#A02E80"/>
<rect x="1659.7" y="1640.0" width="25.1" height="27.5" fill="#1C1044"/>
<rect x="1686.5" y="1640.0" width="25.1" height="27.5" fill="#451077"/>
<rect x="1713.2" y="1640.0" width="25.1" height="27.5" fill="#701D81"/>
<rect x="1739.9" y="1640.0" width="25.1" height="27.5" fill="#A02E80"/>
<rect x="1766.6" y="1640.0" width="25.1" height="27.5" fill="#A02E80"/>
<text x="1333.3" y="1660.5" font-size="24.96" font-weight="bold" text-anchor="end" font-style="italic" textLength="72.8" lengthAdjust="spacingAndGlyphs">EIF2S2</text>
<rect x="1339.1" y="1669.1" width="25.1" height="27.5" fill="#EF5E5D"/>
<rect x="1365.8" y="1669.1" width="25.1" height="27.5" fill="#451077"/>
<rect x="1392.5" y="1669.1" width="25.1" height="27.5" fill="#EF5E5D"/>
<rect x="1419.3" y="1669.1" width="25.1" height="27.5" fill="#CE4070"/>
<rect x="1446.0" y="1669.1" width="25.1" height="27.5" fill="#701D81"/>
<rect x="1472.7" y="1669.1" width="25.1" height="27.5" fill="#EF5E5D"/>
<rect x="1499.4" y="1669.1" width="25.1" height="27.5" fill="#EF5E5D"/>
<rect x="1526.1" y="1669.1" width="25.1" height="27.5" fill="#EF5E5D"/>
<rect x="1552.9" y="1669.1" width="25.1" height="27.5" fill="#CE4070"/>
<rect x="1579.6" y="1669.1" width="25.1" height="27.5" fill="#CE4070"/>
<rect x="1606.3" y="1669.1" width="25.1" height="27.5" fill="#A02E80"/>
<rect x="1633.0" y="1669.1" width="25.1" height="27.5" fill="#701D81"/>
<rect x="1659.7" y="1669.1" width="25.1" height="27.5" fill="#A02E80"/>
<rect x="1686.5" y="1669.1" width="25.1" height="27.5" fill="#701D81"/>
<rect x="1713.2" y="1669.1" width="25.1" height="27.5" fill="#451077"/>
<rect x="1739.9" y="1669.1" width="25.1" height="27.5" fill="#CE4070"/>
<rect x="1766.6" y="1669.1" width="25.1" height="27.5" fill="#A02E80"/>
<text x="1333.3" y="1689.6" font-size="24.96" font-weight="bold" text-anchor="end" font-style="italic" textLength="76.5" lengthAdjust="spacingAndGlyphs">PSMG1</text>
<rect x="1339.1" y="1698.2" width="25.1" height="27.5" fill="#701D81"/>
<rect x="1365.8" y="1698.2" width="25.1" height="27.5" fill="#1C1044"/>
<rect x="1392.5" y="1698.2" width="25.1" height="27.5" fill="#CE4070"/>
<rect x="1419.3" y="1698.2" width="25.1" height="27.5" fill="#FB9468"/>
<rect x="1446.0" y="1698.2" width="25.1" height="27.5" fill="#CE4070"/>
<rect x="1472.7" y="1698.2" width="25.1" height="27.5" fill="#CE4070"/>
<rect x="1499.4" y="1698.2" width="25.1" height="27.5" fill="#CE4070"/>
<rect x="1526.1" y="1698.2" width="25.1" height="27.5" fill="#EF5E5D"/>
<rect x="1552.9" y="1698.2" width="25.1" height="27.5" fill="#EF5E5D"/>
<rect x="1579.6" y="1698.2" width="25.1" height="27.5" fill="#EF5E5D"/>
<rect x="1606.3" y="1698.2" width="25.1" height="27.5" fill="#701D81"/>
<rect x="1633.0" y="1698.2" width="25.1" height="27.5" fill="#701D81"/>
<rect x="1659.7" y="1698.2" width="25.1" height="27.5" fill="#701D81"/>
<rect x="1686.5" y="1698.2" width="25.1" height="27.5" fill="#A02E80"/>
<rect x="1713.2" y="1698.2" width="25.1" height="27.5" fill="#A02E80"/>
<rect x="1739.9" y="1698.2" width="25.1" height="27.5" fill="#EF5E5D"/>
<rect x="1766.6" y="1698.2" width="25.1" height="27.5" fill="#EF5E5D"/>
<text x="1333.3" y="1718.7" font-size="24.96" font-weight="bold" text-anchor="end" font-style="italic" textLength="57.0" lengthAdjust="spacingAndGlyphs">PFKL</text>
<rect x="1339.1" y="1727.3" width="25.1" height="27.5" fill="#701D81"/>
<rect x="1365.8" y="1727.3" width="25.1" height="27.5" fill="#701D81"/>
<rect x="1392.5" y="1727.3" width="25.1" height="27.5" fill="#A02E80"/>
<rect x="1419.3" y="1727.3" width="25.1" height="27.5" fill="#CE4070"/>
<rect x="1446.0" y="1727.3" width="25.1" height="27.5" fill="#FDC68C"/>
<rect x="1472.7" y="1727.3" width="25.1" height="27.5" fill="#701D81"/>
<rect x="1499.4" y="1727.3" width="25.1" height="27.5" fill="#CE4070"/>
<rect x="1526.1" y="1727.3" width="25.1" height="27.5" fill="#CE4070"/>
<rect x="1552.9" y="1727.3" width="25.1" height="27.5" fill="#A02E80"/>
<rect x="1579.6" y="1727.3" width="25.1" height="27.5" fill="#EF5E5D"/>
<rect x="1606.3" y="1727.3" width="25.1" height="27.5" fill="#451077"/>
<rect x="1633.0" y="1727.3" width="25.1" height="27.5" fill="#A02E80"/>
<rect x="1659.7" y="1727.3" width="25.1" height="27.5" fill="#A02E80"/>
<rect x="1686.5" y="1727.3" width="25.1" height="27.5" fill="#A02E80"/>
<rect x="1713.2" y="1727.3" width="25.1" height="27.5" fill="#CE4070"/>
<rect x="1739.9" y="1727.3" width="25.1" height="27.5" fill="#CE4070"/>
<rect x="1766.6" y="1727.3" width="25.1" height="27.5" fill="#EF5E5D"/>
<text x="1333.3" y="1747.8" font-size="24.96" font-weight="bold" text-anchor="end" font-style="italic" textLength="64.3" lengthAdjust="spacingAndGlyphs">ITGB2</text>
<rect x="1339.1" y="1756.4" width="25.1" height="27.5" fill="#CE4070"/>
<rect x="1365.8" y="1756.4" width="25.1" height="27.5" fill="#CE4070"/>
<rect x="1392.5" y="1756.4" width="25.1" height="27.5" fill="#FCFBBE"/>
<rect x="1419.3" y="1756.4" width="25.1" height="27.5" fill="#A02E80"/>
<rect x="1446.0" y="1756.4" width="25.1" height="27.5" fill="#FB9468"/>
<rect x="1472.7" y="1756.4" width="25.1" height="27.5" fill="#A02E80"/>
<rect x="1499.4" y="1756.4" width="25.1" height="27.5" fill="#701D81"/>
<rect x="1526.1" y="1756.4" width="25.1" height="27.5" fill="#A02E80"/>
<rect x="1552.9" y="1756.4" width="25.1" height="27.5" fill="#A02E80"/>
<rect x="1579.6" y="1756.4" width="25.1" height="27.5" fill="#A02E80"/>
<rect x="1606.3" y="1756.4" width="25.1" height="27.5" fill="#A02E80"/>
<rect x="1633.0" y="1756.4" width="25.1" height="27.5" fill="#A02E80"/>
<rect x="1659.7" y="1756.4" width="25.1" height="27.5" fill="#A02E80"/>
<rect x="1686.5" y="1756.4" width="25.1" height="27.5" fill="#A02E80"/>
<rect x="1713.2" y="1756.4" width="25.1" height="27.5" fill="#A02E80"/>
<rect x="1739.9" y="1756.4" width="25.1" height="27.5" fill="#A02E80"/>
<rect x="1766.6" y="1756.4" width="25.1" height="27.5" fill="#701D81"/>
<text x="1333.3" y="1776.9" font-size="24.96" font-weight="bold" text-anchor="end" font-style="italic" textLength="43.7" lengthAdjust="spacingAndGlyphs">CFP</text>
<rect x="1339.1" y="1785.5" width="25.1" height="27.5" fill="#EF5E5D"/>
<rect x="1365.8" y="1785.5" width="25.1" height="27.5" fill="#EF5E5D"/>
<rect x="1392.5" y="1785.5" width="25.1" height="27.5" fill="#FB9468"/>
<rect x="1419.3" y="1785.5" width="25.1" height="27.5" fill="#FB9468"/>
<rect x="1446.0" y="1785.5" width="25.1" height="27.5" fill="#451077"/>
<rect x="1472.7" y="1785.5" width="25.1" height="27.5" fill="#701D81"/>
<rect x="1499.4" y="1785.5" width="25.1" height="27.5" fill="#CE4070"/>
<rect x="1526.1" y="1785.5" width="25.1" height="27.5" fill="#701D81"/>
<rect x="1552.9" y="1785.5" width="25.1" height="27.5" fill="#CE4070"/>
<rect x="1579.6" y="1785.5" width="25.1" height="27.5" fill="#EF5E5D"/>
<rect x="1606.3" y="1785.5" width="25.1" height="27.5" fill="#701D81"/>
<rect x="1633.0" y="1785.5" width="25.1" height="27.5" fill="#A02E80"/>
<rect x="1659.7" y="1785.5" width="25.1" height="27.5" fill="#A02E80"/>
<rect x="1686.5" y="1785.5" width="25.1" height="27.5" fill="#701D81"/>
<rect x="1713.2" y="1785.5" width="25.1" height="27.5" fill="#CE4070"/>
<rect x="1739.9" y="1785.5" width="25.1" height="27.5" fill="#A02E80"/>
<rect x="1766.6" y="1785.5" width="25.1" height="27.5" fill="#701D81"/>
<text x="1333.3" y="1806.0" font-size="24.96" font-weight="bold" text-anchor="end" font-style="italic" textLength="46.1" lengthAdjust="spacingAndGlyphs">GLA</text>
<rect x="1340.2" y="557.0" width="24.0" height="14.9" fill="#E66E6E"/>
<rect x="1367.2" y="557.0" width="24.0" height="14.9" fill="#E66E6E"/>
<rect x="1394.2" y="557.0" width="24.0" height="14.9" fill="#E66E6E"/>
<rect x="1421.1" y="557.0" width="24.0" height="14.9" fill="#E66E6E"/>
<rect x="1448.1" y="557.0" width="24.0" height="14.9" fill="#E66E6E"/>
<rect x="1475.1" y="557.0" width="24.0" height="14.9" fill="#E66E6E"/>
<rect x="1502.1" y="557.0" width="24.0" height="14.9" fill="#E66E6E"/>
<rect x="1529.1" y="557.0" width="24.0" height="14.9" fill="#E66E6E"/>
<rect x="1556.0" y="557.0" width="24.0" height="14.9" fill="#E66E6E"/>
<rect x="1583.0" y="557.0" width="24.0" height="14.9" fill="#E66E6E"/>
<rect x="1610.0" y="557.0" width="24.0" height="14.9" fill="#4A9BF0"/>
<rect x="1637.0" y="557.0" width="24.0" height="14.9" fill="#4A9BF0"/>
<rect x="1664.0" y="557.0" width="24.0" height="14.9" fill="#4A9BF0"/>
<rect x="1690.9" y="557.0" width="24.0" height="14.9" fill="#4A9BF0"/>
<rect x="1717.9" y="557.0" width="24.0" height="14.9" fill="#4A9BF0"/>
<rect x="1744.9" y="557.0" width="24.0" height="14.9" fill="#4A9BF0"/>
<rect x="1771.9" y="557.0" width="24.0" height="14.9" fill="#4A9BF0"/>
<rect x="1457.7" y="526.0" width="29.7" height="18.0" fill="#E66E6E" stroke="#222" stroke-width="1.8"/>
<text x="1497.0" y="546.0" font-size="33.28" font-weight="bold" textLength="74.8" lengthAdjust="spacingAndGlyphs">PAPS</text>
<rect x="1649.4" y="526.0" width="31.0" height="18.0" fill="#4A9BF0" stroke="#222" stroke-width="1.8"/>
<text x="1694.8" y="546.0" font-size="33.28" font-weight="bold" textLength="43.0" lengthAdjust="spacingAndGlyphs">HD</text>
<rect x="1142.0" y="871.0" width="51.2" height="17.6" fill="#FCFBBE"/>
<rect x="1142.0" y="888.2" width="51.2" height="17.6" fill="#FDC68C"/>
<rect x="1142.0" y="905.4" width="51.2" height="17.6" fill="#FB9468"/>
<rect x="1142.0" y="922.6" width="51.2" height="17.6" fill="#EF5E5D"/>
<rect x="1142.0" y="939.8" width="51.2" height="17.6" fill="#CE4070"/>
<rect x="1142.0" y="957.0" width="51.2" height="17.6" fill="#A02E80"/>
<rect x="1142.0" y="974.2" width="51.2" height="17.6" fill="#701D81"/>
<rect x="1142.0" y="991.4" width="51.2" height="17.6" fill="#451077"/>
<rect x="1142.0" y="1008.6" width="51.2" height="17.6" fill="#1C1044"/>
<rect x="1142.0" y="1025.8" width="51.2" height="17.6" fill="#040407"/>
<text x="1210.0" y="903.8" font-size="32.24" font-weight="bold" textLength="16.5" lengthAdjust="spacingAndGlyphs">3</text>
<text x="1205.0" y="968.5" font-size="32.24" font-weight="bold" textLength="17.5" lengthAdjust="spacingAndGlyphs">0</text>
<text x="1197.0" y="1039.8" font-size="32.24" font-weight="bold" textLength="29.0" lengthAdjust="spacingAndGlyphs">-3</text>
<text x="1087.0" y="1079.7" font-size="27.04" font-weight="bold" textLength="144.0" lengthAdjust="spacingAndGlyphs">Normalized</text>
<text x="1099.0" y="1116.5" font-size="27.04" font-weight="bold" textLength="135.0" lengthAdjust="spacingAndGlyphs">expression</text>
<circle cx="621.8" cy="1978.5" r="20.5" fill="#6A1C82"/>
<circle cx="686.0" cy="1978.5" r="18.2" fill="#E85A5F"/>
<circle cx="750.6" cy="1978.5" r="21.0" fill="#4A1080"/>
<circle cx="815.2" cy="1978.5" r="15.8" fill="#B03A7C"/>
<circle cx="879.8" cy="1978.5" r="17.0" fill="#FCF6BC"/>
<line x1="575.4" y1="1978.5" x2="582.4" y2="1978.5" stroke="#000" stroke-width="1.8"/>
<text x="574.5" y="1987.0" font-size="24.96" font-weight="bold" text-anchor="end" font-style="italic" textLength="124.0" lengthAdjust="spacingAndGlyphs">TNFRSF13C</text>
<circle cx="621.8" cy="2029.4" r="10.7" fill="#FCC68A"/>
<circle cx="686.0" cy="2029.4" r="11.5" fill="#FBA877"/>
<circle cx="750.6" cy="2029.4" r="16.2" fill="#7C2382"/>
<circle cx="815.2" cy="2029.4" r="11.5" fill="#952C80"/>
<circle cx="879.8" cy="2029.4" r="15.8" fill="#2F0F60"/>
<line x1="575.4" y1="2029.4" x2="582.4" y2="2029.4" stroke="#000" stroke-width="1.8"/>
<text x="574.5" y="2037.9" font-size="24.96" font-weight="bold" text-anchor="end" font-style="italic" textLength="125.0" lengthAdjust="spacingAndGlyphs">TNFRSF13B</text>
<circle cx="621.8" cy="2080.8" r="18.4" fill="#FCC58A"/>
<circle cx="686.0" cy="2080.8" r="18.0" fill="#F57F62"/>
<circle cx="750.6" cy="2080.8" r="20.0" fill="#D2426C"/>
<circle cx="815.2" cy="2080.8" r="16.2" fill="#160F33"/>
<circle cx="879.8" cy="2080.8" r="17.0" fill="#A3307E"/>
<line x1="575.4" y1="2080.8" x2="582.4" y2="2080.8" stroke="#000" stroke-width="1.8"/>
<text x="574.5" y="2089.3" font-size="24.96" font-weight="bold" text-anchor="end" font-style="italic" textLength="82.5" lengthAdjust="spacingAndGlyphs">IFNGR1</text>
<circle cx="621.8" cy="2131.7" r="15.4" fill="#EC5A5E"/>
<circle cx="686.0" cy="2131.7" r="14.0" fill="#F47F62"/>
<circle cx="750.6" cy="2131.7" r="16.7" fill="#E6505F"/>
<circle cx="815.2" cy="2131.7" r="15.0" fill="#050307"/>
<circle cx="879.8" cy="2131.7" r="15.4" fill="#EC5A5E"/>
<line x1="575.4" y1="2131.7" x2="582.4" y2="2131.7" stroke="#000" stroke-width="1.8"/>
<text x="574.5" y="2140.2" font-size="24.96" font-weight="bold" text-anchor="end" font-style="italic" textLength="82.5" lengthAdjust="spacingAndGlyphs">IFNGR2</text>
<circle cx="621.8" cy="2183.0" r="15.4" fill="#F3735E"/>
<circle cx="686.0" cy="2183.0" r="13.7" fill="#FBAA78"/>
<circle cx="750.6" cy="2183.0" r="17.0" fill="#E0495F"/>
<circle cx="815.2" cy="2183.0" r="15.4" fill="#0E0A22"/>
<circle cx="879.8" cy="2183.0" r="16.2" fill="#A22E7E"/>
<line x1="575.4" y1="2183.0" x2="582.4" y2="2183.0" stroke="#000" stroke-width="1.8"/>
<text x="574.5" y="2191.5" font-size="24.96" font-weight="bold" text-anchor="end" font-style="italic" textLength="80.6" lengthAdjust="spacingAndGlyphs">IFNAR2</text>
<circle cx="621.8" cy="2233.6" r="18.0" fill="#D33E6C"/>
<circle cx="686.0" cy="2233.6" r="16.2" fill="#F78060"/>
<circle cx="750.6" cy="2233.6" r="19.3" fill="#E34A5F"/>
<circle cx="815.2" cy="2233.6" r="16.7" fill="#040305"/>
<circle cx="879.8" cy="2233.6" r="16.7" fill="#F27560"/>
<line x1="575.4" y1="2233.6" x2="582.4" y2="2233.6" stroke="#000" stroke-width="1.8"/>
<text x="574.5" y="2242.1" font-size="24.96" font-weight="bold" text-anchor="end" font-style="italic" textLength="80.6" lengthAdjust="spacingAndGlyphs">IFNAR1</text>
<circle cx="621.8" cy="2284.9" r="22.2" fill="#7F2482"/>
<circle cx="686.0" cy="2284.9" r="20.0" fill="#F06A5C"/>
<circle cx="750.6" cy="2284.9" r="21.0" fill="#E34A62"/>
<circle cx="815.2" cy="2284.9" r="19.7" fill="#150E38"/>
<circle cx="879.8" cy="2284.9" r="18.0" fill="#FCC58A"/>
<line x1="575.4" y1="2284.9" x2="582.4" y2="2284.9" stroke="#000" stroke-width="1.8"/>
<text x="574.5" y="2293.4" font-size="24.96" font-weight="bold" text-anchor="end" font-style="italic" textLength="47.5" lengthAdjust="spacingAndGlyphs">IL4R</text>
<circle cx="621.8" cy="2335.8" r="8.6" fill="#EE5D5E"/>
<circle cx="686.0" cy="2335.8" r="8.1" fill="#F67F62"/>
<circle cx="750.6" cy="2335.8" r="9.0" fill="#B8367A"/>
<circle cx="815.2" cy="2335.8" r="9.4" fill="#070509"/>
<circle cx="879.8" cy="2335.8" r="9.4" fill="#F67F62"/>
<line x1="575.4" y1="2335.8" x2="582.4" y2="2335.8" stroke="#000" stroke-width="1.8"/>
<text x="574.5" y="2344.3" font-size="24.96" font-weight="bold" text-anchor="end" font-style="italic" textLength="46.2" lengthAdjust="spacingAndGlyphs">IL6R</text>
<circle cx="621.8" cy="2387.2" r="8.6" fill="#050407"/>
<circle cx="686.0" cy="2387.2" r="8.1" fill="#EB585F"/>
<circle cx="750.6" cy="2387.2" r="8.6" fill="#C3386F"/>
<circle cx="815.2" cy="2387.2" r="8.6" fill="#F67F62"/>
<circle cx="879.8" cy="2387.2" r="8.6" fill="#F67F62"/>
<line x1="575.4" y1="2387.2" x2="582.4" y2="2387.2" stroke="#000" stroke-width="1.8"/>
<text x="574.5" y="2395.7" font-size="24.96" font-weight="bold" text-anchor="end" font-style="italic" textLength="111.0" lengthAdjust="spacingAndGlyphs">TNFRSF1A</text>
<line x1="582.4" y1="1946.9" x2="582.4" y2="2418.6" stroke="#000" stroke-width="2.6"/>
<line x1="581.4" y1="2417.6" x2="907.2" y2="2417.6" stroke="#000" stroke-width="2.6"/>
<line x1="621.8" y1="2417.6" x2="621.8" y2="2424.6" stroke="#000" stroke-width="1.8"/>
<text x="621.8" y="2445.4" font-size="23.92" font-weight="bold" text-anchor="middle" textLength="12.0" lengthAdjust="spacingAndGlyphs">1</text>
<line x1="686.0" y1="2417.6" x2="686.0" y2="2424.6" stroke="#000" stroke-width="1.8"/>
<text x="686.0" y="2445.4" font-size="23.92" font-weight="bold" text-anchor="middle" textLength="12.0" lengthAdjust="spacingAndGlyphs">2</text>
<line x1="750.6" y1="2417.6" x2="750.6" y2="2424.6" stroke="#000" stroke-width="1.8"/>
<text x="750.6" y="2445.4" font-size="23.92" font-weight="bold" text-anchor="middle" textLength="12.0" lengthAdjust="spacingAndGlyphs">7</text>
<line x1="815.2" y1="2417.6" x2="815.2" y2="2424.6" stroke="#000" stroke-width="1.8"/>
<text x="815.2" y="2445.4" font-size="23.92" font-weight="bold" text-anchor="middle" textLength="27.0" lengthAdjust="spacingAndGlyphs">11</text>
<line x1="879.8" y1="2417.6" x2="879.8" y2="2424.6" stroke="#000" stroke-width="1.8"/>
<text x="879.8" y="2445.4" font-size="23.92" font-weight="bold" text-anchor="middle" textLength="27.0" lengthAdjust="spacingAndGlyphs">14</text>
<text x="696.6" y="2484.7" font-size="31.2" font-weight="bold" textLength="111.3" lengthAdjust="spacingAndGlyphs">Clusters</text>
<text x="921.3" y="2071.8" font-size="22.88" textLength="137.0" lengthAdjust="spacingAndGlyphs">% expressed</text>
<rect x="939.3" y="2083.8" width="99.7" height="29.9" fill="none" stroke="#000" stroke-width="2.2"/>
<circle cx="952.5" cy="2098.7" r="4.0" fill="#000"/>
<circle cx="965.4" cy="2098.7" r="5.3" fill="#000"/>
<circle cx="981.2" cy="2098.7" r="6.3" fill="#000"/>
<circle cx="998.3" cy="2098.7" r="7.2" fill="#000"/>
<circle cx="1017.6" cy="2098.7" r="8.2" fill="#000"/>
<text x="942.7" y="2136.0" font-size="20.8" textLength="22.3" lengthAdjust="spacingAndGlyphs">20</text>
<text x="974.8" y="2136.0" font-size="20.8" textLength="22.7" lengthAdjust="spacingAndGlyphs">40</text>
<text x="1008.0" y="2136.0" font-size="20.8" textLength="23.0" lengthAdjust="spacingAndGlyphs">60</text>
<text x="947.0" y="2223.7" font-size="22.88" textLength="89.8" lengthAdjust="spacingAndGlyphs">Average</text>
<text x="933.0" y="2242.0" font-size="22.88" textLength="117.5" lengthAdjust="spacingAndGlyphs">expression</text>
<defs><linearGradient id="magH" x1="0" x2="1" y1="0" y2="0"><stop offset="0" stop-color="#FDE0A0"/><stop offset="0.15" stop-color="#FCA36F"/><stop offset="0.32" stop-color="#F0605D"/><stop offset="0.48" stop-color="#C83E73"/><stop offset="0.62" stop-color="#8C2981"/><stop offset="0.78" stop-color="#51127C"/><stop offset="0.9" stop-color="#1D1147"/><stop offset="1" stop-color="#000004"/></linearGradient></defs>
<rect x="939.7" y="2254" width="104.3" height="24" fill="url(#magH)" stroke="#000" stroke-width="2.4"/>
<line x1="950.1" y1="2255.5" x2="950.1" y2="2259.0" stroke="#fff" stroke-width="1" opacity="0.7"/>
<line x1="950.1" y1="2273.0" x2="950.1" y2="2276.5" stroke="#fff" stroke-width="1" opacity="0.7"/>
<line x1="979.3" y1="2255.5" x2="979.3" y2="2259.0" stroke="#fff" stroke-width="1" opacity="0.7"/>
<line x1="979.3" y1="2273.0" x2="979.3" y2="2276.5" stroke="#fff" stroke-width="1" opacity="0.7"/>
<line x1="1006.3" y1="2255.5" x2="1006.3" y2="2259.0" stroke="#fff" stroke-width="1" opacity="0.7"/>
<line x1="1006.3" y1="2273.0" x2="1006.3" y2="2276.5" stroke="#fff" stroke-width="1" opacity="0.7"/>
<line x1="1034.4" y1="2255.5" x2="1034.4" y2="2259.0" stroke="#fff" stroke-width="1" opacity="0.7"/>
<line x1="1034.4" y1="2273.0" x2="1034.4" y2="2276.5" stroke="#fff" stroke-width="1" opacity="0.7"/>
<text x="948.7" y="2298.6" font-size="20.8" text-anchor="middle" textLength="19.5" lengthAdjust="spacingAndGlyphs">-1</text>
<text x="980.0" y="2298.6" font-size="20.8" text-anchor="middle" textLength="10.0" lengthAdjust="spacingAndGlyphs">0</text>
<text x="1006.9" y="2298.6" font-size="20.8" text-anchor="middle" textLength="9.0" lengthAdjust="spacingAndGlyphs">1</text>
<text x="1035.5" y="2298.6" font-size="20.8" text-anchor="middle" textLength="10.0" lengthAdjust="spacingAndGlyphs">2</text>
<text x="1350.7" y="1943.0" font-size="28.08" font-weight="bold" textLength="240.9" lengthAdjust="spacingAndGlyphs">Naive B cells (FCM)</text>
<line x1="1155.5" y1="2060.5" x2="1456.0" y2="2060.5" stroke="#C8C8C8" stroke-width="1.4"/>
<path d="M1235.4,2060.5 C1236.6,2060.5 1240.0,2060.5 1241.4,2060.5 C1242.8,2060.5 1242.0,2060.5 1242.4,2060.5 C1242.8,2060.5 1243.0,2060.5 1243.4,2060.4 C1243.8,2060.4 1244.0,2060.4 1244.4,2060.3 C1244.8,2060.3 1245.0,2060.2 1245.4,2060.1 C1245.8,2059.9 1246.0,2059.9 1246.4,2059.5 C1246.8,2059.2 1247.0,2059.1 1247.4,2058.4 C1247.8,2057.7 1248.0,2057.4 1248.4,2056.3 C1248.8,2055.1 1249.0,2054.5 1249.4,2052.5 C1249.8,2050.6 1250.0,2049.5 1250.4,2046.7 C1250.8,2043.8 1251.0,2042.1 1251.4,2038.1 C1251.8,2034.1 1252.0,2031.8 1252.4,2026.9 C1252.8,2022.0 1253.0,2019.0 1253.4,2013.6 C1253.8,2008.1 1254.0,2005.0 1254.4,1999.7 C1254.8,1994.5 1255.0,1991.5 1255.4,1987.4 C1255.8,1983.2 1256.0,1981.1 1256.4,1978.8 C1256.8,1976.4 1257.0,1975.7 1257.4,1975.7 C1257.8,1975.7 1258.0,1976.4 1258.4,1978.8 C1258.8,1981.1 1259.0,1983.2 1259.4,1987.4 C1259.8,1991.5 1260.0,1994.5 1260.4,1999.7 C1260.8,2005.0 1261.0,2008.1 1261.4,2013.6 C1261.8,2019.0 1262.0,2022.0 1262.4,2026.9 C1262.8,2031.8 1263.0,2034.1 1263.4,2038.1 C1263.8,2042.1 1264.0,2043.8 1264.4,2046.7 C1264.8,2049.5 1265.0,2050.6 1265.4,2052.5 C1265.8,2054.5 1266.0,2055.1 1266.4,2056.3 C1266.8,2057.4 1267.0,2057.7 1267.4,2058.4 C1267.8,2059.1 1268.0,2059.2 1268.4,2059.5 C1268.8,2059.9 1269.0,2059.9 1269.4,2060.1 C1269.8,2060.2 1270.0,2060.3 1270.4,2060.3 C1270.8,2060.4 1271.0,2060.4 1271.4,2060.4 C1271.8,2060.5 1272.0,2060.5 1272.4,2060.5 C1272.8,2060.5 1272.0,2060.5 1273.4,2060.5 C1274.8,2060.5 1278.2,2060.5 1279.4,2060.5 Z" fill="#C9C9C9" stroke="none"/>
<path d="M1235.4,2060.5 C1236.6,2060.5 1240.0,2060.5 1241.4,2060.5 C1242.8,2060.5 1242.0,2060.5 1242.4,2060.5 C1242.8,2060.5 1243.0,2060.5 1243.4,2060.4 C1243.8,2060.4 1244.0,2060.4 1244.4,2060.3 C1244.8,2060.3 1245.0,2060.2 1245.4,2060.1 C1245.8,2059.9 1246.0,2059.9 1246.4,2059.5 C1246.8,2059.2 1247.0,2059.1 1247.4,2058.4 C1247.8,2057.7 1248.0,2057.4 1248.4,2056.3 C1248.8,2055.1 1249.0,2054.5 1249.4,2052.5 C1249.8,2050.6 1250.0,2049.5 1250.4,2046.7 C1250.8,2043.8 1251.0,2042.1 1251.4,2038.1 C1251.8,2034.1 1252.0,2031.8 1252.4,2026.9 C1252.8,2022.0 1253.0,2019.0 1253.4,2013.6 C1253.8,2008.1 1254.0,2005.0 1254.4,1999.7 C1254.8,1994.5 1255.0,1991.5 1255.4,1987.4 C1255.8,1983.2 1256.0,1981.1 1256.4,1978.8 C1256.8,1976.4 1257.0,1975.7 1257.4,1975.7 C1257.8,1975.7 1258.0,1976.4 1258.4,1978.8 C1258.8,1981.1 1259.0,1983.2 1259.4,1987.4 C1259.8,1991.5 1260.0,1994.5 1260.4,1999.7 C1260.8,2005.0 1261.0,2008.1 1261.4,2013.6 C1261.8,2019.0 1262.0,2022.0 1262.4,2026.9 C1262.8,2031.8 1263.0,2034.1 1263.4,2038.1 C1263.8,2042.1 1264.0,2043.8 1264.4,2046.7 C1264.8,2049.5 1265.0,2050.6 1265.4,2052.5 C1265.8,2054.5 1266.0,2055.1 1266.4,2056.3 C1266.8,2057.4 1267.0,2057.7 1267.4,2058.4 C1267.8,2059.1 1268.0,2059.2 1268.4,2059.5 C1268.8,2059.9 1269.0,2059.9 1269.4,2060.1 C1269.8,2060.2 1270.0,2060.3 1270.4,2060.3 C1270.8,2060.4 1271.0,2060.4 1271.4,2060.4 C1271.8,2060.5 1272.0,2060.5 1272.4,2060.5 C1272.8,2060.5 1272.0,2060.5 1273.4,2060.5 C1274.8,2060.5 1278.2,2060.5 1279.4,2060.5" fill="none" stroke="#8A8A8A" stroke-width="1.7"/>
<line x1="1155.5" y1="2150.7" x2="1456.0" y2="2150.7" stroke="#B8D4F2" stroke-width="1.4"/>
<path d="M1224.5,2150.7 C1225.7,2150.6 1227.5,2151.8 1230.5,2150.2 C1233.5,2148.6 1236.4,2147.0 1239.5,2142.6 C1242.6,2138.2 1243.3,2134.3 1246.0,2128.0 C1248.7,2121.7 1250.3,2119.8 1252.9,2111.2 C1255.5,2102.6 1256.8,2093.0 1259.0,2085.0 C1261.2,2077.0 1262.3,2074.3 1264.0,2071.0 C1265.7,2067.7 1265.7,2067.6 1267.3,2068.6 C1268.9,2069.6 1269.5,2069.3 1272.0,2076.0 C1274.5,2082.7 1277.0,2093.2 1279.8,2102.0 C1282.6,2110.8 1283.8,2114.6 1286.0,2120.0 C1288.2,2125.4 1288.8,2125.8 1291.0,2129.0 C1293.2,2132.2 1294.3,2133.7 1297.0,2136.0 C1299.7,2138.3 1300.9,2138.9 1304.5,2140.4 C1308.1,2141.9 1310.1,2142.3 1315.0,2143.5 C1319.9,2144.7 1322.0,2145.2 1329.0,2146.2 C1336.0,2147.2 1341.0,2147.7 1350.0,2148.3 C1359.0,2148.9 1360.2,2149.0 1374.0,2149.4 C1387.8,2149.8 1408.8,2150.0 1419.0,2150.3 C1429.2,2150.6 1423.8,2150.6 1425.0,2150.7 Z" fill="#9DC3EE" stroke="none"/>
<path d="M1224.5,2150.7 C1225.7,2150.6 1227.5,2151.8 1230.5,2150.2 C1233.5,2148.6 1236.4,2147.0 1239.5,2142.6 C1242.6,2138.2 1243.3,2134.3 1246.0,2128.0 C1248.7,2121.7 1250.3,2119.8 1252.9,2111.2 C1255.5,2102.6 1256.8,2093.0 1259.0,2085.0 C1261.2,2077.0 1262.3,2074.3 1264.0,2071.0 C1265.7,2067.7 1265.7,2067.6 1267.3,2068.6 C1268.9,2069.6 1269.5,2069.3 1272.0,2076.0 C1274.5,2082.7 1277.0,2093.2 1279.8,2102.0 C1282.6,2110.8 1283.8,2114.6 1286.0,2120.0 C1288.2,2125.4 1288.8,2125.8 1291.0,2129.0 C1293.2,2132.2 1294.3,2133.7 1297.0,2136.0 C1299.7,2138.3 1300.9,2138.9 1304.5,2140.4 C1308.1,2141.9 1310.1,2142.3 1315.0,2143.5 C1319.9,2144.7 1322.0,2145.2 1329.0,2146.2 C1336.0,2147.2 1341.0,2147.7 1350.0,2148.3 C1359.0,2148.9 1360.2,2149.0 1374.0,2149.4 C1387.8,2149.8 1408.8,2150.0 1419.0,2150.3 C1429.2,2150.6 1423.8,2150.6 1425.0,2150.7" fill="none" stroke="#1E6FCB" stroke-width="1.7"/>
<line x1="1155.5" y1="2241.3" x2="1456.0" y2="2241.3" stroke="#B5EAF8" stroke-width="1.4"/>
<path d="M1227.0,2241.3 C1228.2,2241.1 1231.0,2241.2 1233.0,2240.5 C1235.0,2239.8 1235.4,2239.7 1237.2,2238.0 C1239.0,2236.3 1240.2,2234.9 1242.0,2232.0 C1243.8,2229.1 1244.4,2228.6 1246.2,2223.4 C1248.0,2218.2 1249.2,2212.3 1251.0,2206.0 C1252.8,2199.7 1253.4,2198.8 1255.0,2192.0 C1256.6,2185.2 1257.6,2178.2 1259.0,2172.0 C1260.4,2165.8 1260.7,2163.7 1262.0,2161.0 C1263.3,2158.3 1264.1,2158.1 1265.5,2158.3 C1266.9,2158.5 1267.0,2158.9 1269.0,2162.0 C1271.0,2165.1 1273.1,2168.0 1275.3,2174.0 C1277.5,2180.0 1278.2,2184.8 1280.0,2192.0 C1281.8,2199.2 1282.3,2204.0 1284.3,2210.0 C1286.3,2216.0 1287.3,2218.0 1290.0,2222.0 C1292.7,2226.0 1295.2,2228.2 1297.8,2230.0 C1300.4,2231.8 1300.8,2230.7 1303.0,2231.0 C1305.2,2231.3 1306.4,2230.7 1309.0,2231.5 C1311.6,2232.3 1312.0,2233.7 1316.0,2235.0 C1320.0,2236.3 1322.2,2237.0 1329.0,2238.0 C1335.8,2239.0 1341.0,2239.3 1350.0,2239.8 C1359.0,2240.3 1360.0,2240.2 1374.0,2240.4 C1388.0,2240.6 1409.6,2240.8 1420.0,2241.0 C1430.4,2241.2 1424.8,2241.2 1426.0,2241.3 Z" fill="#A6E6F8" stroke="none"/>
<path d="M1227.0,2241.3 C1228.2,2241.1 1231.0,2241.2 1233.0,2240.5 C1235.0,2239.8 1235.4,2239.7 1237.2,2238.0 C1239.0,2236.3 1240.2,2234.9 1242.0,2232.0 C1243.8,2229.1 1244.4,2228.6 1246.2,2223.4 C1248.0,2218.2 1249.2,2212.3 1251.0,2206.0 C1252.8,2199.7 1253.4,2198.8 1255.0,2192.0 C1256.6,2185.2 1257.6,2178.2 1259.0,2172.0 C1260.4,2165.8 1260.7,2163.7 1262.0,2161.0 C1263.3,2158.3 1264.1,2158.1 1265.5,2158.3 C1266.9,2158.5 1267.0,2158.9 1269.0,2162.0 C1271.0,2165.1 1273.1,2168.0 1275.3,2174.0 C1277.5,2180.0 1278.2,2184.8 1280.0,2192.0 C1281.8,2199.2 1282.3,2204.0 1284.3,2210.0 C1286.3,2216.0 1287.3,2218.0 1290.0,2222.0 C1292.7,2226.0 1295.2,2228.2 1297.8,2230.0 C1300.4,2231.8 1300.8,2230.7 1303.0,2231.0 C1305.2,2231.3 1306.4,2230.7 1309.0,2231.5 C1311.6,2232.3 1312.0,2233.7 1316.0,2235.0 C1320.0,2236.3 1322.2,2237.0 1329.0,2238.0 C1335.8,2239.0 1341.0,2239.3 1350.0,2239.8 C1359.0,2240.3 1360.0,2240.2 1374.0,2240.4 C1388.0,2240.6 1409.6,2240.8 1420.0,2241.0 C1430.4,2241.2 1424.8,2241.2 1426.0,2241.3" fill="none" stroke="#22B4E0" stroke-width="1.7"/>
<line x1="1155.5" y1="2331.0" x2="1456.0" y2="2331.0" stroke="#E64A50" stroke-width="1.4"/>
<path d="M1224.5,2331.0 C1225.7,2330.8 1226.6,2331.8 1230.5,2330.0 C1234.4,2328.2 1239.9,2326.4 1244.0,2322.0 C1248.1,2317.6 1248.3,2314.3 1251.0,2308.0 C1253.7,2301.7 1254.8,2296.9 1257.4,2290.7 C1260.0,2284.5 1261.3,2281.9 1264.0,2277.0 C1266.7,2272.1 1268.5,2269.8 1270.9,2266.0 C1273.3,2262.2 1274.2,2260.2 1276.0,2258.0 C1277.8,2255.8 1278.1,2254.7 1279.8,2254.8 C1281.5,2254.9 1282.5,2258.0 1284.3,2258.4 C1286.1,2258.8 1287.3,2256.9 1288.8,2257.0 C1290.3,2257.1 1290.2,2256.7 1292.0,2259.0 C1293.8,2261.3 1294.9,2262.0 1297.8,2268.3 C1300.7,2274.6 1303.7,2284.2 1306.7,2290.7 C1309.7,2297.2 1310.3,2297.4 1313.0,2301.0 C1315.7,2304.6 1316.8,2305.2 1320.2,2308.6 C1323.6,2312.0 1326.4,2314.9 1330.0,2318.0 C1333.6,2321.1 1334.0,2322.2 1338.0,2324.3 C1342.0,2326.4 1344.6,2327.4 1350.0,2328.5 C1355.4,2329.6 1360.8,2329.5 1365.0,2330.0 C1369.2,2330.5 1369.8,2330.8 1371.0,2331.0 Z" fill="#F8A9AE" stroke="none"/>
<path d="M1224.5,2331.0 C1225.7,2330.8 1226.6,2331.8 1230.5,2330.0 C1234.4,2328.2 1239.9,2326.4 1244.0,2322.0 C1248.1,2317.6 1248.3,2314.3 1251.0,2308.0 C1253.7,2301.7 1254.8,2296.9 1257.4,2290.7 C1260.0,2284.5 1261.3,2281.9 1264.0,2277.0 C1266.7,2272.1 1268.5,2269.8 1270.9,2266.0 C1273.3,2262.2 1274.2,2260.2 1276.0,2258.0 C1277.8,2255.8 1278.1,2254.7 1279.8,2254.8 C1281.5,2254.9 1282.5,2258.0 1284.3,2258.4 C1286.1,2258.8 1287.3,2256.9 1288.8,2257.0 C1290.3,2257.1 1290.2,2256.7 1292.0,2259.0 C1293.8,2261.3 1294.9,2262.0 1297.8,2268.3 C1300.7,2274.6 1303.7,2284.2 1306.7,2290.7 C1309.7,2297.2 1310.3,2297.4 1313.0,2301.0 C1315.7,2304.6 1316.8,2305.2 1320.2,2308.6 C1323.6,2312.0 1326.4,2314.9 1330.0,2318.0 C1333.6,2321.1 1334.0,2322.2 1338.0,2324.3 C1342.0,2326.4 1344.6,2327.4 1350.0,2328.5 C1355.4,2329.6 1360.8,2329.5 1365.0,2330.0 C1369.2,2330.5 1369.8,2330.8 1371.0,2331.0" fill="none" stroke="#E64A50" stroke-width="1.7"/>
<line x1="1155.5" y1="2419.5" x2="1456.0" y2="2419.5" stroke="#EE8A20" stroke-width="1.4"/>
<path d="M1215.5,2419.5 C1216.7,2419.3 1218.6,2419.4 1221.5,2418.5 C1224.4,2417.6 1226.4,2416.8 1230.0,2415.0 C1233.6,2413.2 1236.1,2411.8 1239.5,2409.6 C1242.9,2407.4 1244.3,2406.3 1247.0,2404.0 C1249.7,2401.7 1250.0,2402.1 1253.0,2398.3 C1256.0,2394.5 1258.4,2391.3 1262.0,2385.0 C1265.6,2378.7 1267.7,2372.8 1270.9,2367.0 C1274.1,2361.2 1275.3,2358.7 1278.0,2356.0 C1280.7,2353.3 1281.9,2355.1 1284.3,2353.5 C1286.7,2351.9 1288.2,2349.3 1290.0,2348.0 C1291.8,2346.7 1291.7,2346.6 1293.3,2346.8 C1294.9,2347.0 1296.2,2349.9 1298.0,2349.0 C1299.8,2348.1 1300.9,2343.1 1302.3,2342.3 C1303.7,2341.5 1303.7,2342.8 1305.0,2345.0 C1306.3,2347.2 1307.2,2349.7 1309.0,2353.5 C1310.8,2357.3 1311.8,2359.5 1314.0,2364.0 C1316.2,2368.5 1317.2,2370.4 1320.2,2376.0 C1323.2,2381.6 1325.4,2386.2 1329.0,2392.0 C1332.6,2397.8 1334.4,2400.8 1338.0,2405.0 C1341.6,2409.2 1343.4,2410.3 1347.0,2413.0 C1350.6,2415.7 1353.0,2417.2 1356.0,2418.5 C1359.0,2419.8 1360.8,2419.3 1362.0,2419.5 Z" fill="#FBC895" stroke="none"/>
<path d="M1215.5,2419.5 C1216.7,2419.3 1218.6,2419.4 1221.5,2418.5 C1224.4,2417.6 1226.4,2416.8 1230.0,2415.0 C1233.6,2413.2 1236.1,2411.8 1239.5,2409.6 C1242.9,2407.4 1244.3,2406.3 1247.0,2404.0 C1249.7,2401.7 1250.0,2402.1 1253.0,2398.3 C1256.0,2394.5 1258.4,2391.3 1262.0,2385.0 C1265.6,2378.7 1267.7,2372.8 1270.9,2367.0 C1274.1,2361.2 1275.3,2358.7 1278.0,2356.0 C1280.7,2353.3 1281.9,2355.1 1284.3,2353.5 C1286.7,2351.9 1288.2,2349.3 1290.0,2348.0 C1291.8,2346.7 1291.7,2346.6 1293.3,2346.8 C1294.9,2347.0 1296.2,2349.9 1298.0,2349.0 C1299.8,2348.1 1300.9,2343.1 1302.3,2342.3 C1303.7,2341.5 1303.7,2342.8 1305.0,2345.0 C1306.3,2347.2 1307.2,2349.7 1309.0,2353.5 C1310.8,2357.3 1311.8,2359.5 1314.0,2364.0 C1316.2,2368.5 1317.2,2370.4 1320.2,2376.0 C1323.2,2381.6 1325.4,2386.2 1329.0,2392.0 C1332.6,2397.8 1334.4,2400.8 1338.0,2405.0 C1341.6,2409.2 1343.4,2410.3 1347.0,2413.0 C1350.6,2415.7 1353.0,2417.2 1356.0,2418.5 C1359.0,2419.8 1360.8,2419.3 1362.0,2419.5" fill="none" stroke="#EE8A20" stroke-width="1.7"/>
<rect x="1154.2" y="1969" width="302.8" height="451.8" fill="none" stroke="#555" stroke-width="2.2"/>
<text x="1162.3" y="1996.8" font-size="26.0" font-weight="bold" textLength="54.5" lengthAdjust="spacingAndGlyphs">FMO</text>
<text x="1162.3" y="2090.0" font-size="26.0" font-weight="bold" textLength="52.0" lengthAdjust="spacingAndGlyphs">HD1</text>
<text x="1162.3" y="2180.7" font-size="26.0" font-weight="bold" textLength="52.0" lengthAdjust="spacingAndGlyphs">HD2</text>
<text x="1162.3" y="2270.5" font-size="26.0" font-weight="bold" textLength="80.0" lengthAdjust="spacingAndGlyphs">PAPS1</text>
<text x="1162.3" y="2359.3" font-size="26.0" font-weight="bold" textLength="80.0" lengthAdjust="spacingAndGlyphs">PAPS2</text>
<line x1="1233.5" y1="2421.5" x2="1233.5" y2="2436.0" stroke="#000" stroke-width="2.6"/>
<line x1="1268.8" y1="2421.5" x2="1268.8" y2="2436.0" stroke="#000" stroke-width="2.6"/>
<line x1="1346.4" y1="2421.5" x2="1346.4" y2="2436.0" stroke="#000" stroke-width="2.6"/>
<line x1="1422.2" y1="2421.5" x2="1422.2" y2="2436.0" stroke="#000" stroke-width="2.6"/>
<line x1="1183.6" y1="2421.5" x2="1183.6" y2="2431.5" stroke="#000" stroke-width="2"/>
<line x1="1317.7" y1="2421.5" x2="1317.7" y2="2431.5" stroke="#000" stroke-width="2"/>
<line x1="1400.8" y1="2421.5" x2="1400.8" y2="2431.5" stroke="#000" stroke-width="2"/>
<line x1="1160.0" y1="2421.5" x2="1160.0" y2="2427.4" stroke="#000" stroke-width="1.6"/>
<line x1="1163.5" y1="2421.5" x2="1163.5" y2="2427.4" stroke="#000" stroke-width="1.6"/>
<line x1="1167.0" y1="2421.5" x2="1167.0" y2="2427.4" stroke="#000" stroke-width="1.6"/>
<line x1="1171.0" y1="2421.5" x2="1171.0" y2="2427.4" stroke="#000" stroke-width="1.6"/>
<line x1="1177.0" y1="2421.5" x2="1177.0" y2="2427.4" stroke="#000" stroke-width="1.6"/>
<line x1="1193.0" y1="2421.5" x2="1193.0" y2="2427.4" stroke="#000" stroke-width="1.6"/>
<line x1="1202.0" y1="2421.5" x2="1202.0" y2="2427.4" stroke="#000" stroke-width="1.6"/>
<line x1="1218.0" y1="2421.5" x2="1218.0" y2="2427.4" stroke="#000" stroke-width="1.6"/>
<line x1="1283.0" y1="2421.5" x2="1283.0" y2="2427.4" stroke="#000" stroke-width="1.6"/>
<line x1="1297.0" y1="2421.5" x2="1297.0" y2="2427.4" stroke="#000" stroke-width="1.6"/>
<line x1="1307.0" y1="2421.5" x2="1307.0" y2="2427.4" stroke="#000" stroke-width="1.6"/>
<line x1="1326.0" y1="2421.5" x2="1326.0" y2="2427.4" stroke="#000" stroke-width="1.6"/>
<line x1="1333.0" y1="2421.5" x2="1333.0" y2="2427.4" stroke="#000" stroke-width="1.6"/>
<line x1="1337.5" y1="2421.5" x2="1337.5" y2="2427.4" stroke="#000" stroke-width="1.6"/>
<line x1="1341.0" y1="2421.5" x2="1341.0" y2="2427.4" stroke="#000" stroke-width="1.6"/>
<line x1="1344.0" y1="2421.5" x2="1344.0" y2="2427.4" stroke="#000" stroke-width="1.6"/>
<line x1="1372.0" y1="2421.5" x2="1372.0" y2="2427.4" stroke="#000" stroke-width="1.6"/>
<line x1="1385.0" y1="2421.5" x2="1385.0" y2="2427.4" stroke="#000" stroke-width="1.6"/>
<line x1="1392.0" y1="2421.5" x2="1392.0" y2="2427.4" stroke="#000" stroke-width="1.6"/>
<line x1="1406.0" y1="2421.5" x2="1406.0" y2="2427.4" stroke="#000" stroke-width="1.6"/>
<line x1="1410.0" y1="2421.5" x2="1410.0" y2="2427.4" stroke="#000" stroke-width="1.6"/>
<line x1="1413.0" y1="2421.5" x2="1413.0" y2="2427.4" stroke="#000" stroke-width="1.6"/>
<line x1="1416.0" y1="2421.5" x2="1416.0" y2="2427.4" stroke="#000" stroke-width="1.6"/>
<line x1="1419.0" y1="2421.5" x2="1419.0" y2="2427.4" stroke="#000" stroke-width="1.6"/>
<line x1="1440.0" y1="2421.5" x2="1440.0" y2="2427.4" stroke="#000" stroke-width="1.6"/>
<line x1="1452.0" y1="2421.5" x2="1452.0" y2="2427.4" stroke="#000" stroke-width="1.6"/>
<rect x="1240.0" y="2421.5" width="24.0" height="7.0" fill="#000"/>
<rect x="1247.0" y="2421.5" width="7.0" height="14.0" fill="#000"/>
<line x1="1258.0" y1="2421.5" x2="1258.0" y2="2431.0" stroke="#000" stroke-width="2"/>
<line x1="1243.0" y1="2421.5" x2="1243.0" y2="2431.0" stroke="#000" stroke-width="2"/>
<text x="1239.7" y="2453.0" font-size="19.76" font-weight="bold" text-anchor="middle" textLength="10.0" lengthAdjust="spacingAndGlyphs">0</text>
<text x="1353.5" y="2453.0" font-size="19.76" font-weight="bold" text-anchor="middle" textLength="19.0" lengthAdjust="spacingAndGlyphs">10</text>
<text x="1367.5" y="2443.0" font-size="13.52" font-weight="bold" text-anchor="middle" textLength="7.0" lengthAdjust="spacingAndGlyphs">4</text>
<text x="1424.0" y="2453.0" font-size="19.76" font-weight="bold" text-anchor="middle" textLength="19.0" lengthAdjust="spacingAndGlyphs">10</text>
<text x="1438.0" y="2443.0" font-size="13.52" font-weight="bold" text-anchor="middle" textLength="7.0" lengthAdjust="spacingAndGlyphs">5</text>
<text x="1283.4" y="2484.5" font-size="28.08" font-weight="bold" textLength="55.6" lengthAdjust="spacingAndGlyphs">TACI</text>
<line x1="1156.5" y1="2474.6" x2="1264.0" y2="2474.6" stroke="#000" stroke-width="2.2"/>
<line x1="1349.0" y1="2474.6" x2="1454.8" y2="2474.6" stroke="#000" stroke-width="2.2"/>
<line x1="1591.6" y1="1981.9" x2="1591.6" y2="2204.7" stroke="#000" stroke-width="3"/>
<line x1="1580.4" y1="2203.2" x2="1757.6" y2="2203.2" stroke="#000" stroke-width="3.2"/>
<line x1="1580.4" y1="1983.4" x2="1591.6" y2="1983.4" stroke="#000" stroke-width="3"/>
<text x="1579.0" y="1991.4" font-size="22.88" font-weight="bold" text-anchor="end" textLength="33.6" lengthAdjust="spacingAndGlyphs">2.5</text>
<line x1="1580.4" y1="2026.9" x2="1591.6" y2="2026.9" stroke="#000" stroke-width="3"/>
<text x="1579.0" y="2034.9" font-size="22.88" font-weight="bold" text-anchor="end" textLength="14.0" lengthAdjust="spacingAndGlyphs">2</text>
<line x1="1580.4" y1="2071.8" x2="1591.6" y2="2071.8" stroke="#000" stroke-width="3"/>
<text x="1579.0" y="2079.8" font-size="22.88" font-weight="bold" text-anchor="end" textLength="33.6" lengthAdjust="spacingAndGlyphs">1.5</text>
<line x1="1580.4" y1="2115.7" x2="1591.6" y2="2115.7" stroke="#000" stroke-width="3"/>
<text x="1579.0" y="2123.7" font-size="22.88" font-weight="bold" text-anchor="end" textLength="14.0" lengthAdjust="spacingAndGlyphs">1</text>
<line x1="1580.4" y1="2159.2" x2="1591.6" y2="2159.2" stroke="#000" stroke-width="3"/>
<text x="1579.0" y="2167.2" font-size="22.88" font-weight="bold" text-anchor="end" textLength="33.6" lengthAdjust="spacingAndGlyphs">0.5</text>
<circle cx="1618.5" cy="2123.8" r="4.5" fill="none" stroke="#2A50A8" stroke-width="2.3"/>
<circle cx="1626.2" cy="2115.7" r="4.5" fill="none" stroke="#2A50A8" stroke-width="2.3"/>
<circle cx="1634.2" cy="2109.0" r="4.5" fill="none" stroke="#2A50A8" stroke-width="2.3"/>
<circle cx="1641.0" cy="2104.5" r="4.5" fill="none" stroke="#2A50A8" stroke-width="2.3"/>
<circle cx="1647.7" cy="2111.2" r="4.5" fill="none" stroke="#2A50A8" stroke-width="2.3"/>
<circle cx="1654.4" cy="2122.4" r="4.5" fill="none" stroke="#2A50A8" stroke-width="2.3"/>
<circle cx="1635.6" cy="2122.4" r="4.5" fill="none" stroke="#2A50A8" stroke-width="2.3"/>
<circle cx="1643.2" cy="2122.4" r="4.5" fill="none" stroke="#2A50A8" stroke-width="2.3"/>
<circle cx="1629.8" cy="2129.2" r="4.5" fill="none" stroke="#2A50A8" stroke-width="2.3"/>
<circle cx="1638.7" cy="2133.7" r="4.5" fill="none" stroke="#2A50A8" stroke-width="2.3"/>
<circle cx="1642.3" cy="2140.4" r="4.5" fill="none" stroke="#2A50A8" stroke-width="2.3"/>
<circle cx="1626.2" cy="2122.4" r="4.5" fill="none" stroke="#2A50A8" stroke-width="2.3"/>
<circle cx="1650.0" cy="2118.0" r="4.5" fill="none" stroke="#2A50A8" stroke-width="2.3"/>
<circle cx="1636.5" cy="2115.7" r="4.5" fill="none" stroke="#2A50A8" stroke-width="2.3"/>
<circle cx="1708.3" cy="2049.3" r="4.4" fill="#E05A5E"/>
<circle cx="1702.4" cy="2065.5" r="4.4" fill="#E05A5E"/>
<circle cx="1711.4" cy="2062.8" r="4.4" fill="#E05A5E"/>
<circle cx="1699.3" cy="2095.5" r="4.4" fill="#E05A5E"/>
<circle cx="1710.5" cy="2095.5" r="4.4" fill="#E05A5E"/>
<circle cx="1719.5" cy="2104.5" r="4.4" fill="#E05A5E"/>
<circle cx="1692.6" cy="2118.0" r="4.4" fill="#E05A5E"/>
<circle cx="1706.0" cy="2118.0" r="4.4" fill="#E05A5E"/>
<circle cx="1717.2" cy="2118.0" r="4.4" fill="#E05A5E"/>
<circle cx="1726.2" cy="2109.0" r="4.4" fill="#E05A5E"/>
<circle cx="1697.1" cy="2129.2" r="4.4" fill="#E05A5E"/>
<circle cx="1708.3" cy="2131.4" r="4.4" fill="#E05A5E"/>
<circle cx="1719.5" cy="2120.2" r="4.4" fill="#E05A5E"/>
<circle cx="1708.3" cy="2133.7" r="4.4" fill="#E05A5E"/>
<line x1="1608.0" y1="2121.0" x2="1654.4" y2="2121.0" stroke="#000" stroke-width="2.8"/>
<line x1="1641.0" y1="2117.0" x2="1641.0" y2="2125.0" stroke="#000" stroke-width="2.4"/>
<line x1="1631.0" y1="2117.0" x2="1651.0" y2="2117.0" stroke="#000" stroke-width="2.4"/>
<line x1="1631.0" y1="2125.0" x2="1651.0" y2="2125.0" stroke="#000" stroke-width="2.4"/>
<line x1="1679.0" y1="2101.0" x2="1737.4" y2="2101.0" stroke="#000" stroke-width="2.8"/>
<line x1="1708.0" y1="2094.0" x2="1708.0" y2="2108.0" stroke="#000" stroke-width="2.4"/>
<line x1="1698.0" y1="2094.0" x2="1718.0" y2="2094.0" stroke="#000" stroke-width="2.4"/>
<line x1="1698.0" y1="2108.0" x2="1718.0" y2="2108.0" stroke="#000" stroke-width="2.4"/>
<text x="1534.6" y="2151.6" font-size="22.88" font-weight="bold" textLength="141.6" lengthAdjust="spacingAndGlyphs" transform="rotate(-90 1534.6 2151.6)">TACI MFI ratio</text>
<text x="1637.8" y="2002.7" font-size="20.8" font-weight="bold" textLength="52.5" lengthAdjust="spacingAndGlyphs">0.008</text>
<line x1="1618.5" y1="2008.5" x2="1706.0" y2="2008.5" stroke="#000" stroke-width="2"/>
<line x1="1591.6" y1="2251.1" x2="1591.6" y2="2472.5" stroke="#000" stroke-width="3"/>
<line x1="1580.4" y1="2471.0" x2="1757.6" y2="2471.0" stroke="#000" stroke-width="3.2"/>
<line x1="1580.4" y1="2252.6" x2="1591.6" y2="2252.6" stroke="#000" stroke-width="3"/>
<text x="1579.0" y="2260.6" font-size="22.88" font-weight="bold" text-anchor="end" textLength="33.6" lengthAdjust="spacingAndGlyphs">2.5</text>
<line x1="1580.4" y1="2296.0" x2="1591.6" y2="2296.0" stroke="#000" stroke-width="3"/>
<text x="1579.0" y="2304.0" font-size="22.88" font-weight="bold" text-anchor="end" textLength="14.0" lengthAdjust="spacingAndGlyphs">2</text>
<line x1="1580.4" y1="2340.0" x2="1591.6" y2="2340.0" stroke="#000" stroke-width="3"/>
<text x="1579.0" y="2348.0" font-size="22.88" font-weight="bold" text-anchor="end" textLength="33.6" lengthAdjust="spacingAndGlyphs">1.5</text>
<line x1="1580.4" y1="2384.0" x2="1591.6" y2="2384.0" stroke="#000" stroke-width="3"/>
<text x="1579.0" y="2392.0" font-size="22.88" font-weight="bold" text-anchor="end" textLength="14.0" lengthAdjust="spacingAndGlyphs">1</text>
<line x1="1580.4" y1="2427.5" x2="1591.6" y2="2427.5" stroke="#000" stroke-width="3"/>
<text x="1579.0" y="2435.5" font-size="22.88" font-weight="bold" text-anchor="end" textLength="33.6" lengthAdjust="spacingAndGlyphs">0.5</text>
<circle cx="1616.3" cy="2364.7" r="4.5" fill="none" stroke="#2A50A8" stroke-width="2.3"/>
<circle cx="1627.5" cy="2362.5" r="4.5" fill="none" stroke="#2A50A8" stroke-width="2.3"/>
<circle cx="1638.7" cy="2367.0" r="4.5" fill="none" stroke="#2A50A8" stroke-width="2.3"/>
<circle cx="1646.8" cy="2363.4" r="4.5" fill="none" stroke="#2A50A8" stroke-width="2.3"/>
<circle cx="1620.8" cy="2375.9" r="4.5" fill="none" stroke="#2A50A8" stroke-width="2.3"/>
<circle cx="1634.2" cy="2371.4" r="4.5" fill="none" stroke="#2A50A8" stroke-width="2.3"/>
<circle cx="1645.5" cy="2375.9" r="4.5" fill="none" stroke="#2A50A8" stroke-width="2.3"/>
<circle cx="1616.3" cy="2384.9" r="4.5" fill="none" stroke="#2A50A8" stroke-width="2.3"/>
<circle cx="1629.8" cy="2382.7" r="4.5" fill="none" stroke="#2A50A8" stroke-width="2.3"/>
<circle cx="1643.2" cy="2382.7" r="4.5" fill="none" stroke="#2A50A8" stroke-width="2.3"/>
<circle cx="1656.7" cy="2384.9" r="4.5" fill="none" stroke="#2A50A8" stroke-width="2.3"/>
<circle cx="1625.3" cy="2396.1" r="4.5" fill="none" stroke="#2A50A8" stroke-width="2.3"/>
<circle cx="1636.5" cy="2402.8" r="4.5" fill="none" stroke="#2A50A8" stroke-width="2.3"/>
<circle cx="1641.0" cy="2411.8" r="4.5" fill="none" stroke="#2A50A8" stroke-width="2.3"/>
<circle cx="1708.3" cy="2337.8" r="4.4" fill="#E05A5E"/>
<circle cx="1692.6" cy="2380.4" r="4.4" fill="#E05A5E"/>
<circle cx="1701.5" cy="2373.7" r="4.4" fill="#E05A5E"/>
<circle cx="1715.0" cy="2371.4" r="4.4" fill="#E05A5E"/>
<circle cx="1724.0" cy="2380.4" r="4.4" fill="#E05A5E"/>
<circle cx="1697.1" cy="2393.9" r="4.4" fill="#E05A5E"/>
<circle cx="1710.5" cy="2396.1" r="4.4" fill="#E05A5E"/>
<circle cx="1719.5" cy="2393.9" r="4.4" fill="#E05A5E"/>
<circle cx="1706.0" cy="2416.3" r="4.4" fill="#E05A5E"/>
<circle cx="1717.2" cy="2416.3" r="4.4" fill="#E05A5E"/>
<circle cx="1692.6" cy="2423.0" r="4.4" fill="#E05A5E"/>
<circle cx="1708.3" cy="2429.8" r="4.4" fill="#E05A5E"/>
<circle cx="1721.7" cy="2432.0" r="4.4" fill="#E05A5E"/>
<circle cx="1694.8" cy="2398.4" r="4.4" fill="#E05A5E"/>
<line x1="1609.6" y1="2384.0" x2="1665.6" y2="2384.0" stroke="#000" stroke-width="2.8"/>
<line x1="1641.0" y1="2379.0" x2="1641.0" y2="2389.0" stroke="#000" stroke-width="2.4"/>
<line x1="1631.0" y1="2379.0" x2="1651.0" y2="2379.0" stroke="#000" stroke-width="2.4"/>
<line x1="1631.0" y1="2389.0" x2="1651.0" y2="2389.0" stroke="#000" stroke-width="2.4"/>
<line x1="1679.0" y1="2395.2" x2="1735.2" y2="2395.2" stroke="#000" stroke-width="2.8"/>
<line x1="1708.0" y1="2387.0" x2="1708.0" y2="2404.0" stroke="#000" stroke-width="2.4"/>
<line x1="1698.0" y1="2387.0" x2="1718.0" y2="2387.0" stroke="#000" stroke-width="2.4"/>
<line x1="1698.0" y1="2404.0" x2="1718.0" y2="2404.0" stroke="#000" stroke-width="2.4"/>
<text x="1534.6" y="2434.0" font-size="22.88" font-weight="bold" textLength="166.0" lengthAdjust="spacingAndGlyphs" transform="rotate(-90 1534.6 2434.0)">BAFF-R MFI ratio</text>
<circle cx="1623.0" cy="2268.0" r="5.8" fill="none" stroke="#2A50A8" stroke-width="2.6"/>
<text x="1636.5" y="2279.0" font-size="22.88" font-weight="bold" textLength="109.0" lengthAdjust="spacingAndGlyphs">HD (n = 14)</text>
<circle cx="1623.0" cy="2296.0" r="7.5" fill="#E05A5E"/>
<text x="1636.5" y="2304.0" font-size="22.88" font-weight="bold" textLength="131.5" lengthAdjust="spacingAndGlyphs">PAPS (n = 14)</text>
<defs><linearGradient id="infV" x1="0" x2="0" y1="0" y2="1"><stop offset="0" stop-color="#0A0722"/><stop offset="0.1" stop-color="#1E0C45"/><stop offset="0.2" stop-color="#420A68"/><stop offset="0.3" stop-color="#6A176E"/><stop offset="0.4" stop-color="#932667"/><stop offset="0.5" stop-color="#BC3754"/><stop offset="0.6" stop-color="#DD513A"/><stop offset="0.7" stop-color="#F37819"/><stop offset="0.8" stop-color="#FCA50A"/><stop offset="0.9" stop-color="#F6D746"/><stop offset="1" stop-color="#FCFFA4"/></linearGradient></defs>
<rect x="306.8" y="2002.4" width="24.9" height="109.6" fill="url(#infV)"/>
<line x1="306.8" y1="2017.6" x2="310.8" y2="2017.6" stroke="#fff" stroke-width="1"/>
<line x1="327.7" y1="2017.6" x2="331.7" y2="2017.6" stroke="#fff" stroke-width="1"/>
<text x="335.5" y="2024.6" font-size="20.8" textLength="11.0" lengthAdjust="spacingAndGlyphs">3</text>
<line x1="306.8" y1="2049.0" x2="310.8" y2="2049.0" stroke="#fff" stroke-width="1"/>
<line x1="327.7" y1="2049.0" x2="331.7" y2="2049.0" stroke="#fff" stroke-width="1"/>
<text x="335.5" y="2056.0" font-size="20.8" textLength="11.0" lengthAdjust="spacingAndGlyphs">2</text>
<line x1="306.8" y1="2081.0" x2="310.8" y2="2081.0" stroke="#fff" stroke-width="1"/>
<line x1="327.7" y1="2081.0" x2="331.7" y2="2081.0" stroke="#fff" stroke-width="1"/>
<text x="335.5" y="2088.0" font-size="20.8" textLength="11.0" lengthAdjust="spacingAndGlyphs">1</text>
<text x="335.5" y="2119.0" font-size="20.8" textLength="11.0" lengthAdjust="spacingAndGlyphs">0</text>
<rect x="308.0" y="2172.0" width="25.0" height="112.0" fill="url(#infV)"/>
<line x1="308.0" y1="2176.5" x2="312.0" y2="2176.5" stroke="#fff" stroke-width="1"/>
<line x1="329.0" y1="2176.5" x2="333.0" y2="2176.5" stroke="#fff" stroke-width="1"/>
<text x="339.0" y="2183.5" font-size="20.8" textLength="11.0" lengthAdjust="spacingAndGlyphs">3</text>
<line x1="308.0" y1="2201.0" x2="312.0" y2="2201.0" stroke="#fff" stroke-width="1"/>
<line x1="329.0" y1="2201.0" x2="333.0" y2="2201.0" stroke="#fff" stroke-width="1"/>
<text x="339.0" y="2208.0" font-size="20.8" textLength="11.0" lengthAdjust="spacingAndGlyphs">2</text>
<line x1="308.0" y1="2225.0" x2="312.0" y2="2225.0" stroke="#fff" stroke-width="1"/>
<line x1="329.0" y1="2225.0" x2="333.0" y2="2225.0" stroke="#fff" stroke-width="1"/>
<text x="339.0" y="2232.0" font-size="20.8" textLength="11.0" lengthAdjust="spacingAndGlyphs">1</text>
<line x1="308.0" y1="2248.0" x2="312.0" y2="2248.0" stroke="#fff" stroke-width="1"/>
<line x1="329.0" y1="2248.0" x2="333.0" y2="2248.0" stroke="#fff" stroke-width="1"/>
<text x="339.0" y="2255.0" font-size="20.8" textLength="11.0" lengthAdjust="spacingAndGlyphs">0</text>
<line x1="308.0" y1="2273.0" x2="312.0" y2="2273.0" stroke="#fff" stroke-width="1"/>
<line x1="329.0" y1="2273.0" x2="333.0" y2="2273.0" stroke="#fff" stroke-width="1"/>
<text x="339.0" y="2280.0" font-size="20.8" textLength="22.0" lengthAdjust="spacingAndGlyphs">−1</text>
<rect x="305.5" y="2341.0" width="24.5" height="110.6" fill="url(#infV)"/>
<line x1="305.5" y1="2357.6" x2="309.5" y2="2357.6" stroke="#fff" stroke-width="1"/>
<line x1="326.0" y1="2357.6" x2="330.0" y2="2357.6" stroke="#fff" stroke-width="1"/>
<text x="335.0" y="2364.6" font-size="20.8" textLength="11.0" lengthAdjust="spacingAndGlyphs">3</text>
<line x1="305.5" y1="2381.0" x2="309.5" y2="2381.0" stroke="#fff" stroke-width="1"/>
<line x1="326.0" y1="2381.0" x2="330.0" y2="2381.0" stroke="#fff" stroke-width="1"/>
<text x="335.0" y="2388.0" font-size="20.8" textLength="11.0" lengthAdjust="spacingAndGlyphs">2</text>
<line x1="305.5" y1="2404.6" x2="309.5" y2="2404.6" stroke="#fff" stroke-width="1"/>
<line x1="326.0" y1="2404.6" x2="330.0" y2="2404.6" stroke="#fff" stroke-width="1"/>
<text x="335.0" y="2411.6" font-size="20.8" textLength="11.0" lengthAdjust="spacingAndGlyphs">1</text>
<line x1="305.5" y1="2428.0" x2="309.5" y2="2428.0" stroke="#fff" stroke-width="1"/>
<line x1="326.0" y1="2428.0" x2="330.0" y2="2428.0" stroke="#fff" stroke-width="1"/>
<text x="335.0" y="2435.0" font-size="20.8" textLength="11.0" lengthAdjust="spacingAndGlyphs">0</text>
<text x="335.0" y="2458.6" font-size="20.8" textLength="22.0" lengthAdjust="spacingAndGlyphs">−1</text>
<text x="70.5" y="2034.7" font-size="22.88" font-weight="bold" text-anchor="middle" textLength="45.6" lengthAdjust="spacingAndGlyphs">MYC</text>
<text x="11.0" y="2063.0" font-size="22.88" font-weight="bold" textLength="119.0" lengthAdjust="spacingAndGlyphs">TARGETS V1</text>
<text x="16.6" y="2212.5" font-size="22.88" font-weight="bold" textLength="85.4" lengthAdjust="spacingAndGlyphs">MTORC1</text>
<text x="4.0" y="2241.5" font-size="22.88" font-weight="bold" textLength="110.7" lengthAdjust="spacingAndGlyphs">SIGNALING</text>
<text x="7.0" y="2381.0" font-size="22.88" font-weight="bold" textLength="105.0" lengthAdjust="spacingAndGlyphs">IFN ALPHA</text>
<text x="9.7" y="2410.0" font-size="22.88" font-weight="bold" textLength="102.3" lengthAdjust="spacingAndGlyphs">RESPONSE</text>
</svg>
</body></html>
